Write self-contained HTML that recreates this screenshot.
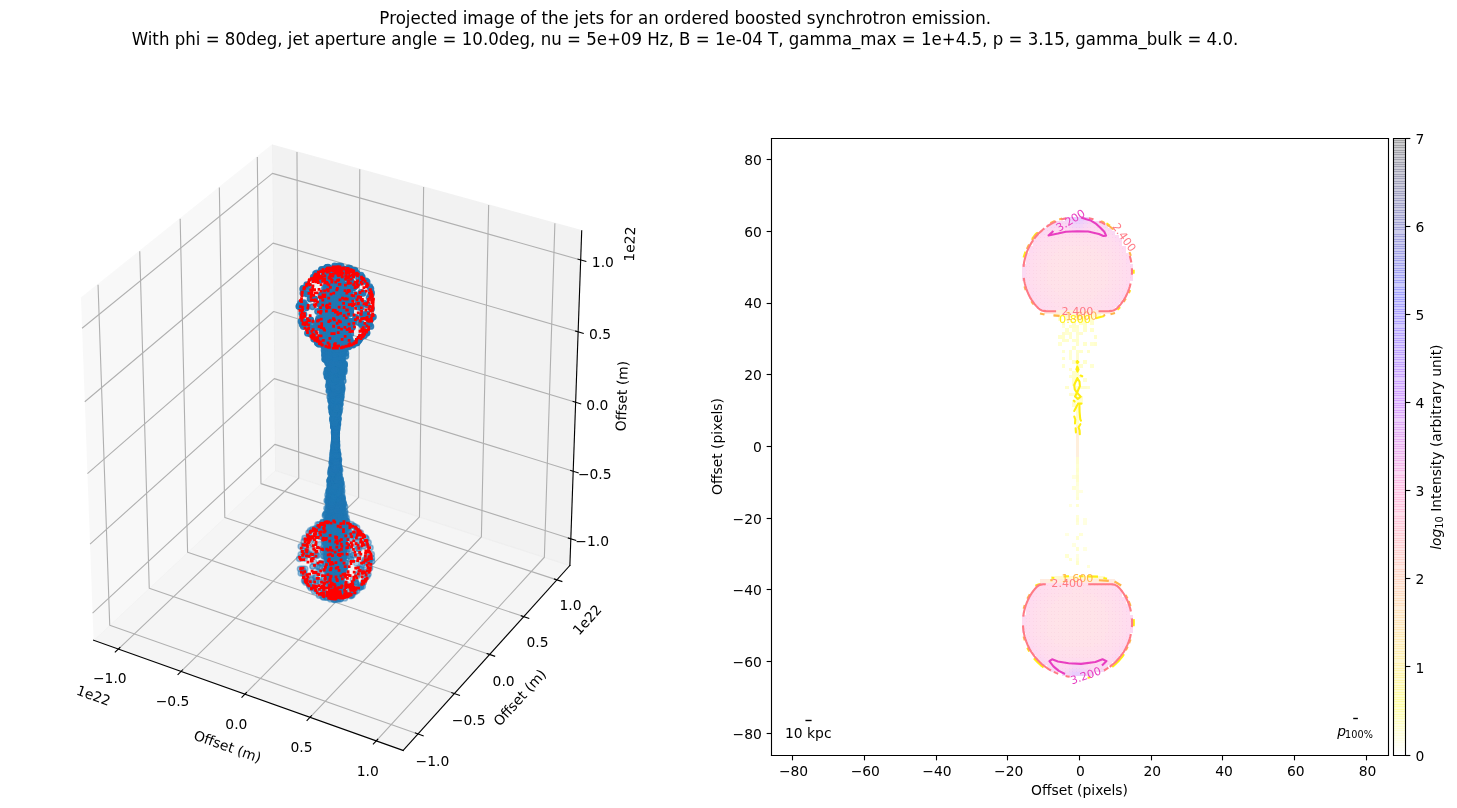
<!DOCTYPE html>
<html lang="en">
<head>
<meta charset="utf-8">
<title>Projected image of the jets</title>
<style>
html,body{margin:0;padding:0;background:#fff;overflow:hidden}
svg{display:block}
</style>
</head>
<body>
<svg width="1457" height="808" viewBox="0 0 1049.04 581.76" font-family="'DejaVu Sans', 'Liberation Sans', sans-serif">
<defs>
<style type="text/css">*{stroke-linejoin: round; stroke-linecap: butt}</style>
</defs>
<g id="figure_1">
<g id="patch_1">
<path d="M 0 581.76 
L 1049.04 581.76 
L 1049.04 0 
L 0 0 
z
" style="fill: #ffffff"/>
</g>
<g id="patch_2">
<path d="M -2.91 581.92 
L 473.03 581.92 
L 473.03 61.99 
L -2.91 61.99 
z
" style="fill: #ffffff"/>
</g>
<g id="pane3d_1">
<g id="patch_3">
<path d="M 67.37 461 
L 198.07 338.65 
L 195.97 104.45 
L 58.3 214.86 
" style="fill: #f2f2f2; opacity: 0.5; stroke: #f2f2f2; stroke-linejoin: miter"/>
</g>
</g>
<g id="pane3d_2">
<g id="patch_4">
<path d="M 198.07 338.65 
L 410.31 407.14 
L 418.83 166.16 
L 195.97 104.45 
" style="fill: #e6e6e6; opacity: 0.5; stroke: #e6e6e6; stroke-linejoin: miter"/>
</g>
</g>
<g id="pane3d_3">
<g id="patch_5">
<path d="M 67.37 461 
L 290.24 540.3 
L 410.31 407.14 
L 198.07 338.65 
" style="fill: #ececec; opacity: 0.5; stroke: #ececec; stroke-linejoin: miter"/>
</g>
</g>
<g id="grid3d_1">
<g id="Line3DCollection_1">
<path d="M 85.21 467.35 
L 215.1 344.15 
L 213.82 109.39 
" style="fill: none; stroke: #b0b0b0; stroke-width: 0.8"/>
<path d="M 130.38 483.42 
L 258.2 358.05 
L 259.02 121.9 
" style="fill: none; stroke: #b0b0b0; stroke-width: 0.8"/>
<path d="M 176.36 499.78 
L 302.03 372.2 
L 305.01 134.64 
" style="fill: none; stroke: #b0b0b0; stroke-width: 0.8"/>
<path d="M 223.2 516.45 
L 346.6 386.58 
L 351.84 147.61 
" style="fill: none; stroke: #b0b0b0; stroke-width: 0.8"/>
<path d="M 270.91 533.42 
L 391.95 401.22 
L 399.52 160.81 
" style="fill: none; stroke: #b0b0b0; stroke-width: 0.8"/>
</g>
</g>
<g id="grid3d_2">
<g id="Line3DCollection_2">
<path d="M 70.59 205.01 
L 79 450.12 
L 300.95 528.42 
" style="fill: none; stroke: #b0b0b0; stroke-width: 0.8"/>
<path d="M 100.62 180.91 
L 107.46 423.48 
L 327.14 499.37 
" style="fill: none; stroke: #b0b0b0; stroke-width: 0.8"/>
<path d="M 129.72 157.58 
L 135.06 397.64 
L 352.52 471.23 
" style="fill: none; stroke: #b0b0b0; stroke-width: 0.8"/>
<path d="M 157.92 134.96 
L 161.85 372.55 
L 377.12 443.95 
" style="fill: none; stroke: #b0b0b0; stroke-width: 0.8"/>
<path d="M 185.26 113.03 
L 187.87 348.2 
L 400.97 417.5 
" style="fill: none; stroke: #b0b0b0; stroke-width: 0.8"/>
</g>
</g>
<g id="grid3d_3">
<g id="Line3DCollection_3">
<path d="M 410.99 387.95 
L 197.9 319.96 
L 66.65 441.43 
" style="fill: none; stroke: #b0b0b0; stroke-width: 0.8"/>
<path d="M 412.71 339.28 
L 197.47 272.6 
L 64.82 391.77 
" style="fill: none; stroke: #b0b0b0; stroke-width: 0.8"/>
<path d="M 414.46 289.61 
L 197.04 224.31 
L 62.95 341.06 
" style="fill: none; stroke: #b0b0b0; stroke-width: 0.8"/>
<path d="M 416.26 238.92 
L 196.6 175.06 
L 61.04 289.27 
" style="fill: none; stroke: #b0b0b0; stroke-width: 0.8"/>
<path d="M 418.09 187.16 
L 196.15 124.82 
L 59.09 236.35 
" style="fill: none; stroke: #b0b0b0; stroke-width: 0.8"/>
</g>
</g>
<g id="axis3d_1">
<g id="line2d_1">
<path d="M 67.37 461 
L 290.24 540.3 
" style="fill: none; stroke: #000000; stroke-width: 0.8; stroke-linecap: square"/>
</g>
<g id="xtick_1">
<g id="line2d_2">
<path d="M 86.33 466.29 
L 82.98 469.47 
" style="fill: none; stroke: #000000; stroke-width: 0.8; stroke-linecap: square"/>
</g>
<g id="text_1" transform="translate(-.29 .65)">
<text style="font-size: 10px; text-anchor: middle" x="79.360875" y="491.235255">−1.0</text>
</g>
</g>
<g id="xtick_2">
<g id="line2d_3">
<path d="M 131.47 482.34 
L 128.17 485.58 
" style="fill: none; stroke: #000000; stroke-width: 0.8; stroke-linecap: square"/>
</g>
<g id="text_2" transform="translate(-.29 .65)">
<text style="font-size: 10px; text-anchor: middle" x="124.521124" y="507.469224">−0.5</text>
</g>
</g>
<g id="xtick_3">
<g id="line2d_4">
<path d="M 177.44 498.68 
L 174.2 501.98 
" style="fill: none; stroke: #000000; stroke-width: 0.8; stroke-linecap: square"/>
</g>
<g id="text_3" transform="translate(-.29 .65)">
<text style="font-size: 10px; text-anchor: middle" x="170.507404" y="524.00013">0.0</text>
</g>
</g>
<g id="xtick_4">
<g id="line2d_5">
<path d="M 224.26 515.33 
L 221.07 518.69 
" style="fill: none; stroke: #000000; stroke-width: 0.8; stroke-linecap: square"/>
</g>
<g id="text_4" transform="translate(-.29 .65)">
<text style="font-size: 10px; text-anchor: middle" x="217.342588" y="540.836196">0.5</text>
</g>
</g>
<g id="xtick_5">
<g id="line2d_6">
<path d="M 271.95 532.28 
L 268.82 535.7 
" style="fill: none; stroke: #000000; stroke-width: 0.8; stroke-linecap: square"/>
</g>
<g id="text_5" transform="translate(-.29 .65)">
<text style="font-size: 10px; text-anchor: middle" x="265.050401" y="557.98595">1.0</text>
</g>
</g>
<g id="text_6" transform="translate(.58 .94)">
<text style="font-size: 10px; text-anchor: start" x="53.714389" y="498.911452" transform="rotate(-340.415013 53.714389 498.911452)">1e22</text>
</g>
<g id="text_7" transform="translate(0 2.16)">
<text style="font-size: 10px; text-anchor: middle" x="162.691381" y="538.559818" transform="rotate(-340.415013 162.691381 538.559818)">Offset (m)</text>
</g>
</g>
<g id="axis3d_2">
<g id="line2d_7">
<path d="M 410.31 407.14 
L 290.24 540.3 
" style="fill: none; stroke: #000000; stroke-width: 0.8; stroke-linecap: square"/>
</g>
<g id="xtick_6">
<g id="line2d_8">
<path d="M 299.1 527.76 
L 304.67 529.73 
" style="fill: none; stroke: #000000; stroke-width: 0.8; stroke-linecap: square"/>
</g>
<g id="text_8" transform="translate(.29 .94)">
<text style="font-size: 10px; text-anchor: middle" x="311.095058" y="550.252586">−1.0</text>
</g>
</g>
<g id="xtick_7">
<g id="line2d_9">
<path d="M 325.31 498.74 
L 330.82 500.64 
" style="fill: none; stroke: #000000; stroke-width: 0.8; stroke-linecap: square"/>
</g>
<g id="text_9" transform="translate(.29 .94)">
<text style="font-size: 10px; text-anchor: middle" x="337.117341" y="520.990859">−0.5</text>
</g>
</g>
<g id="xtick_8">
<g id="line2d_10">
<path d="M 350.7 470.62 
L 356.15 472.46 
" style="fill: none; stroke: #000000; stroke-width: 0.8; stroke-linecap: square"/>
</g>
<g id="text_10" transform="translate(.29 .94)">
<text style="font-size: 10px; text-anchor: middle" x="362.329383" y="492.640237">0.0</text>
</g>
</g>
<g id="xtick_9">
<g id="line2d_11">
<path d="M 375.32 443.36 
L 380.71 445.14 
" style="fill: none; stroke: #000000; stroke-width: 0.8; stroke-linecap: square"/>
</g>
<g id="text_11" transform="translate(.29 .94)">
<text style="font-size: 10px; text-anchor: middle" x="386.768445" y="465.158822">0.5</text>
</g>
</g>
<g id="xtick_10">
<g id="line2d_12">
<path d="M 399.19 416.92 
L 404.52 418.65 
" style="fill: none; stroke: #000000; stroke-width: 0.8; stroke-linecap: square"/>
</g>
<g id="text_12" transform="translate(.29 .94)">
<text style="font-size: 10px; text-anchor: middle" x="410.469538" y="438.507243">1.0</text>
</g>
</g>
<g id="text_13" transform="translate(.94 1.3)">
<text style="font-size: 10px; text-anchor: end" x="432.876022" y="437.961339" transform="rotate(-47.958582 432.876022 437.961339)">1e22</text>
</g>
<g id="text_14" transform="translate(.94 1.58)">
<text style="font-size: 10px; text-anchor: middle" x="375.888257" y="503.092769" transform="rotate(-47.958582 375.888257 503.092769)">Offset (m)</text>
</g>
</g>
<g id="axis3d_3">
<g id="line2d_13">
<path d="M 410.31 407.14 
L 418.83 166.16 
" style="fill: none; stroke: #000000; stroke-width: 0.8; stroke-linecap: square"/>
</g>
<g id="xtick_11">
<g id="line2d_14">
<path d="M 409.21 387.38 
L 414.54 389.08 
" style="fill: none; stroke: #000000; stroke-width: 0.8; stroke-linecap: square"/>
</g>
<g id="text_15" transform="translate(.58 -.07)">
<text style="font-size: 10px; text-anchor: middle" x="425.770581" y="393.248184">−1.0</text>
</g>
</g>
<g id="xtick_12">
<g id="line2d_15">
<path d="M 410.91 338.72 
L 416.3 340.39 
" style="fill: none; stroke: #000000; stroke-width: 0.8; stroke-linecap: square"/>
</g>
<g id="text_16" transform="translate(.58 -.07)">
<text style="font-size: 10px; text-anchor: middle" x="427.638454" y="344.624338">−0.5</text>
</g>
</g>
<g id="xtick_13">
<g id="line2d_16">
<path d="M 412.65 289.07 
L 418.09 290.7 
" style="fill: none; stroke: #000000; stroke-width: 0.8; stroke-linecap: square"/>
</g>
<g id="text_17" transform="translate(.58 -.07)">
<text style="font-size: 10px; text-anchor: middle" x="429.54458" y="295.004678">0.0</text>
</g>
</g>
<g id="xtick_14">
<g id="line2d_17">
<path d="M 414.42 238.39 
L 419.92 239.99 
" style="fill: none; stroke: #000000; stroke-width: 0.8; stroke-linecap: square"/>
</g>
<g id="text_18" transform="translate(.58 -.07)">
<text style="font-size: 10px; text-anchor: middle" x="431.490148" y="244.358296">0.5</text>
</g>
</g>
<g id="xtick_15">
<g id="line2d_18">
<path d="M 416.23 186.64 
L 421.79 188.2 
" style="fill: none; stroke: #000000; stroke-width: 0.8; stroke-linecap: square"/>
</g>
<g id="text_19" transform="translate(.58 -.07)">
<text style="font-size: 10px; text-anchor: middle" x="433.476395" y="192.652992">1.0</text>
</g>
</g>
<g id="text_20" transform="translate(2.23 1.51)">
<text style="font-size: 10px; text-anchor: end" x="455.125988" y="161.722562" transform="rotate(-87.975429 455.125988 161.722562)">1e22</text>
</g>
<g id="text_21" transform="translate(1.3 .36)">
<text style="font-size: 10px; text-anchor: middle" x="449.951917" y="284.920547" transform="rotate(-87.975429 449.951917 284.920547)">Offset (m)</text>
</g>
</g>
<g id="axes_1">
<g id="Path3DCollection_1" fill="#1f77b4" stroke="#1f77b4" stroke-width="1">
<g fill-opacity=".3" stroke-opacity=".3">
<circle cx="242.7" cy="401.5" r="2"/>
<circle cx="243.9" cy="398.1" r="2"/>
<circle cx="240.7" cy="408.8" r="2"/>
<circle cx="239.6" cy="393.7" r="2"/>
<circle cx="238.3" cy="410.7" r="2"/>
<circle cx="243.9" cy="393.2" r="2"/>
<circle cx="244.2" cy="410.9" r="2"/>
<circle cx="237.1" cy="411" r="2"/>
<circle cx="251.9" cy="400.7" r="2"/>
<circle cx="241.3" cy="413.6" r="2"/>
</g>
<g fill-opacity=".32" stroke-opacity=".32">
<circle cx="244.8" cy="391" r="2"/>
<circle cx="237.1" cy="413.6" r="2"/>
<circle cx="252.6" cy="398.8" r="2"/>
<circle cx="251.8" cy="395" r="2"/>
<circle cx="235.7" cy="390.3" r="2"/>
<circle cx="236.6" cy="389.5" r="2"/>
<circle cx="237.5" cy="415.4" r="2"/>
<circle cx="252.3" cy="392.7" r="2"/>
<circle cx="238.1" cy="417.3" r="2"/>
<circle cx="230.3" cy="391.9" r="2"/>
<circle cx="230.2" cy="412.6" r="2"/>
<circle cx="229.1" cy="411.8" r="2"/>
<circle cx="233.1" cy="416.2" r="2"/>
<circle cx="256.6" cy="405.6" r="2"/>
<circle cx="226.1" cy="404.6" r="2"/>
<circle cx="242.6" cy="419.4" r="2"/>
<circle cx="240.2" cy="419.7" r="2"/>
<circle cx="232.5" cy="417.6" r="2"/>
<circle cx="235" cy="419.2" r="2"/>
<circle cx="224.6" cy="399.9" r="2"/>
<circle cx="236.6" cy="420.5" r="2"/>
</g>
<g fill-opacity=".34" stroke-opacity=".34">
<circle cx="234.9" cy="384.5" r="2"/>
<circle cx="256.9" cy="392.9" r="2"/>
<circle cx="248.1" cy="420.3" r="2"/>
<circle cx="258.3" cy="409" r="2"/>
<circle cx="238.6" cy="421.9" r="2"/>
<circle cx="258.5" cy="395.3" r="2"/>
<circle cx="254.1" cy="417.2" r="2"/>
<circle cx="249.5" cy="420.7" r="2"/>
<circle cx="245.1" cy="422.4" r="2"/>
<circle cx="223.7" cy="396" r="2"/>
<circle cx="257.5" cy="413.4" r="2"/>
<circle cx="222.7" cy="399.4" r="2"/>
<circle cx="257.5" cy="413.8" r="2"/>
<circle cx="224.8" cy="391.7" r="2"/>
<circle cx="222.4" cy="398.5" r="2"/>
<circle cx="260.8" cy="406.8" r="2"/>
<circle cx="241.4" cy="424.6" r="2"/>
<circle cx="251.1" cy="382.2" r="2"/>
<circle cx="238.6" cy="425" r="2"/>
<circle cx="224.8" cy="416.2" r="2"/>
<circle cx="243.6" cy="425.2" r="2"/>
<circle cx="246.5" cy="424.8" r="2"/>
<circle cx="220.7" cy="397" r="2"/>
</g>
<g fill-opacity=".36" stroke-opacity=".36">
<circle cx="249.8" cy="424.2" r="2"/>
<circle cx="248.5" cy="380.1" r="2"/>
<circle cx="247.2" cy="425.3" r="2"/>
<circle cx="241.2" cy="426.3" r="2"/>
<circle cx="240.7" cy="426.4" r="2"/>
<circle cx="229.8" cy="382.2" r="2"/>
<circle cx="247" cy="425.7" r="2"/>
<circle cx="241.9" cy="426.6" r="2"/>
<circle cx="242.7" cy="426.6" r="2"/>
<circle cx="244" cy="378.4" r="2"/>
<circle cx="219.3" cy="402.2" r="2"/>
<circle cx="262.5" cy="410.2" r="2"/>
<circle cx="243" cy="426.7" r="2"/>
<circle cx="232.2" cy="380.4" r="2"/>
<circle cx="223.9" cy="387.6" r="2"/>
<circle cx="262.1" cy="411.8" r="2"/>
<circle cx="237.4" cy="378.3" r="2"/>
<circle cx="230.2" cy="381.1" r="2"/>
<circle cx="242.7" cy="421" r="2"/>
<circle cx="219.7" cy="409.6" r="2"/>
<circle cx="233.1" cy="425.6" r="2"/>
<circle cx="241.4" cy="427.3" r="2"/>
<circle cx="241.5" cy="427.4" r="2"/>
<circle cx="242.3" cy="377.6" r="2"/>
<circle cx="239.4" cy="420.6" r="2"/>
<circle cx="239" cy="377.7" r="2"/>
<circle cx="240.7" cy="420" r="2"/>
<circle cx="242.7" cy="427.5" r="2"/>
<circle cx="239.2" cy="427.5" r="2"/>
<circle cx="244.4" cy="377.6" r="2"/>
<circle cx="244.6" cy="427.5" r="2"/>
<circle cx="242.2" cy="427.7" r="2"/>
<circle cx="240.6" cy="416.7" r="2"/>
<circle cx="241.1" cy="415.9" r="2"/>
<circle cx="241" cy="427.8" r="2"/>
<circle cx="247.5" cy="427" r="2"/>
<circle cx="243.3" cy="419.4" r="2"/>
<circle cx="241.5" cy="427.9" r="2"/>
<circle cx="238.5" cy="422.6" r="2"/>
<circle cx="242.1" cy="419.1" r="2"/>
<circle cx="242.3" cy="428" r="2"/>
<circle cx="243.4" cy="428" r="2"/>
<circle cx="242.1" cy="428.1" r="2"/>
<circle cx="241.2" cy="419.5" r="2"/>
<circle cx="251.1" cy="379.2" r="2"/>
<circle cx="242.3" cy="422.7" r="2"/>
<circle cx="240.4" cy="420.6" r="2"/>
<circle cx="241.7" cy="422.8" r="2"/>
<circle cx="238.6" cy="421" r="2"/>
<circle cx="238.3" cy="420.9" r="2"/>
<circle cx="243.4" cy="422" r="2"/>
<circle cx="243.8" cy="421" r="2"/>
<circle cx="240.1" cy="415.4" r="2"/>
<circle cx="240.5" cy="428.3" r="2"/>
<circle cx="243.6" cy="420.3" r="2"/>
<circle cx="241.1" cy="422.5" r="2"/>
<circle cx="243.7" cy="415.5" r="2"/>
<circle cx="242" cy="428.4" r="2"/>
<circle cx="242.1" cy="416.8" r="2"/>
<circle cx="240.6" cy="420.3" r="2"/>
<circle cx="240.5" cy="420.6" r="2"/>
<circle cx="232" cy="426.4" r="2"/>
<circle cx="247.3" cy="427.8" r="2"/>
<circle cx="242.3" cy="416.5" r="2"/>
<circle cx="243" cy="420.8" r="2"/>
<circle cx="247.7" cy="427.8" r="2"/>
<circle cx="218.3" cy="396.5" r="2"/>
<circle cx="244.7" cy="421.1" r="2"/>
<circle cx="242.5" cy="423.2" r="2"/>
</g>
<g fill-opacity=".38" stroke-opacity=".38">
<circle cx="243.5" cy="414.7" r="2"/>
<circle cx="232.9" cy="427.1" r="2"/>
<circle cx="239.9" cy="418.1" r="2"/>
<circle cx="235.3" cy="427.9" r="2"/>
<circle cx="219.7" cy="413.7" r="2"/>
<circle cx="239.1" cy="417.3" r="2"/>
<circle cx="239.9" cy="422.1" r="2"/>
<circle cx="237.6" cy="417.8" r="2"/>
<circle cx="248.6" cy="427.7" r="2"/>
<circle cx="238.4" cy="419" r="2"/>
<circle cx="240.2" cy="418.5" r="2"/>
<circle cx="238.9" cy="428.8" r="2"/>
<circle cx="218.7" cy="411.4" r="2"/>
<circle cx="242.2" cy="416.7" r="2"/>
<circle cx="240.7" cy="420.9" r="2"/>
<circle cx="243.7" cy="424.3" r="2"/>
<circle cx="240.9" cy="423.3" r="2"/>
<circle cx="240.2" cy="424.7" r="2"/>
<circle cx="244.5" cy="420.9" r="2"/>
<circle cx="242.8" cy="429.1" r="2"/>
<circle cx="240.4" cy="420" r="2"/>
<circle cx="241" cy="422.9" r="2"/>
<circle cx="240.2" cy="424.5" r="2"/>
<circle cx="234.1" cy="428" r="2"/>
<circle cx="240.9" cy="420.1" r="2"/>
<circle cx="245.2" cy="428.9" r="2"/>
<circle cx="217.9" cy="409.5" r="2"/>
<circle cx="241.5" cy="408.7" r="2"/>
<circle cx="244.2" cy="412.1" r="2"/>
<circle cx="241.8" cy="414.2" r="2"/>
<circle cx="244.6" cy="418.6" r="2"/>
<circle cx="247.6" cy="428.5" r="2"/>
<circle cx="243.6" cy="422.6" r="2"/>
<circle cx="239" cy="416.7" r="2"/>
<circle cx="237.9" cy="421.8" r="2"/>
<circle cx="239.2" cy="421.2" r="2"/>
<circle cx="238.4" cy="408.8" r="2"/>
<circle cx="244.3" cy="414.5" r="2"/>
<circle cx="244.1" cy="412.4" r="2"/>
<circle cx="242.3" cy="418" r="2"/>
<circle cx="243.4" cy="419.7" r="2"/>
<circle cx="245.1" cy="412.9" r="2"/>
<circle cx="244.8" cy="408.7" r="2"/>
<circle cx="238.4" cy="413.6" r="2"/>
<circle cx="243.8" cy="412.7" r="2"/>
<circle cx="266.1" cy="404.9" r="2"/>
<circle cx="238.6" cy="422.5" r="2"/>
<circle cx="243" cy="410.7" r="2"/>
<circle cx="242.5" cy="416.5" r="2"/>
<circle cx="266.2" cy="402.5" r="2"/>
<circle cx="244.8" cy="421.7" r="2"/>
<circle cx="239.5" cy="422.6" r="2"/>
<circle cx="241.7" cy="415.5" r="2"/>
<circle cx="239.5" cy="423.8" r="2"/>
<circle cx="237.6" cy="429.4" r="2"/>
<circle cx="241.3" cy="405.7" r="2"/>
<circle cx="244.7" cy="416.9" r="2"/>
<circle cx="242.3" cy="422.1" r="2"/>
<circle cx="243.3" cy="418.5" r="2"/>
<circle cx="242" cy="415.3" r="2"/>
<circle cx="245.4" cy="415.1" r="2"/>
<circle cx="239.4" cy="420.5" r="2"/>
<circle cx="248.1" cy="428.8" r="2"/>
<circle cx="241.4" cy="418.8" r="2"/>
<circle cx="246.2" cy="413.9" r="2"/>
<circle cx="245.1" cy="419" r="2"/>
<circle cx="262.9" cy="416.5" r="2"/>
<circle cx="242.6" cy="414.8" r="2"/>
<circle cx="240.8" cy="403.8" r="2"/>
<circle cx="240.8" cy="418.2" r="2"/>
<circle cx="238.5" cy="414.8" r="2"/>
<circle cx="243.1" cy="415" r="2"/>
<circle cx="242.9" cy="421.1" r="2"/>
<circle cx="237.8" cy="418.6" r="2"/>
<circle cx="242.8" cy="422.5" r="2"/>
<circle cx="236.4" cy="415" r="2"/>
<circle cx="237.8" cy="420.4" r="2"/>
<circle cx="237.9" cy="429.7" r="2"/>
<circle cx="242.4" cy="423.8" r="2"/>
<circle cx="242.3" cy="430" r="2"/>
<circle cx="246.8" cy="411.6" r="2"/>
<circle cx="218.3" cy="412.9" r="2"/>
<circle cx="239.9" cy="422.2" r="2"/>
<circle cx="244.2" cy="414.9" r="2"/>
<circle cx="237.2" cy="412.2" r="2"/>
<circle cx="237.4" cy="418.8" r="2"/>
<circle cx="241.8" cy="423.6" r="2"/>
<circle cx="245.8" cy="419.3" r="2"/>
<circle cx="245.8" cy="416.1" r="2"/>
<circle cx="216.6" cy="399.3" r="2"/>
<circle cx="241.8" cy="424.8" r="2"/>
<circle cx="243" cy="430.1" r="2"/>
<circle cx="244.5" cy="422.5" r="2"/>
<circle cx="236.1" cy="407" r="2"/>
<circle cx="241.1" cy="420" r="2"/>
<circle cx="260.2" cy="421.1" r="2"/>
<circle cx="242.6" cy="403.7" r="2"/>
<circle cx="222.4" cy="420.7" r="2"/>
<circle cx="242.7" cy="418.1" r="2"/>
<circle cx="236.1" cy="406.6" r="2"/>
<circle cx="259.7" cy="383.5" r="2"/>
<circle cx="246.9" cy="410.1" r="2"/>
<circle cx="243.3" cy="406" r="2"/>
<circle cx="245.6" cy="414.9" r="2"/>
<circle cx="241.9" cy="422.5" r="2"/>
<circle cx="243.3" cy="421.1" r="2"/>
<circle cx="239.2" cy="421.8" r="2"/>
<circle cx="240.3" cy="416.6" r="2"/>
<circle cx="241.3" cy="417.1" r="2"/>
<circle cx="241.5" cy="421.2" r="2"/>
<circle cx="242.3" cy="418.9" r="2"/>
<circle cx="238.7" cy="404.9" r="2"/>
<circle cx="241.8" cy="419.1" r="2"/>
<circle cx="244.9" cy="418.9" r="2"/>
<circle cx="237.9" cy="401.3" r="2"/>
<circle cx="245.5" cy="410.5" r="2"/>
<circle cx="237.6" cy="415.9" r="2"/>
<circle cx="242.7" cy="416" r="2"/>
<circle cx="242.8" cy="405.8" r="2"/>
<circle cx="240.6" cy="430.5" r="2"/>
<circle cx="243.2" cy="411.4" r="2"/>
<circle cx="238.6" cy="399.7" r="2"/>
<circle cx="264.4" cy="415" r="2"/>
<circle cx="240.9" cy="407.7" r="2"/>
<circle cx="244.2" cy="422.1" r="2"/>
</g>
<g fill-opacity=".4" stroke-opacity=".4">
<circle cx="239.8" cy="420.8" r="2"/>
<circle cx="242.1" cy="416.6" r="2"/>
<circle cx="243.7" cy="399.2" r="2"/>
<circle cx="240.9" cy="418.7" r="2"/>
<circle cx="244.9" cy="413.3" r="2"/>
<circle cx="242.5" cy="408.7" r="2"/>
<circle cx="243.2" cy="411.1" r="2"/>
<circle cx="239.4" cy="422.2" r="2"/>
<circle cx="236" cy="412.9" r="2"/>
<circle cx="238.8" cy="421.5" r="2"/>
<circle cx="237.2" cy="411.8" r="2"/>
<circle cx="259.8" cy="422.4" r="2"/>
<circle cx="235.8" cy="414.6" r="2"/>
<circle cx="242" cy="416.7" r="2"/>
<circle cx="238" cy="415.6" r="2"/>
<circle cx="241.6" cy="422" r="2"/>
<circle cx="238.4" cy="408.2" r="2"/>
<circle cx="245.5" cy="419" r="2"/>
<circle cx="245.3" cy="415" r="2"/>
<circle cx="218.7" cy="389.8" r="2"/>
<circle cx="241.7" cy="418.3" r="2"/>
<circle cx="238.2" cy="415.7" r="2"/>
<circle cx="236.7" cy="411.9" r="2"/>
<circle cx="236.1" cy="414.4" r="2"/>
<circle cx="242.3" cy="413.6" r="2"/>
<circle cx="235.3" cy="430.1" r="2"/>
<circle cx="242.1" cy="414.3" r="2"/>
<circle cx="232.5" cy="376.3" r="2"/>
<circle cx="257.1" cy="425.3" r="2"/>
<circle cx="252" cy="428.6" r="2"/>
<circle cx="259.9" cy="422.6" r="2"/>
<circle cx="255.4" cy="379" r="2"/>
<circle cx="248.5" cy="408.2" r="2"/>
<circle cx="237" cy="402.4" r="2"/>
<circle cx="245.3" cy="406.7" r="2"/>
<circle cx="239.2" cy="409.3" r="2"/>
<circle cx="240.4" cy="401.1" r="2"/>
<circle cx="219.7" cy="417.9" r="2"/>
<circle cx="238.4" cy="415.7" r="2"/>
<circle cx="242.3" cy="397.5" r="2"/>
<circle cx="247.3" cy="400.7" r="2"/>
<circle cx="247.4" cy="400.1" r="2"/>
<circle cx="246.3" cy="417.5" r="2"/>
<circle cx="238.5" cy="411.5" r="2"/>
<circle cx="242.8" cy="417.6" r="2"/>
<circle cx="244.4" cy="413.2" r="2"/>
<circle cx="243.2" cy="391.9" r="2"/>
<circle cx="253" cy="377.4" r="2"/>
<circle cx="235" cy="430.3" r="2"/>
<circle cx="242.5" cy="417.6" r="2"/>
<circle cx="240.6" cy="409.4" r="2"/>
<circle cx="243.6" cy="418.4" r="2"/>
<circle cx="244.6" cy="415.4" r="2"/>
<circle cx="242.9" cy="407.1" r="2"/>
<circle cx="243.7" cy="405.6" r="2"/>
<circle cx="226.3" cy="425.9" r="2"/>
<circle cx="241.3" cy="398.7" r="2"/>
<circle cx="245.2" cy="415.2" r="2"/>
<circle cx="238.5" cy="410.5" r="2"/>
<circle cx="235.9" cy="395.8" r="2"/>
<circle cx="237.6" cy="409" r="2"/>
<circle cx="235.9" cy="403.6" r="2"/>
<circle cx="243.7" cy="405.8" r="2"/>
<circle cx="234.6" cy="401.1" r="2"/>
<circle cx="242.7" cy="406.2" r="2"/>
<circle cx="245.7" cy="414.7" r="2"/>
<circle cx="241.1" cy="405.4" r="2"/>
<circle cx="246.8" cy="413.2" r="2"/>
<circle cx="232.2" cy="376.2" r="2"/>
<circle cx="239.7" cy="401.3" r="2"/>
<circle cx="245" cy="415.4" r="2"/>
<circle cx="241" cy="415.9" r="2"/>
<circle cx="241.1" cy="407.1" r="2"/>
<circle cx="253.1" cy="428.4" r="2"/>
<circle cx="239.2" cy="415.6" r="2"/>
<circle cx="237.3" cy="404.1" r="2"/>
<circle cx="247.1" cy="398.6" r="2"/>
<circle cx="241.5" cy="413.6" r="2"/>
<circle cx="241.8" cy="389.2" r="2"/>
<circle cx="243.1" cy="374.3" r="2"/>
<circle cx="236" cy="392.4" r="2"/>
<circle cx="241.1" cy="396.8" r="2"/>
<circle cx="248" cy="408.8" r="2"/>
<circle cx="239.3" cy="407.4" r="2"/>
<circle cx="238.8" cy="418" r="2"/>
<circle cx="236.2" cy="406.4" r="2"/>
<circle cx="235.6" cy="401.6" r="2"/>
<circle cx="238.3" cy="393.3" r="2"/>
<circle cx="245.8" cy="404" r="2"/>
<circle cx="244.8" cy="374.5" r="2"/>
<circle cx="239.6" cy="417.9" r="2"/>
<circle cx="240.3" cy="413.4" r="2"/>
<circle cx="236.3" cy="405.1" r="2"/>
<circle cx="232.5" cy="375.9" r="2"/>
<circle cx="236.2" cy="407" r="2"/>
<circle cx="240.4" cy="389" r="2"/>
<circle cx="245.7" cy="374.6" r="2"/>
<circle cx="263.8" cy="387.8" r="2"/>
<circle cx="239.4" cy="398.5" r="2"/>
<circle cx="235.8" cy="392" r="2"/>
<circle cx="239.4" cy="413.5" r="2"/>
<circle cx="248.4" cy="404.9" r="2"/>
<circle cx="248.3" cy="410.4" r="2"/>
<circle cx="244.7" cy="410" r="2"/>
<circle cx="236.5" cy="410.3" r="2"/>
<circle cx="243.2" cy="415.1" r="2"/>
<circle cx="244.5" cy="409.3" r="2"/>
<circle cx="237.8" cy="412.6" r="2"/>
<circle cx="220" cy="419.4" r="2"/>
<circle cx="241.9" cy="389" r="2"/>
</g>
<g fill-opacity=".42" stroke-opacity=".42">
<circle cx="246.5" cy="409.9" r="2"/>
<circle cx="235.1" cy="410.5" r="2"/>
<circle cx="235.6" cy="402.9" r="2"/>
<circle cx="247.1" cy="403.6" r="2"/>
<circle cx="236.6" cy="410.3" r="2"/>
<circle cx="241.4" cy="408.9" r="2"/>
<circle cx="228.7" cy="377.7" r="2"/>
<circle cx="241.1" cy="402.7" r="2"/>
<circle cx="242.7" cy="418" r="2"/>
<circle cx="244.5" cy="395.6" r="2"/>
<circle cx="243.4" cy="406" r="2"/>
<circle cx="246" cy="394.3" r="2"/>
<circle cx="234.3" cy="406" r="2"/>
<circle cx="236.1" cy="374.7" r="2"/>
<circle cx="234.9" cy="400.2" r="2"/>
<circle cx="241.4" cy="406.1" r="2"/>
<circle cx="243.1" cy="431.6" r="2"/>
<circle cx="244.1" cy="392" r="2"/>
<circle cx="237.1" cy="374.5" r="2"/>
<circle cx="223.4" cy="382" r="2"/>
<circle cx="241.3" cy="408.6" r="2"/>
<circle cx="239.2" cy="389.3" r="2"/>
<circle cx="261.1" cy="422.2" r="2"/>
<circle cx="237.1" cy="410.3" r="2"/>
<circle cx="248.3" cy="430.8" r="2"/>
<circle cx="241" cy="402.2" r="2"/>
<circle cx="239.8" cy="374.2" r="2"/>
<circle cx="235" cy="411.8" r="2"/>
<circle cx="247.4" cy="409" r="2"/>
<circle cx="246.1" cy="412.3" r="2"/>
<circle cx="244.8" cy="392.1" r="2"/>
<circle cx="234.6" cy="396.6" r="2"/>
<circle cx="247.4" cy="411.1" r="2"/>
<circle cx="240.7" cy="409.7" r="2"/>
<circle cx="240.7" cy="415.9" r="2"/>
<circle cx="236.6" cy="396.8" r="2"/>
<circle cx="240.5" cy="431.7" r="2"/>
<circle cx="240.8" cy="409" r="2"/>
<circle cx="233" cy="430.2" r="2"/>
<circle cx="241.1" cy="394.9" r="2"/>
<circle cx="249.9" cy="375.6" r="2"/>
<circle cx="241.6" cy="413.7" r="2"/>
<circle cx="239.3" cy="396.6" r="2"/>
<circle cx="242.2" cy="415.4" r="2"/>
<circle cx="243.7" cy="410.6" r="2"/>
<circle cx="244.3" cy="406.8" r="2"/>
<circle cx="242.5" cy="408.9" r="2"/>
<circle cx="240.1" cy="412.3" r="2"/>
<circle cx="241.4" cy="404.6" r="2"/>
<circle cx="242" cy="417" r="2"/>
<circle cx="237.2" cy="408.1" r="2"/>
<circle cx="236.5" cy="390.1" r="2"/>
<circle cx="237.9" cy="431.5" r="2"/>
<circle cx="233.6" cy="400.6" r="2"/>
<circle cx="234.6" cy="391" r="2"/>
<circle cx="245.8" cy="390.4" r="2"/>
<circle cx="248.7" cy="407.5" r="2"/>
<circle cx="246.3" cy="388.9" r="2"/>
<circle cx="244.6" cy="399.9" r="2"/>
<circle cx="216.6" cy="412.7" r="2"/>
<circle cx="239.2" cy="409.6" r="2"/>
<circle cx="234.6" cy="390.4" r="2"/>
<circle cx="242.3" cy="415.4" r="2"/>
<circle cx="248.4" cy="391.9" r="2"/>
<circle cx="237.3" cy="396.1" r="2"/>
<circle cx="247.2" cy="393" r="2"/>
<circle cx="239.9" cy="383.7" r="2"/>
<circle cx="236.9" cy="408.8" r="2"/>
<circle cx="244.1" cy="374.3" r="2"/>
<circle cx="239.7" cy="398.5" r="2"/>
<circle cx="237.9" cy="391.4" r="2"/>
<circle cx="252.6" cy="429.2" r="2"/>
<circle cx="238.7" cy="406.2" r="2"/>
<circle cx="245.6" cy="405.8" r="2"/>
<circle cx="216.6" cy="393.4" r="2"/>
<circle cx="241.5" cy="431.8" r="2"/>
<circle cx="242.1" cy="404.5" r="2"/>
<circle cx="245.5" cy="406.4" r="2"/>
<circle cx="240.9" cy="402.3" r="2"/>
<circle cx="239" cy="407.8" r="2"/>
<circle cx="239.2" cy="391.8" r="2"/>
<circle cx="246.1" cy="384.3" r="2"/>
<circle cx="229.7" cy="428.8" r="2"/>
<circle cx="237.1" cy="408" r="2"/>
<circle cx="243.7" cy="410.6" r="2"/>
<circle cx="246" cy="374.6" r="2"/>
<circle cx="239.5" cy="383.3" r="2"/>
<circle cx="240" cy="395.9" r="2"/>
<circle cx="266.7" cy="394.4" r="2"/>
<circle cx="245.7" cy="406.6" r="2"/>
<circle cx="247.3" cy="393.1" r="2"/>
<circle cx="240.3" cy="406.2" r="2"/>
<circle cx="247.8" cy="408.3" r="2"/>
<circle cx="243.1" cy="412.7" r="2"/>
<circle cx="240.4" cy="407.6" r="2"/>
<circle cx="244.2" cy="410.1" r="2"/>
<circle cx="241.3" cy="384.7" r="2"/>
<circle cx="238.2" cy="386.8" r="2"/>
<circle cx="244.3" cy="412.5" r="2"/>
<circle cx="234.8" cy="389.4" r="2"/>
<circle cx="245.8" cy="400.7" r="2"/>
<circle cx="238.2" cy="401.2" r="2"/>
<circle cx="241.5" cy="399.5" r="2"/>
<circle cx="267.6" cy="399" r="2"/>
<circle cx="232.4" cy="396.1" r="2"/>
<circle cx="239.3" cy="403.4" r="2"/>
<circle cx="246.3" cy="395.8" r="2"/>
<circle cx="247.5" cy="397.5" r="2"/>
<circle cx="235.4" cy="394.8" r="2"/>
<circle cx="246.3" cy="400.5" r="2"/>
<circle cx="243.3" cy="410.6" r="2"/>
<circle cx="237.3" cy="392.2" r="2"/>
<circle cx="265.3" cy="390.6" r="2"/>
<circle cx="219" cy="418.1" r="2"/>
<circle cx="239.1" cy="403.2" r="2"/>
<circle cx="240.5" cy="431.8" r="2"/>
<circle cx="238.3" cy="395" r="2"/>
<circle cx="238.6" cy="408.7" r="2"/>
<circle cx="234.5" cy="405.3" r="2"/>
</g>
<g fill-opacity=".44" stroke-opacity=".44">
<circle cx="267.8" cy="404.2" r="2"/>
<circle cx="235.8" cy="398.8" r="2"/>
<circle cx="253.6" cy="428.6" r="2"/>
<circle cx="243.9" cy="389.3" r="2"/>
<circle cx="245" cy="431.5" r="2"/>
<circle cx="237.3" cy="391.9" r="2"/>
<circle cx="236.9" cy="392.6" r="2"/>
<circle cx="240.1" cy="409.5" r="2"/>
<circle cx="247.1" cy="390.6" r="2"/>
<circle cx="247" cy="409.3" r="2"/>
<circle cx="236" cy="391.8" r="2"/>
<circle cx="245.2" cy="389.3" r="2"/>
<circle cx="222.2" cy="383.5" r="2"/>
<circle cx="243.7" cy="412.5" r="2"/>
<circle cx="219.4" cy="387.4" r="2"/>
<circle cx="249.1" cy="400.3" r="2"/>
<circle cx="246.5" cy="385" r="2"/>
<circle cx="239.6" cy="380.1" r="2"/>
<circle cx="239.5" cy="407" r="2"/>
<circle cx="247.9" cy="400.6" r="2"/>
<circle cx="240.3" cy="381" r="2"/>
<circle cx="235.6" cy="392.8" r="2"/>
<circle cx="237.3" cy="404.1" r="2"/>
<circle cx="244.6" cy="389.4" r="2"/>
<circle cx="267.7" cy="401.9" r="2"/>
<circle cx="244.1" cy="408.1" r="2"/>
<circle cx="240.2" cy="395" r="2"/>
<circle cx="246" cy="406.2" r="2"/>
<circle cx="257" cy="380" r="2"/>
<circle cx="244.3" cy="378.6" r="2"/>
<circle cx="238.7" cy="379.7" r="2"/>
<circle cx="245.7" cy="395.7" r="2"/>
<circle cx="239.2" cy="407.7" r="2"/>
<circle cx="238.4" cy="410.6" r="2"/>
<circle cx="244.2" cy="392.8" r="2"/>
<circle cx="235.1" cy="400.8" r="2"/>
<circle cx="263.1" cy="386.9" r="2"/>
<circle cx="235.2" cy="385.8" r="2"/>
<circle cx="240.5" cy="374.5" r="2"/>
<circle cx="244.6" cy="386.7" r="2"/>
<circle cx="234.7" cy="383.9" r="2"/>
<circle cx="249.7" cy="398.5" r="2"/>
<circle cx="232.8" cy="400.4" r="2"/>
<circle cx="245.9" cy="380" r="2"/>
<circle cx="216.1" cy="409.7" r="2"/>
<circle cx="238.4" cy="383" r="2"/>
<circle cx="240.9" cy="387.6" r="2"/>
<circle cx="225" cy="381" r="2"/>
<circle cx="247.5" cy="400.4" r="2"/>
<circle cx="250.1" cy="393.7" r="2"/>
<circle cx="240" cy="395.9" r="2"/>
<circle cx="241.3" cy="381.3" r="2"/>
<circle cx="229.9" cy="377.6" r="2"/>
<circle cx="244" cy="390.2" r="2"/>
<circle cx="232.4" cy="397.2" r="2"/>
<circle cx="237.4" cy="393" r="2"/>
<circle cx="239.9" cy="397.3" r="2"/>
<circle cx="244.7" cy="394.6" r="2"/>
<circle cx="244.4" cy="386.8" r="2"/>
<circle cx="238.3" cy="377.8" r="2"/>
<circle cx="215.5" cy="402.3" r="2"/>
<circle cx="237.6" cy="376.5" r="2"/>
<circle cx="238.8" cy="405.4" r="2"/>
<circle cx="232.3" cy="429.7" r="2"/>
<circle cx="233.7" cy="395.3" r="2"/>
<circle cx="240.2" cy="406.6" r="2"/>
<circle cx="242" cy="389.2" r="2"/>
<circle cx="238.1" cy="404.8" r="2"/>
<circle cx="247.6" cy="398" r="2"/>
<circle cx="239.2" cy="375" r="2"/>
<circle cx="254.2" cy="378.5" r="2"/>
<circle cx="238.7" cy="405.7" r="2"/>
<circle cx="239.4" cy="386.9" r="2"/>
<circle cx="240.4" cy="406.6" r="2"/>
<circle cx="247.9" cy="396" r="2"/>
<circle cx="247.3" cy="382.8" r="2"/>
<circle cx="244.3" cy="398.9" r="2"/>
<circle cx="243.7" cy="375" r="2"/>
<circle cx="245.8" cy="405.9" r="2"/>
<circle cx="236.1" cy="383.2" r="2"/>
<circle cx="245.5" cy="431" r="2"/>
<circle cx="240.1" cy="377.7" r="2"/>
<circle cx="242.2" cy="393.8" r="2"/>
<circle cx="243.9" cy="431.2" r="2"/>
<circle cx="244.7" cy="384.9" r="2"/>
<circle cx="243.2" cy="377.9" r="2"/>
<circle cx="247.8" cy="381.7" r="2"/>
<circle cx="232.5" cy="387" r="2"/>
<circle cx="246" cy="402.1" r="2"/>
<circle cx="239.2" cy="390.7" r="2"/>
<circle cx="234.3" cy="380.6" r="2"/>
<circle cx="246.2" cy="397.6" r="2"/>
<circle cx="242.6" cy="386.5" r="2"/>
<circle cx="240.5" cy="373" r="2"/>
<circle cx="237.7" cy="388.1" r="2"/>
<circle cx="237.3" cy="385.4" r="2"/>
<circle cx="239.1" cy="382.3" r="2"/>
<circle cx="242.1" cy="397.9" r="2"/>
<circle cx="249.7" cy="393.1" r="2"/>
<circle cx="247.4" cy="400.9" r="2"/>
<circle cx="238.6" cy="374.6" r="2"/>
</g>
<g fill-opacity=".46" stroke-opacity=".46">
<circle cx="236.8" cy="375.7" r="2"/>
<circle cx="241.8" cy="386.3" r="2"/>
<circle cx="247.8" cy="394.3" r="2"/>
<circle cx="236.6" cy="375.3" r="2"/>
<circle cx="242.5" cy="371.9" r="2"/>
<circle cx="242.5" cy="406.8" r="2"/>
<circle cx="243.7" cy="406.4" r="2"/>
<circle cx="232.9" cy="387.1" r="2"/>
<circle cx="233.6" cy="386.4" r="2"/>
<circle cx="236.5" cy="382.3" r="2"/>
<circle cx="223.8" cy="423.4" r="2"/>
<circle cx="238.9" cy="375.4" r="2"/>
<circle cx="249.1" cy="387.6" r="2"/>
<circle cx="239.4" cy="379" r="2"/>
<circle cx="241.1" cy="375" r="2"/>
<circle cx="247.2" cy="376" r="2"/>
<circle cx="240.9" cy="373" r="2"/>
<circle cx="238.3" cy="403.1" r="2"/>
<circle cx="240.2" cy="396.7" r="2"/>
<circle cx="240.4" cy="375.4" r="2"/>
<circle cx="239.5" cy="381.6" r="2"/>
<circle cx="248" cy="388.7" r="2"/>
<circle cx="243.7" cy="403.9" r="2"/>
<circle cx="241.6" cy="405.7" r="2"/>
<circle cx="245.8" cy="390.7" r="2"/>
<circle cx="244.6" cy="373.4" r="2"/>
<circle cx="265.2" cy="413.5" r="2"/>
<circle cx="236.1" cy="382.5" r="2"/>
<circle cx="236.7" cy="394.9" r="2"/>
<circle cx="266.3" cy="409.2" r="2"/>
<circle cx="244.2" cy="375.6" r="2"/>
<circle cx="242.8" cy="388" r="2"/>
<circle cx="255.6" cy="426.3" r="2"/>
<circle cx="250.3" cy="395" r="2"/>
<circle cx="236" cy="394.4" r="2"/>
<circle cx="248.6" cy="376.6" r="2"/>
<circle cx="249.4" cy="380.2" r="2"/>
<circle cx="222.8" cy="422" r="2"/>
<circle cx="241" cy="406.9" r="2"/>
<circle cx="239.5" cy="372.4" r="2"/>
<circle cx="238.6" cy="404.1" r="2"/>
<circle cx="236.9" cy="394.1" r="2"/>
<circle cx="235.6" cy="385.6" r="2"/>
<circle cx="236.9" cy="392.9" r="2"/>
<circle cx="245.7" cy="385.3" r="2"/>
<circle cx="244.1" cy="402.1" r="2"/>
<circle cx="245.2" cy="388.1" r="2"/>
<circle cx="246.1" cy="388.9" r="2"/>
<circle cx="240.7" cy="384" r="2"/>
<circle cx="247.6" cy="380.6" r="2"/>
<circle cx="250.7" cy="385.6" r="2"/>
<circle cx="233.4" cy="390.1" r="2"/>
<circle cx="245.6" cy="393.4" r="2"/>
<circle cx="236.9" cy="393" r="2"/>
<circle cx="244.7" cy="393.5" r="2"/>
<circle cx="245.1" cy="374.6" r="2"/>
<circle cx="238.4" cy="386.5" r="2"/>
<circle cx="226.8" cy="380.9" r="2"/>
<circle cx="247.4" cy="396.7" r="2"/>
<circle cx="246.7" cy="397.7" r="2"/>
<circle cx="227.7" cy="380.3" r="2"/>
<circle cx="261.8" cy="419.4" r="2"/>
<circle cx="245.6" cy="384" r="2"/>
<circle cx="233.3" cy="393.5" r="2"/>
<circle cx="258.7" cy="423.2" r="2"/>
<circle cx="241.2" cy="370.8" r="2"/>
<circle cx="237.5" cy="400.1" r="2"/>
<circle cx="247.2" cy="396" r="2"/>
<circle cx="246.9" cy="385" r="2"/>
<circle cx="239.7" cy="374.7" r="2"/>
<circle cx="244.7" cy="391.9" r="2"/>
<circle cx="234.1" cy="391.4" r="2"/>
<circle cx="235.1" cy="374.6" r="2"/>
<circle cx="258" cy="382.9" r="2"/>
<circle cx="242" cy="389.2" r="2"/>
<circle cx="249.8" cy="379.1" r="2"/>
<circle cx="240" cy="395.4" r="2"/>
<circle cx="254.3" cy="426.6" r="2"/>
<circle cx="238.1" cy="376.4" r="2"/>
<circle cx="247.1" cy="389.5" r="2"/>
<circle cx="234.1" cy="378.9" r="2"/>
<circle cx="247.5" cy="385.3" r="2"/>
<circle cx="240.7" cy="404.8" r="2"/>
<circle cx="237.9" cy="430.1" r="2"/>
<circle cx="239.4" cy="371.2" r="2"/>
<circle cx="240" cy="380.3" r="2"/>
<circle cx="240.7" cy="396.2" r="2"/>
<circle cx="247.3" cy="401.3" r="2"/>
<circle cx="241.6" cy="404.2" r="2"/>
<circle cx="238.6" cy="379.4" r="2"/>
<circle cx="238.3" cy="371.6" r="2"/>
<circle cx="240.4" cy="376.3" r="2"/>
<circle cx="241.4" cy="397.4" r="2"/>
<circle cx="241.9" cy="386.9" r="2"/>
<circle cx="235.7" cy="382.5" r="2"/>
<circle cx="234.7" cy="387" r="2"/>
<circle cx="245.3" cy="379.7" r="2"/>
<circle cx="247.5" cy="380.2" r="2"/>
<circle cx="243.5" cy="398.2" r="2"/>
<circle cx="234.6" cy="394.6" r="2"/>
<circle cx="238.9" cy="383.4" r="2"/>
<circle cx="247.5" cy="372.2" r="2"/>
<circle cx="237.5" cy="374.4" r="2"/>
<circle cx="239.1" cy="373.4" r="2"/>
<circle cx="256.8" cy="382.4" r="2"/>
<circle cx="247.4" cy="381.2" r="2"/>
<circle cx="242.6" cy="398.7" r="2"/>
<circle cx="249.6" cy="378.3" r="2"/>
<circle cx="240.7" cy="376.6" r="2"/>
<circle cx="222.5" cy="386.5" r="2"/>
<circle cx="235.3" cy="391.9" r="2"/>
<circle cx="240.9" cy="379" r="2"/>
<circle cx="219" cy="393.1" r="2"/>
<circle cx="240.7" cy="386.8" r="2"/>
<circle cx="238.5" cy="369.4" r="2"/>
<circle cx="239.9" cy="374.5" r="2"/>
<circle cx="239" cy="372.7" r="2"/>
</g>
<g fill-opacity=".48" stroke-opacity=".48">
<circle cx="235" cy="377.9" r="2"/>
<circle cx="242.6" cy="389.5" r="2"/>
<circle cx="262.7" cy="390.9" r="2"/>
<circle cx="254.2" cy="425.7" r="2"/>
<circle cx="265.6" cy="404" r="2"/>
<circle cx="243.5" cy="370.8" r="2"/>
<circle cx="236.5" cy="386" r="2"/>
<circle cx="242.4" cy="429.6" r="2"/>
<circle cx="237.6" cy="380.7" r="2"/>
<circle cx="244.9" cy="394.2" r="2"/>
<circle cx="227.6" cy="424.7" r="2"/>
<circle cx="228.9" cy="381.1" r="2"/>
<circle cx="232.7" cy="383.7" r="2"/>
<circle cx="240" cy="394.6" r="2"/>
<circle cx="247.9" cy="428.6" r="2"/>
<circle cx="244.1" cy="369.4" r="2"/>
<circle cx="234.6" cy="395.5" r="2"/>
<circle cx="246" cy="368.9" r="2"/>
<circle cx="242.3" cy="394.2" r="2"/>
<circle cx="248.6" cy="391.6" r="2"/>
<circle cx="238.9" cy="384.7" r="2"/>
<circle cx="238.1" cy="373.5" r="2"/>
<circle cx="239.1" cy="370.8" r="2"/>
<circle cx="236.3" cy="398.5" r="2"/>
<circle cx="245.8" cy="388.2" r="2"/>
<circle cx="247.5" cy="379.7" r="2"/>
<circle cx="239.1" cy="377.6" r="2"/>
<circle cx="242.7" cy="369.3" r="2"/>
<circle cx="243.3" cy="366.2" r="2"/>
<circle cx="241.5" cy="366.1" r="2"/>
<circle cx="239.2" cy="391.1" r="2"/>
<circle cx="244.5" cy="380.5" r="2"/>
<circle cx="249.7" cy="381.4" r="2"/>
<circle cx="245.2" cy="377.8" r="2"/>
<circle cx="247.7" cy="385.1" r="2"/>
<circle cx="242" cy="377.5" r="2"/>
<circle cx="238.7" cy="400" r="2"/>
<circle cx="240.3" cy="389.5" r="2"/>
<circle cx="241.7" cy="373.4" r="2"/>
<circle cx="244.4" cy="393.6" r="2"/>
<circle cx="243.3" cy="384.3" r="2"/>
<circle cx="248.3" cy="380.2" r="2"/>
<circle cx="239.5" cy="392.6" r="2"/>
<circle cx="235.8" cy="380" r="2"/>
<circle cx="243.8" cy="377.9" r="2"/>
<circle cx="234.3" cy="379.8" r="2"/>
<circle cx="238.9" cy="388.3" r="2"/>
<circle cx="238.2" cy="374.3" r="2"/>
<circle cx="238.4" cy="378" r="2"/>
<circle cx="245.5" cy="376.8" r="2"/>
<circle cx="249.1" cy="380.4" r="2"/>
<circle cx="242.9" cy="391.7" r="2"/>
<circle cx="236.6" cy="376.7" r="2"/>
<circle cx="240.5" cy="363.4" r="2"/>
<circle cx="236" cy="384.5" r="2"/>
<circle cx="242.5" cy="373.3" r="2"/>
<circle cx="245.1" cy="372" r="2"/>
<circle cx="241.2" cy="378.1" r="2"/>
<circle cx="246.1" cy="375.3" r="2"/>
<circle cx="233.3" cy="379.4" r="2"/>
<circle cx="247.9" cy="392.8" r="2"/>
<circle cx="236.3" cy="382.9" r="2"/>
<circle cx="233.1" cy="378.5" r="2"/>
<circle cx="234.1" cy="387.6" r="2"/>
<circle cx="235" cy="379.2" r="2"/>
<circle cx="231.5" cy="380.7" r="2"/>
<circle cx="234.1" cy="381.8" r="2"/>
<circle cx="247.3" cy="369.1" r="2"/>
<circle cx="234.8" cy="376.6" r="2"/>
<circle cx="237.8" cy="383.4" r="2"/>
<circle cx="244.8" cy="371" r="2"/>
<circle cx="236.7" cy="373.8" r="2"/>
<circle cx="225.4" cy="421.2" r="2"/>
<circle cx="241.6" cy="398.4" r="2"/>
<circle cx="239.4" cy="363.8" r="2"/>
<circle cx="243.7" cy="364.8" r="2"/>
<circle cx="236.8" cy="380.7" r="2"/>
<circle cx="243.2" cy="390.6" r="2"/>
<circle cx="239.9" cy="378.6" r="2"/>
<circle cx="242.8" cy="366.8" r="2"/>
<circle cx="247.2" cy="377.9" r="2"/>
<circle cx="244.7" cy="377.2" r="2"/>
<circle cx="235.2" cy="376.8" r="2"/>
<circle cx="264.1" cy="400.9" r="2"/>
<circle cx="239.7" cy="379.2" r="2"/>
<circle cx="249.9" cy="380.9" r="2"/>
<circle cx="235" cy="382.4" r="2"/>
<circle cx="242.4" cy="365.8" r="2"/>
<circle cx="245.1" cy="372.6" r="2"/>
<circle cx="243" cy="364.6" r="2"/>
<circle cx="238" cy="373.3" r="2"/>
<circle cx="262" cy="393.3" r="2"/>
<circle cx="249" cy="375.1" r="2"/>
<circle cx="243.1" cy="387.7" r="2"/>
<circle cx="234.7" cy="375.7" r="2"/>
<circle cx="248.5" cy="385" r="2"/>
<circle cx="248.4" cy="380.1" r="2"/>
<circle cx="236.7" cy="381.3" r="2"/>
<circle cx="248.5" cy="369.4" r="2"/>
<circle cx="247.4" cy="384.6" r="2"/>
<circle cx="249.4" cy="372.6" r="2"/>
<circle cx="248.5" cy="373.5" r="2"/>
<circle cx="245.3" cy="378.1" r="2"/>
<circle cx="256.2" cy="385" r="2"/>
<circle cx="257.8" cy="386.8" r="2"/>
<circle cx="241.4" cy="378.9" r="2"/>
<circle cx="238.1" cy="427.5" r="2"/>
<circle cx="240" cy="363.6" r="2"/>
<circle cx="240.6" cy="379.2" r="2"/>
<circle cx="239.6" cy="379.3" r="2"/>
<circle cx="241.8" cy="372.8" r="2"/>
<circle cx="219.8" cy="398.3" r="2"/>
<circle cx="236.6" cy="385.4" r="2"/>
<circle cx="249.8" cy="375.3" r="2"/>
<circle cx="239" cy="361.4" r="2"/>
<circle cx="243.3" cy="370.7" r="2"/>
<circle cx="248.3" cy="371.9" r="2"/>
<circle cx="245.1" cy="379.7" r="2"/>
<circle cx="241.4" cy="376.9" r="2"/>
<circle cx="243.6" cy="385.8" r="2"/>
<circle cx="247" cy="377.6" r="2"/>
<circle cx="234.9" cy="370.1" r="2"/>
<circle cx="248.4" cy="388.6" r="2"/>
<circle cx="241.5" cy="379.6" r="2"/>
<circle cx="242.8" cy="393.5" r="2"/>
<circle cx="237.7" cy="365.2" r="2"/>
<circle cx="243.5" cy="362.4" r="2"/>
<circle cx="243.1" cy="363.8" r="2"/>
<circle cx="240.7" cy="369.7" r="2"/>
<circle cx="219.9" cy="400" r="2"/>
<circle cx="245.5" cy="426.9" r="2"/>
<circle cx="244.1" cy="361.2" r="2"/>
<circle cx="240.7" cy="391.2" r="2"/>
</g>
<g fill-opacity=".5" stroke-opacity=".5">
<circle cx="241.1" cy="385.1" r="2"/>
<circle cx="239.2" cy="380.7" r="2"/>
<circle cx="246.9" cy="380.9" r="2"/>
<circle cx="239.4" cy="367.4" r="2"/>
<circle cx="238.8" cy="371.9" r="2"/>
<circle cx="247.7" cy="388.3" r="2"/>
<circle cx="227.5" cy="385.7" r="2"/>
<circle cx="256.4" cy="420.3" r="2"/>
<circle cx="224.2" cy="417.3" r="2"/>
<circle cx="246.1" cy="367.4" r="2"/>
<circle cx="247.3" cy="384.4" r="2"/>
<circle cx="244.9" cy="386.3" r="2"/>
<circle cx="243.5" cy="375.4" r="2"/>
<circle cx="234.3" cy="379.7" r="2"/>
<circle cx="238" cy="379.7" r="2"/>
<circle cx="238.4" cy="380.7" r="2"/>
<circle cx="243.2" cy="370.9" r="2"/>
<circle cx="251" cy="382.7" r="2"/>
<circle cx="240.3" cy="380.3" r="2"/>
<circle cx="246.1" cy="367.4" r="2"/>
<circle cx="238.6" cy="371.7" r="2"/>
<circle cx="241.7" cy="363" r="2"/>
<circle cx="244.9" cy="380.7" r="2"/>
<circle cx="262.6" cy="403.2" r="2"/>
<circle cx="238.3" cy="367" r="2"/>
<circle cx="241.4" cy="372.1" r="2"/>
<circle cx="243.9" cy="366.2" r="2"/>
<circle cx="239.6" cy="362.8" r="2"/>
<circle cx="237.1" cy="364" r="2"/>
<circle cx="241.8" cy="381.5" r="2"/>
<circle cx="243.2" cy="364.1" r="2"/>
<circle cx="235" cy="381.7" r="2"/>
<circle cx="243.1" cy="372.1" r="2"/>
<circle cx="246.5" cy="374.4" r="2"/>
<circle cx="235.4" cy="373.2" r="2"/>
<circle cx="246.4" cy="375.9" r="2"/>
<circle cx="238.3" cy="366.2" r="2"/>
<circle cx="243.9" cy="374.6" r="2"/>
<circle cx="245.3" cy="368.2" r="2"/>
<circle cx="247" cy="370.4" r="2"/>
<circle cx="254.2" cy="385.6" r="2"/>
<circle cx="257.8" cy="389.6" r="2"/>
<circle cx="237" cy="361" r="2"/>
<circle cx="262.1" cy="405.2" r="2"/>
<circle cx="246.3" cy="376.8" r="2"/>
<circle cx="239.9" cy="373.3" r="2"/>
<circle cx="236.1" cy="374.3" r="2"/>
<circle cx="256.2" cy="419.3" r="2"/>
<circle cx="245.1" cy="370.7" r="2"/>
<circle cx="237.1" cy="385.9" r="2"/>
<circle cx="236.2" cy="369.9" r="2"/>
<circle cx="256" cy="419.3" r="2"/>
<circle cx="242.1" cy="387.9" r="2"/>
<circle cx="245.9" cy="425.4" r="2"/>
<circle cx="253.1" cy="385.1" r="2"/>
<circle cx="241.9" cy="377.8" r="2"/>
<circle cx="235" cy="369.6" r="2"/>
<circle cx="234" cy="371.1" r="2"/>
<circle cx="245.7" cy="387.3" r="2"/>
<circle cx="238.7" cy="363.6" r="2"/>
<circle cx="239.3" cy="381.8" r="2"/>
<circle cx="240.2" cy="386.3" r="2"/>
<circle cx="243.3" cy="425.6" r="2"/>
<circle cx="241.6" cy="360.9" r="2"/>
<circle cx="243" cy="384" r="2"/>
<circle cx="235.5" cy="382.6" r="2"/>
<circle cx="242.7" cy="365.5" r="2"/>
<circle cx="240.6" cy="361.7" r="2"/>
<circle cx="246.1" cy="361.6" r="2"/>
<circle cx="244.6" cy="371.3" r="2"/>
<circle cx="236" cy="367.2" r="2"/>
<circle cx="244" cy="425.2" r="2"/>
<circle cx="243.8" cy="383.4" r="2"/>
<circle cx="245.9" cy="380.1" r="2"/>
<circle cx="246.7" cy="373.4" r="2"/>
<circle cx="243.1" cy="359.8" r="2"/>
<circle cx="247.2" cy="382.9" r="2"/>
<circle cx="248" cy="373" r="2"/>
<circle cx="246.1" cy="380.5" r="2"/>
<circle cx="237.3" cy="382.7" r="2"/>
<circle cx="238.8" cy="375.8" r="2"/>
<circle cx="243.9" cy="370.8" r="2"/>
<circle cx="236.5" cy="365.4" r="2"/>
<circle cx="239.2" cy="364.8" r="2"/>
<circle cx="227.7" cy="418.6" r="2"/>
<circle cx="241.9" cy="364.1" r="2"/>
<circle cx="244.5" cy="361" r="2"/>
<circle cx="233" cy="384.6" r="2"/>
<circle cx="240.1" cy="373.7" r="2"/>
<circle cx="240.8" cy="362.6" r="2"/>
<circle cx="244.9" cy="366.6" r="2"/>
<circle cx="260" cy="409.5" r="2"/>
<circle cx="247.1" cy="377.1" r="2"/>
<circle cx="236.2" cy="361.2" r="2"/>
<circle cx="234.8" cy="383.9" r="2"/>
<circle cx="230.4" cy="386.4" r="2"/>
<circle cx="239.8" cy="366.3" r="2"/>
<circle cx="246.3" cy="359.6" r="2"/>
<circle cx="247.7" cy="370.1" r="2"/>
<circle cx="246.5" cy="365" r="2"/>
<circle cx="245.4" cy="364.1" r="2"/>
<circle cx="244.3" cy="387.1" r="2"/>
<circle cx="242.2" cy="373.6" r="2"/>
<circle cx="248.4" cy="368.3" r="2"/>
<circle cx="248.4" cy="364.9" r="2"/>
<circle cx="237.9" cy="371.4" r="2"/>
<circle cx="233.8" cy="384.7" r="2"/>
<circle cx="245.1" cy="385.9" r="2"/>
<circle cx="241.5" cy="358.6" r="2"/>
<circle cx="239.1" cy="368.5" r="2"/>
<circle cx="246.3" cy="423.2" r="2"/>
<circle cx="244.1" cy="372.2" r="2"/>
<circle cx="246.2" cy="364.3" r="2"/>
<circle cx="246.2" cy="367" r="2"/>
<circle cx="239.9" cy="375.1" r="2"/>
<circle cx="241.4" cy="369" r="2"/>
<circle cx="257.9" cy="395" r="2"/>
<circle cx="234.3" cy="370.5" r="2"/>
<circle cx="244.2" cy="354.9" r="2"/>
<circle cx="227.2" cy="415.7" r="2"/>
<circle cx="252.9" cy="388.3" r="2"/>
<circle cx="246.7" cy="365.5" r="2"/>
<circle cx="241" cy="365.2" r="2"/>
<circle cx="230.2" cy="419" r="2"/>
<circle cx="237.3" cy="357.3" r="2"/>
<circle cx="239.2" cy="358.9" r="2"/>
</g>
<g fill-opacity=".52" stroke-opacity=".52">
<circle cx="242.9" cy="384.1" r="2"/>
<circle cx="241.4" cy="356.1" r="2"/>
<circle cx="247.1" cy="365.4" r="2"/>
<circle cx="237.9" cy="366.2" r="2"/>
<circle cx="243.6" cy="383.8" r="2"/>
<circle cx="245.1" cy="381.7" r="2"/>
<circle cx="245.1" cy="361.5" r="2"/>
<circle cx="237.3" cy="357" r="2"/>
<circle cx="238.9" cy="384.4" r="2"/>
<circle cx="239.7" cy="369.6" r="2"/>
<circle cx="240.9" cy="383.2" r="2"/>
<circle cx="238.3" cy="365.1" r="2"/>
<circle cx="236.3" cy="366.9" r="2"/>
<circle cx="245" cy="357.6" r="2"/>
<circle cx="244.2" cy="380.2" r="2"/>
<circle cx="239.1" cy="361.1" r="2"/>
<circle cx="245" cy="381.9" r="2"/>
<circle cx="243.6" cy="360.5" r="2"/>
<circle cx="239.5" cy="382" r="2"/>
<circle cx="237.2" cy="381.9" r="2"/>
<circle cx="240.7" cy="365.8" r="2"/>
<circle cx="236.5" cy="372" r="2"/>
<circle cx="239.2" cy="363.8" r="2"/>
<circle cx="240.4" cy="365.4" r="2"/>
<circle cx="240.2" cy="356.1" r="2"/>
<circle cx="240.7" cy="369.8" r="2"/>
<circle cx="239.6" cy="377" r="2"/>
<circle cx="246.1" cy="369.1" r="2"/>
<circle cx="236.5" cy="379.1" r="2"/>
<circle cx="234.6" cy="420.7" r="2"/>
<circle cx="241.2" cy="365.7" r="2"/>
<circle cx="239.5" cy="373.6" r="2"/>
<circle cx="241.3" cy="382.8" r="2"/>
<circle cx="225.1" cy="407.9" r="2"/>
<circle cx="239.6" cy="352.8" r="2"/>
<circle cx="257.9" cy="400.4" r="2"/>
<circle cx="239" cy="357.4" r="2"/>
<circle cx="244.3" cy="385.8" r="2"/>
<circle cx="242.7" cy="353.9" r="2"/>
<circle cx="243.5" cy="375.1" r="2"/>
<circle cx="233.9" cy="387.6" r="2"/>
<circle cx="242.7" cy="374.9" r="2"/>
<circle cx="246.2" cy="358.5" r="2"/>
<circle cx="244.6" cy="366.1" r="2"/>
<circle cx="240.1" cy="366.7" r="2"/>
<circle cx="242.3" cy="362.7" r="2"/>
<circle cx="241.5" cy="373" r="2"/>
<circle cx="245.3" cy="377.3" r="2"/>
<circle cx="245.7" cy="364.4" r="2"/>
<circle cx="242.8" cy="386.5" r="2"/>
<circle cx="238.7" cy="359.1" r="2"/>
<circle cx="240.6" cy="358.9" r="2"/>
<circle cx="239.2" cy="366.5" r="2"/>
<circle cx="243.8" cy="360.5" r="2"/>
<circle cx="234.8" cy="388.3" r="2"/>
<circle cx="244.3" cy="372.5" r="2"/>
<circle cx="243.4" cy="376.1" r="2"/>
<circle cx="239.7" cy="370.9" r="2"/>
<circle cx="242.7" cy="370.3" r="2"/>
<circle cx="244.1" cy="387.1" r="2"/>
<circle cx="235.2" cy="365.9" r="2"/>
<circle cx="243.4" cy="355.5" r="2"/>
<circle cx="243.3" cy="360.6" r="2"/>
<circle cx="238.7" cy="367.1" r="2"/>
<circle cx="245.5" cy="364" r="2"/>
<circle cx="238.6" cy="351.8" r="2"/>
<circle cx="245.3" cy="353.6" r="2"/>
<circle cx="242.6" cy="351.7" r="2"/>
<circle cx="244.9" cy="353.5" r="2"/>
<circle cx="247.1" cy="362.9" r="2"/>
<circle cx="244.3" cy="372.9" r="2"/>
<circle cx="227.4" cy="399.6" r="2"/>
<circle cx="235.9" cy="356.4" r="2"/>
<circle cx="239.6" cy="351.3" r="2"/>
<circle cx="240.8" cy="353.1" r="2"/>
<circle cx="246.7" cy="359.2" r="2"/>
<circle cx="238.8" cy="350.7" r="2"/>
<circle cx="236.3" cy="361.1" r="2"/>
<circle cx="238" cy="365" r="2"/>
<circle cx="241.3" cy="350.9" r="2"/>
<circle cx="245.3" cy="373.2" r="2"/>
<circle cx="236.9" cy="372" r="2"/>
<circle cx="243.5" cy="368.5" r="2"/>
<circle cx="242.6" cy="359.6" r="2"/>
<circle cx="241.1" cy="368.2" r="2"/>
<circle cx="243.5" cy="376.5" r="2"/>
<circle cx="245.1" cy="371.9" r="2"/>
<circle cx="228.5" cy="399.9" r="2"/>
<circle cx="228.6" cy="407.9" r="2"/>
<circle cx="242.7" cy="363" r="2"/>
<circle cx="237.9" cy="359.1" r="2"/>
<circle cx="240.8" cy="359.1" r="2"/>
<circle cx="238.7" cy="352.9" r="2"/>
<circle cx="254.1" cy="399.7" r="2"/>
<circle cx="235.3" cy="360.5" r="2"/>
<circle cx="238.8" cy="353.3" r="2"/>
<circle cx="239.9" cy="350.7" r="2"/>
<circle cx="241.3" cy="351.6" r="2"/>
<circle cx="246.3" cy="363.1" r="2"/>
<circle cx="246" cy="362.1" r="2"/>
<circle cx="239" cy="354.6" r="2"/>
<circle cx="239.3" cy="376.1" r="2"/>
<circle cx="241.4" cy="349.3" r="2"/>
<circle cx="240.2" cy="353.2" r="2"/>
<circle cx="244.1" cy="349.7" r="2"/>
<circle cx="245.9" cy="358.4" r="2"/>
<circle cx="237.4" cy="371" r="2"/>
<circle cx="238.2" cy="390.7" r="2"/>
<circle cx="240.5" cy="373.3" r="2"/>
<circle cx="246.5" cy="360.2" r="2"/>
<circle cx="246.2" cy="359.5" r="2"/>
<circle cx="230" cy="408.4" r="2"/>
<circle cx="241.2" cy="375.7" r="2"/>
<circle cx="238.5" cy="355.5" r="2"/>
<circle cx="239" cy="368.5" r="2"/>
<circle cx="245.8" cy="365.4" r="2"/>
<circle cx="239.3" cy="361.2" r="2"/>
<circle cx="238.1" cy="368.8" r="2"/>
<circle cx="243.5" cy="373.3" r="2"/>
<circle cx="241.2" cy="357.3" r="2"/>
<circle cx="247.5" cy="363" r="2"/>
</g>
<g fill-opacity=".54" stroke-opacity=".54">
<circle cx="238.2" cy="364.9" r="2"/>
<circle cx="239.4" cy="357.6" r="2"/>
<circle cx="252.8" cy="402.9" r="2"/>
<circle cx="241.3" cy="365.6" r="2"/>
<circle cx="239.4" cy="354.2" r="2"/>
<circle cx="238.4" cy="363.3" r="2"/>
<circle cx="241.6" cy="370.9" r="2"/>
<circle cx="237.8" cy="349.5" r="2"/>
<circle cx="236.6" cy="363.5" r="2"/>
<circle cx="244.7" cy="348.6" r="2"/>
<circle cx="231.1" cy="405.6" r="2"/>
<circle cx="237.6" cy="354.3" r="2"/>
<circle cx="238.5" cy="367.8" r="2"/>
<circle cx="247.4" cy="362.2" r="2"/>
<circle cx="243.5" cy="364.6" r="2"/>
<circle cx="241.1" cy="350" r="2"/>
<circle cx="244.3" cy="350.1" r="2"/>
<circle cx="240.9" cy="352.4" r="2"/>
<circle cx="246.4" cy="361.8" r="2"/>
<circle cx="238.2" cy="358" r="2"/>
<circle cx="241.6" cy="357.5" r="2"/>
<circle cx="240.1" cy="393.2" r="2"/>
<circle cx="246.6" cy="357.8" r="2"/>
<circle cx="239.8" cy="366.7" r="2"/>
<circle cx="244" cy="370.5" r="2"/>
<circle cx="233.8" cy="409.5" r="2"/>
<circle cx="242.9" cy="351.2" r="2"/>
<circle cx="246.1" cy="355.5" r="2"/>
<circle cx="238.2" cy="356.5" r="2"/>
<circle cx="242.2" cy="365.9" r="2"/>
<circle cx="245.8" cy="351.9" r="2"/>
<circle cx="241.2" cy="348.3" r="2"/>
<circle cx="236.6" cy="364.4" r="2"/>
<circle cx="240.1" cy="349.6" r="2"/>
<circle cx="238.1" cy="356" r="2"/>
<circle cx="238.3" cy="358.7" r="2"/>
<circle cx="236.2" cy="358.8" r="2"/>
<circle cx="241.8" cy="362" r="2"/>
<circle cx="244" cy="395.7" r="2"/>
<circle cx="244.8" cy="348" r="2"/>
<circle cx="242.5" cy="348.9" r="2"/>
<circle cx="237.8" cy="368.4" r="2"/>
<circle cx="248.9" cy="405.1" r="2"/>
<circle cx="240.2" cy="367.3" r="2"/>
<circle cx="238.4" cy="352.2" r="2"/>
<circle cx="240.5" cy="364.1" r="2"/>
<circle cx="240.6" cy="349.3" r="2"/>
<circle cx="239.9" cy="367.8" r="2"/>
<circle cx="241.9" cy="356.6" r="2"/>
<circle cx="247.4" cy="401" r="2"/>
<circle cx="245.2" cy="409.5" r="2"/>
<circle cx="238.4" cy="347.4" r="2"/>
<circle cx="236.6" cy="407.3" r="2"/>
<circle cx="238.4" cy="355" r="2"/>
<circle cx="242.9" cy="355.7" r="2"/>
<circle cx="238" cy="408.7" r="2"/>
<circle cx="246.3" cy="353.5" r="2"/>
<circle cx="238" cy="408.5" r="2"/>
<circle cx="237.7" cy="408" r="2"/>
<circle cx="238.8" cy="356.2" r="2"/>
<circle cx="239.6" cy="358.5" r="2"/>
<circle cx="238.8" cy="352.1" r="2"/>
<circle cx="244.3" cy="365.3" r="2"/>
<circle cx="243.2" cy="349" r="2"/>
<circle cx="237.8" cy="351.3" r="2"/>
<circle cx="238.2" cy="347.1" r="2"/>
<circle cx="241.3" cy="399.4" r="2"/>
<circle cx="240.7" cy="408.2" r="2"/>
<circle cx="237.8" cy="353.5" r="2"/>
<circle cx="240.1" cy="353.1" r="2"/>
<circle cx="237.1" cy="352.4" r="2"/>
<circle cx="236.8" cy="353.8" r="2"/>
<circle cx="242.3" cy="367.2" r="2"/>
<circle cx="240.4" cy="356.3" r="2"/>
<circle cx="245.6" cy="359.1" r="2"/>
<circle cx="237" cy="359.6" r="2"/>
<circle cx="238.6" cy="353.6" r="2"/>
<circle cx="242.5" cy="358.8" r="2"/>
<circle cx="239.6" cy="355.4" r="2"/>
<circle cx="238.8" cy="362.9" r="2"/>
<circle cx="243.1" cy="353.8" r="2"/>
<circle cx="244.5" cy="345.9" r="2"/>
<circle cx="241" cy="343.1" r="2"/>
<circle cx="242.8" cy="348.3" r="2"/>
<circle cx="242.6" cy="363.8" r="2"/>
<circle cx="240.1" cy="359.9" r="2"/>
<circle cx="243.2" cy="350.5" r="2"/>
<circle cx="246.2" cy="361.3" r="2"/>
<circle cx="239" cy="352.5" r="2"/>
<circle cx="238.8" cy="348.5" r="2"/>
<circle cx="238.8" cy="364.3" r="2"/>
<circle cx="243.4" cy="346.5" r="2"/>
<circle cx="242.5" cy="342.9" r="2"/>
<circle cx="245" cy="361.9" r="2"/>
<circle cx="236.9" cy="357.3" r="2"/>
<circle cx="242.6" cy="351.9" r="2"/>
<circle cx="243.1" cy="346" r="2"/>
<circle cx="243.1" cy="351.5" r="2"/>
<circle cx="241.1" cy="347.9" r="2"/>
<circle cx="243.1" cy="350.7" r="2"/>
<circle cx="240.7" cy="351.4" r="2"/>
<circle cx="237.7" cy="350.6" r="2"/>
<circle cx="241.7" cy="347.8" r="2"/>
<circle cx="242.2" cy="353.1" r="2"/>
<circle cx="243.6" cy="350" r="2"/>
<circle cx="243.2" cy="358.4" r="2"/>
<circle cx="246.2" cy="350.3" r="2"/>
<circle cx="244.1" cy="344.2" r="2"/>
<circle cx="240.7" cy="358.5" r="2"/>
<circle cx="239.1" cy="346.2" r="2"/>
<circle cx="239.4" cy="352" r="2"/>
</g>
<g fill-opacity=".56" stroke-opacity=".56">
<circle cx="239.1" cy="361.4" r="2"/>
<circle cx="244.6" cy="349.8" r="2"/>
<circle cx="245.8" cy="347.9" r="2"/>
<circle cx="239.8" cy="349.6" r="2"/>
<circle cx="241.2" cy="343.5" r="2"/>
<circle cx="242" cy="345.9" r="2"/>
<circle cx="242.6" cy="349.6" r="2"/>
<circle cx="239.2" cy="351.3" r="2"/>
<circle cx="241.5" cy="354.8" r="2"/>
<circle cx="243.2" cy="359.3" r="2"/>
<circle cx="238.1" cy="347.3" r="2"/>
<circle cx="243.6" cy="358.3" r="2"/>
<circle cx="239.6" cy="349.9" r="2"/>
<circle cx="236.6" cy="353.9" r="2"/>
<circle cx="244.4" cy="350.4" r="2"/>
<circle cx="240.1" cy="346.5" r="2"/>
<circle cx="242.6" cy="345" r="2"/>
<circle cx="238.4" cy="350.7" r="2"/>
<circle cx="239" cy="356.3" r="2"/>
<circle cx="241.2" cy="358.4" r="2"/>
<circle cx="239.3" cy="345.3" r="2"/>
<circle cx="238.7" cy="347.3" r="2"/>
<circle cx="245" cy="356.1" r="2"/>
<circle cx="239.5" cy="348.6" r="2"/>
<circle cx="238.1" cy="345.5" r="2"/>
<circle cx="238.9" cy="352" r="2"/>
<circle cx="240" cy="359.4" r="2"/>
<circle cx="237.4" cy="356" r="2"/>
<circle cx="243.8" cy="347" r="2"/>
<circle cx="237.3" cy="353.2" r="2"/>
<circle cx="242.4" cy="349.6" r="2"/>
<circle cx="237.3" cy="346.5" r="2"/>
<circle cx="245.6" cy="347.5" r="2"/>
<circle cx="241.8" cy="350.6" r="2"/>
<circle cx="245.1" cy="349.4" r="2"/>
<circle cx="243.4" cy="356.7" r="2"/>
<circle cx="239.6" cy="340" r="2"/>
<circle cx="245.2" cy="345" r="2"/>
<circle cx="242.8" cy="355.5" r="2"/>
<circle cx="241.2" cy="340.2" r="2"/>
<circle cx="239.9" cy="346" r="2"/>
<circle cx="243.1" cy="343.1" r="2"/>
<circle cx="242.5" cy="353.4" r="2"/>
<circle cx="237.9" cy="350.1" r="2"/>
<circle cx="244.6" cy="348.3" r="2"/>
<circle cx="244.5" cy="347.1" r="2"/>
<circle cx="240.9" cy="338.8" r="2"/>
<circle cx="239.5" cy="347.6" r="2"/>
<circle cx="241.4" cy="343" r="2"/>
<circle cx="243.8" cy="341.1" r="2"/>
<circle cx="237.5" cy="349.5" r="2"/>
<circle cx="239.3" cy="343.8" r="2"/>
<circle cx="240.8" cy="357.1" r="2"/>
<circle cx="240.1" cy="341" r="2"/>
<circle cx="240.4" cy="339.2" r="2"/>
<circle cx="243.4" cy="349.8" r="2"/>
<circle cx="239.2" cy="339.8" r="2"/>
<circle cx="240.5" cy="340.1" r="2"/>
<circle cx="245.1" cy="345.3" r="2"/>
<circle cx="240.7" cy="345.9" r="2"/>
<circle cx="243.2" cy="354.9" r="2"/>
<circle cx="244.9" cy="345.7" r="2"/>
<circle cx="242.5" cy="341.1" r="2"/>
<circle cx="243.9" cy="352.8" r="2"/>
<circle cx="240.9" cy="338" r="2"/>
<circle cx="237.6" cy="346" r="2"/>
<circle cx="244.1" cy="348.9" r="2"/>
<circle cx="243.7" cy="354.4" r="2"/>
<circle cx="243" cy="350.2" r="2"/>
<circle cx="237.4" cy="346.2" r="2"/>
<circle cx="237.6" cy="348.7" r="2"/>
<circle cx="244.4" cy="341.9" r="2"/>
<circle cx="240.7" cy="336.3" r="2"/>
<circle cx="243.8" cy="351.4" r="2"/>
<circle cx="238.3" cy="344" r="2"/>
<circle cx="240.5" cy="339.9" r="2"/>
<circle cx="240.8" cy="338.7" r="2"/>
<circle cx="240.5" cy="340" r="2"/>
<circle cx="240" cy="353.8" r="2"/>
<circle cx="240.4" cy="347.8" r="2"/>
<circle cx="237.8" cy="345.2" r="2"/>
<circle cx="238.8" cy="345.7" r="2"/>
<circle cx="238.3" cy="341.3" r="2"/>
<circle cx="243.2" cy="341.9" r="2"/>
<circle cx="241.7" cy="349.5" r="2"/>
<circle cx="243.4" cy="348.3" r="2"/>
<circle cx="241.8" cy="341.8" r="2"/>
<circle cx="242" cy="338.6" r="2"/>
<circle cx="240.9" cy="344" r="2"/>
<circle cx="243.3" cy="343.7" r="2"/>
<circle cx="239.3" cy="338.2" r="2"/>
<circle cx="240.5" cy="335.1" r="2"/>
</g>
<g fill-opacity=".58" stroke-opacity=".58">
<circle cx="237.9" cy="340.6" r="2"/>
<circle cx="243.5" cy="341.8" r="2"/>
<circle cx="242.9" cy="345.1" r="2"/>
<circle cx="241.6" cy="350.2" r="2"/>
<circle cx="240.8" cy="340.6" r="2"/>
<circle cx="241.8" cy="344.5" r="2"/>
<circle cx="238.1" cy="344.8" r="2"/>
<circle cx="239.5" cy="341.8" r="2"/>
<circle cx="240.4" cy="346.2" r="2"/>
<circle cx="243.4" cy="340.7" r="2"/>
<circle cx="241.2" cy="344.5" r="2"/>
<circle cx="238.9" cy="347.9" r="2"/>
<circle cx="243.2" cy="341.8" r="2"/>
<circle cx="243.7" cy="340.6" r="2"/>
<circle cx="240" cy="347.2" r="2"/>
<circle cx="240.9" cy="350.2" r="2"/>
<circle cx="243.8" cy="343.5" r="2"/>
<circle cx="240" cy="336.8" r="2"/>
<circle cx="244.3" cy="342.2" r="2"/>
<circle cx="243.3" cy="338" r="2"/>
<circle cx="243.7" cy="339.8" r="2"/>
<circle cx="243.6" cy="336.3" r="2"/>
<circle cx="240.1" cy="343.9" r="2"/>
<circle cx="242.8" cy="339.3" r="2"/>
<circle cx="242.6" cy="338.2" r="2"/>
<circle cx="239.2" cy="346.9" r="2"/>
<circle cx="242.1" cy="337.8" r="2"/>
<circle cx="240.7" cy="346.6" r="2"/>
<circle cx="241.4" cy="336.6" r="2"/>
<circle cx="243" cy="341.6" r="2"/>
<circle cx="242.3" cy="348.1" r="2"/>
<circle cx="241.4" cy="342.5" r="2"/>
<circle cx="243.3" cy="335.3" r="2"/>
<circle cx="238.6" cy="336.8" r="2"/>
<circle cx="238.6" cy="340.1" r="2"/>
<circle cx="242.3" cy="338.7" r="2"/>
<circle cx="240.3" cy="345.9" r="2"/>
<circle cx="239.2" cy="343.5" r="2"/>
<circle cx="241.1" cy="340.3" r="2"/>
<circle cx="240.1" cy="334.3" r="2"/>
<circle cx="240.6" cy="345.5" r="2"/>
<circle cx="241.6" cy="332.8" r="2"/>
<circle cx="239.2" cy="338.7" r="2"/>
<circle cx="241.2" cy="340.5" r="2"/>
<circle cx="243.7" cy="335.1" r="2"/>
<circle cx="240.6" cy="338.8" r="2"/>
<circle cx="241" cy="337.2" r="2"/>
<circle cx="244.8" cy="338.5" r="2"/>
<circle cx="241.1" cy="335.2" r="2"/>
<circle cx="240.7" cy="332" r="2"/>
<circle cx="238.1" cy="338.7" r="2"/>
<circle cx="239.9" cy="339.5" r="2"/>
<circle cx="238.9" cy="338.2" r="2"/>
<circle cx="240.9" cy="335" r="2"/>
<circle cx="242.2" cy="345.5" r="2"/>
<circle cx="240.5" cy="336.2" r="2"/>
<circle cx="239.9" cy="337.4" r="2"/>
<circle cx="240" cy="341.1" r="2"/>
<circle cx="241.3" cy="334.6" r="2"/>
<circle cx="239.4" cy="340.9" r="2"/>
<circle cx="242.9" cy="345.9" r="2"/>
<circle cx="242.2" cy="339" r="2"/>
<circle cx="239.8" cy="332" r="2"/>
<circle cx="241.2" cy="333.5" r="2"/>
<circle cx="244" cy="339.6" r="2"/>
<circle cx="242.8" cy="337.2" r="2"/>
<circle cx="239.5" cy="332.2" r="2"/>
<circle cx="242.3" cy="332.1" r="2"/>
<circle cx="243.4" cy="334.5" r="2"/>
<circle cx="242.6" cy="331.9" r="2"/>
<circle cx="243.8" cy="343.2" r="2"/>
<circle cx="242.2" cy="337.6" r="2"/>
<circle cx="243.7" cy="339.3" r="2"/>
<circle cx="238.8" cy="338.1" r="2"/>
<circle cx="244.3" cy="336.6" r="2"/>
<circle cx="240.6" cy="331.3" r="2"/>
<circle cx="240.3" cy="331.3" r="2"/>
<circle cx="241.8" cy="336.2" r="2"/>
<circle cx="240.7" cy="338" r="2"/>
<circle cx="239.5" cy="340.5" r="2"/>
<circle cx="243.5" cy="339.8" r="2"/>
<circle cx="239.3" cy="334.9" r="2"/>
<circle cx="244" cy="335.8" r="2"/>
<circle cx="241" cy="334.6" r="2"/>
<circle cx="243.6" cy="332.2" r="2"/>
</g>
<g fill-opacity=".6" stroke-opacity=".6">
<circle cx="238.7" cy="338.4" r="2"/>
<circle cx="241.9" cy="329.6" r="2"/>
<circle cx="243.5" cy="331.6" r="2"/>
<circle cx="238.9" cy="337.8" r="2"/>
<circle cx="240.4" cy="335.7" r="2"/>
<circle cx="241.8" cy="333.8" r="2"/>
<circle cx="240.5" cy="335.4" r="2"/>
<circle cx="240.4" cy="334.5" r="2"/>
<circle cx="241.9" cy="329.4" r="2"/>
<circle cx="244.1" cy="338" r="2"/>
<circle cx="243.7" cy="332.2" r="2"/>
<circle cx="240.6" cy="333.6" r="2"/>
<circle cx="240.5" cy="335.8" r="2"/>
<circle cx="243" cy="334.5" r="2"/>
<circle cx="239.2" cy="337.3" r="2"/>
<circle cx="242.9" cy="336.4" r="2"/>
<circle cx="242" cy="330.6" r="2"/>
<circle cx="243" cy="336.8" r="2"/>
<circle cx="243.1" cy="330.1" r="2"/>
<circle cx="242.7" cy="331.3" r="2"/>
<circle cx="240.3" cy="329.8" r="2"/>
<circle cx="241.4" cy="335.6" r="2"/>
<circle cx="241.7" cy="338" r="2"/>
<circle cx="242.6" cy="331" r="2"/>
<circle cx="243.1" cy="334.1" r="2"/>
<circle cx="242" cy="335.8" r="2"/>
<circle cx="242.8" cy="329.9" r="2"/>
<circle cx="242.9" cy="333.2" r="2"/>
<circle cx="240.4" cy="337.3" r="2"/>
<circle cx="239.3" cy="329.4" r="2"/>
<circle cx="241.3" cy="327.4" r="2"/>
<circle cx="241.6" cy="328.6" r="2"/>
<circle cx="241.8" cy="336.7" r="2"/>
<circle cx="238.8" cy="333.2" r="2"/>
<circle cx="239.2" cy="333.2" r="2"/>
<circle cx="243.3" cy="329.4" r="2"/>
<circle cx="240.1" cy="330.9" r="2"/>
<circle cx="240.2" cy="328.7" r="2"/>
<circle cx="241.6" cy="326.5" r="2"/>
<circle cx="240.7" cy="335.8" r="2"/>
<circle cx="239.7" cy="332.6" r="2"/>
<circle cx="241.1" cy="331.7" r="2"/>
<circle cx="242.1" cy="330.6" r="2"/>
<circle cx="241.1" cy="335.9" r="2"/>
<circle cx="243.2" cy="330" r="2"/>
<circle cx="240.2" cy="333.7" r="2"/>
<circle cx="242.6" cy="333.4" r="2"/>
<circle cx="240.4" cy="327.1" r="2"/>
<circle cx="239.2" cy="330.9" r="2"/>
<circle cx="241.4" cy="332.6" r="2"/>
<circle cx="243.6" cy="334" r="2"/>
<circle cx="242.7" cy="329.1" r="2"/>
<circle cx="240.3" cy="332" r="2"/>
<circle cx="243.5" cy="331.2" r="2"/>
<circle cx="244" cy="330.9" r="2"/>
<circle cx="243" cy="326.7" r="2"/>
<circle cx="240" cy="327.5" r="2"/>
<circle cx="242.5" cy="330.8" r="2"/>
<circle cx="239.7" cy="326.6" r="2"/>
<circle cx="241.6" cy="328.3" r="2"/>
<circle cx="242.6" cy="326.9" r="2"/>
<circle cx="242.6" cy="328.5" r="2"/>
<circle cx="241.7" cy="325.1" r="2"/>
<circle cx="240.9" cy="333.6" r="2"/>
<circle cx="242" cy="334.2" r="2"/>
<circle cx="243.2" cy="329.8" r="2"/>
<circle cx="242.4" cy="330.2" r="2"/>
<circle cx="240.3" cy="331.2" r="2"/>
<circle cx="240.8" cy="324.6" r="2"/>
<circle cx="241.4" cy="325.8" r="2"/>
<circle cx="241.9" cy="325.1" r="2"/>
<circle cx="240.1" cy="326.1" r="2"/>
<circle cx="241.9" cy="328.2" r="2"/>
<circle cx="242.8" cy="324.8" r="2"/>
<circle cx="241.1" cy="328.7" r="2"/>
<circle cx="241.3" cy="332.7" r="2"/>
<circle cx="239.9" cy="330.3" r="2"/>
<circle cx="239.5" cy="327.2" r="2"/>
<circle cx="242" cy="332.9" r="2"/>
<circle cx="241.4" cy="331.8" r="2"/>
<circle cx="240.3" cy="326.5" r="2"/>
<circle cx="240.3" cy="326.6" r="2"/>
<circle cx="242.3" cy="329.7" r="2"/>
<circle cx="242.8" cy="324.6" r="2"/>
<circle cx="243.4" cy="327.4" r="2"/>
<circle cx="240.7" cy="330.9" r="2"/>
<circle cx="240.3" cy="324.5" r="2"/>
<circle cx="241.9" cy="332" r="2"/>
<circle cx="239.7" cy="325.1" r="2"/>
<circle cx="241.6" cy="330.6" r="2"/>
</g>
<g fill-opacity=".62" stroke-opacity=".62">
<circle cx="241.6" cy="326.3" r="2"/>
<circle cx="240.9" cy="325.1" r="2"/>
<circle cx="240.9" cy="325.5" r="2"/>
<circle cx="240" cy="329.1" r="2"/>
<circle cx="240.3" cy="324.4" r="2"/>
<circle cx="242.1" cy="329.7" r="2"/>
<circle cx="241.9" cy="328.4" r="2"/>
<circle cx="240.4" cy="327.8" r="2"/>
<circle cx="241.5" cy="322.5" r="2"/>
<circle cx="241.7" cy="325.4" r="2"/>
<circle cx="240.9" cy="322.8" r="2"/>
<circle cx="243.3" cy="326.6" r="2"/>
<circle cx="243.2" cy="327.6" r="2"/>
<circle cx="240.4" cy="322.5" r="2"/>
<circle cx="239.9" cy="327.8" r="2"/>
<circle cx="241.9" cy="327.5" r="2"/>
<circle cx="240.1" cy="325.4" r="2"/>
<circle cx="240.9" cy="322.6" r="2"/>
<circle cx="241.7" cy="321.3" r="2"/>
<circle cx="241" cy="322.8" r="2"/>
<circle cx="240.5" cy="323.9" r="2"/>
<circle cx="240.9" cy="322.5" r="2"/>
<circle cx="241.2" cy="322" r="2"/>
<circle cx="240.1" cy="327" r="2"/>
<circle cx="241.5" cy="323" r="2"/>
<circle cx="242.5" cy="327.4" r="2"/>
<circle cx="241.2" cy="324" r="2"/>
<circle cx="241.5" cy="324.5" r="2"/>
<circle cx="242.2" cy="323.8" r="2"/>
<circle cx="241.7" cy="320.8" r="2"/>
<circle cx="242.7" cy="321.1" r="2"/>
<circle cx="242.1" cy="324.9" r="2"/>
<circle cx="241.1" cy="323.4" r="2"/>
<circle cx="242.7" cy="323.6" r="2"/>
<circle cx="240.8" cy="323.6" r="2"/>
<circle cx="240.5" cy="321.8" r="2"/>
<circle cx="242.1" cy="324" r="2"/>
<circle cx="241.7" cy="320.8" r="2"/>
<circle cx="240.3" cy="323.3" r="2"/>
<circle cx="241.6" cy="320.4" r="2"/>
<circle cx="240.2" cy="324.3" r="2"/>
<circle cx="242.5" cy="320.4" r="2"/>
<circle cx="241.6" cy="320.2" r="2"/>
<circle cx="242" cy="323.4" r="2"/>
<circle cx="242.4" cy="323.2" r="2"/>
<circle cx="241.7" cy="321" r="2"/>
<circle cx="241.3" cy="324.3" r="2"/>
<circle cx="241.3" cy="321.3" r="2"/>
<circle cx="240.2" cy="321.4" r="2"/>
<circle cx="241.8" cy="322.1" r="2"/>
<circle cx="241" cy="320.8" r="2"/>
<circle cx="242.4" cy="319.3" r="2"/>
<circle cx="240.4" cy="321.5" r="2"/>
<circle cx="241" cy="322.2" r="2"/>
<circle cx="240.9" cy="318.8" r="2"/>
<circle cx="242.1" cy="319.4" r="2"/>
<circle cx="241.8" cy="323.7" r="2"/>
<circle cx="241.3" cy="321" r="2"/>
<circle cx="241.2" cy="321.5" r="2"/>
<circle cx="241.4" cy="323.2" r="2"/>
<circle cx="241.9" cy="320.6" r="2"/>
<circle cx="241.1" cy="320.8" r="2"/>
<circle cx="240.7" cy="320.3" r="2"/>
<circle cx="240.7" cy="321.5" r="2"/>
<circle cx="241.1" cy="318.8" r="2"/>
<circle cx="241.4" cy="321.9" r="2"/>
<circle cx="241.3" cy="322" r="2"/>
<circle cx="241.8" cy="320" r="2"/>
<circle cx="240.6" cy="318.6" r="2"/>
<circle cx="241" cy="318.7" r="2"/>
<circle cx="241.4" cy="318.1" r="2"/>
<circle cx="242.3" cy="321.6" r="2"/>
<circle cx="242.2" cy="321.1" r="2"/>
<circle cx="240.3" cy="320.1" r="2"/>
<circle cx="242.4" cy="318.1" r="2"/>
<circle cx="241.6" cy="321.4" r="2"/>
<circle cx="240.8" cy="317.4" r="2"/>
<circle cx="241.1" cy="319.8" r="2"/>
<circle cx="242.4" cy="319.4" r="2"/>
<circle cx="242.1" cy="317.2" r="2"/>
<circle cx="241.3" cy="321.4" r="2"/>
<circle cx="242.1" cy="320.9" r="2"/>
<circle cx="241" cy="318.9" r="2"/>
<circle cx="241.8" cy="320.3" r="2"/>
<circle cx="241.1" cy="318.6" r="2"/>
<circle cx="242.4" cy="318.6" r="2"/>
<circle cx="240.7" cy="318.2" r="2"/>
<circle cx="241.5" cy="317.8" r="2"/>
<circle cx="242" cy="319.9" r="2"/>
<circle cx="240.6" cy="319.8" r="2"/>
<circle cx="241.1" cy="318" r="2"/>
<circle cx="241.2" cy="317.5" r="2"/>
<circle cx="241.9" cy="318.3" r="2"/>
<circle cx="241.1" cy="316.4" r="2"/>
<circle cx="241.1" cy="317" r="2"/>
<circle cx="241.2" cy="318.5" r="2"/>
<circle cx="241.7" cy="318.7" r="2"/>
<circle cx="241.8" cy="319.4" r="2"/>
<circle cx="242.4" cy="319.6" r="2"/>
<circle cx="241.8" cy="318.1" r="2"/>
</g>
<g fill-opacity=".64" stroke-opacity=".64">
<circle cx="242.1" cy="318.9" r="2"/>
<circle cx="242.5" cy="317.8" r="2"/>
<circle cx="242.1" cy="317.8" r="2"/>
<circle cx="241.8" cy="317.1" r="2"/>
<circle cx="241.7" cy="319" r="2"/>
<circle cx="241.9" cy="316.1" r="2"/>
<circle cx="241.8" cy="315.6" r="2"/>
<circle cx="242" cy="315.9" r="2"/>
<circle cx="242.2" cy="316.2" r="2"/>
<circle cx="241.9" cy="316.3" r="2"/>
<circle cx="242.2" cy="316.1" r="2"/>
<circle cx="241.5" cy="317.5" r="2"/>
<circle cx="241.8" cy="316.1" r="2"/>
<circle cx="240.8" cy="317.9" r="2"/>
<circle cx="240.7" cy="317.6" r="2"/>
<circle cx="241.5" cy="317.7" r="2"/>
<circle cx="242.2" cy="316" r="2"/>
<circle cx="240.9" cy="315.8" r="2"/>
<circle cx="241.3" cy="314.9" r="2"/>
<circle cx="242.2" cy="316.4" r="2"/>
<circle cx="241.6" cy="315.8" r="2"/>
<circle cx="241" cy="316.8" r="2"/>
<circle cx="240.8" cy="316.3" r="2"/>
<circle cx="240.8" cy="316.1" r="2"/>
<circle cx="241.1" cy="316.7" r="2"/>
<circle cx="240.9" cy="316.8" r="2"/>
<circle cx="241" cy="315.8" r="2"/>
<circle cx="241.8" cy="314.8" r="2"/>
<circle cx="241.2" cy="316" r="2"/>
<circle cx="241.9" cy="315.4" r="2"/>
<circle cx="241.7" cy="317.4" r="2"/>
<circle cx="241.7" cy="316.1" r="2"/>
<circle cx="241.9" cy="315.6" r="2"/>
<circle cx="241.1" cy="315.2" r="2"/>
<circle cx="241.6" cy="314.2" r="2"/>
<circle cx="241.9" cy="314.5" r="2"/>
<circle cx="241.3" cy="314.6" r="2"/>
<circle cx="241.8" cy="314.4" r="2"/>
<circle cx="241.8" cy="314.2" r="2"/>
<circle cx="241.8" cy="314.3" r="2"/>
<circle cx="242.1" cy="316.2" r="2"/>
<circle cx="241.6" cy="316.6" r="2"/>
<circle cx="241.6" cy="315.4" r="2"/>
<circle cx="241.5" cy="314.6" r="2"/>
<circle cx="241.8" cy="316.1" r="2"/>
<circle cx="242.1" cy="314.7" r="2"/>
<circle cx="240.9" cy="315.1" r="2"/>
<circle cx="241.7" cy="315.2" r="2"/>
<circle cx="241.1" cy="315.9" r="2"/>
<circle cx="241" cy="315.4" r="2"/>
<circle cx="241.7" cy="316.2" r="2"/>
<circle cx="241.6" cy="314.1" r="2"/>
<circle cx="241.3" cy="315.5" r="2"/>
<circle cx="241.2" cy="315.2" r="2"/>
<circle cx="241.6" cy="314.4" r="2"/>
<circle cx="241.9" cy="315.2" r="2"/>
<circle cx="241.7" cy="315.8" r="2"/>
<circle cx="242" cy="313.3" r="2"/>
<circle cx="241.1" cy="313" r="2"/>
<circle cx="241.8" cy="314" r="2"/>
<circle cx="241.4" cy="313.8" r="2"/>
<circle cx="241.5" cy="313.6" r="2"/>
<circle cx="240.8" cy="312.6" r="2"/>
<circle cx="241.3" cy="313" r="2"/>
<circle cx="242.2" cy="312" r="2"/>
<circle cx="242.3" cy="313" r="2"/>
<circle cx="241.6" cy="314" r="2"/>
<circle cx="240.8" cy="312.6" r="2"/>
<circle cx="240.8" cy="312.5" r="2"/>
<circle cx="241" cy="313.5" r="2"/>
<circle cx="241.2" cy="313" r="2"/>
<circle cx="242.4" cy="312" r="2"/>
<circle cx="241.8" cy="312.6" r="2"/>
<circle cx="242" cy="311.3" r="2"/>
<circle cx="241.7" cy="310.5" r="2"/>
<circle cx="241.9" cy="312.9" r="2"/>
<circle cx="241.5" cy="313" r="2"/>
<circle cx="242.1" cy="311.4" r="2"/>
<circle cx="241.7" cy="312" r="2"/>
<circle cx="241.3" cy="309.3" r="2"/>
<circle cx="241.2" cy="310.1" r="2"/>
<circle cx="241.8" cy="311.8" r="2"/>
<circle cx="241.9" cy="312.3" r="2"/>
<circle cx="240.6" cy="311.7" r="2"/>
<circle cx="241.7" cy="311.1" r="2"/>
<circle cx="241.6" cy="312.1" r="2"/>
<circle cx="242.2" cy="311.5" r="2"/>
<circle cx="241.7" cy="310.8" r="2"/>
<circle cx="242" cy="312.6" r="2"/>
<circle cx="242.4" cy="308.6" r="2"/>
<circle cx="240.7" cy="308.5" r="2"/>
<circle cx="241" cy="312.3" r="2"/>
<circle cx="240.6" cy="310.8" r="2"/>
<circle cx="242.1" cy="309.2" r="2"/>
<circle cx="241.4" cy="309.2" r="2"/>
<circle cx="241.3" cy="310" r="2"/>
<circle cx="240.6" cy="307.8" r="2"/>
<circle cx="241.1" cy="311.6" r="2"/>
<circle cx="241.7" cy="310.4" r="2"/>
<circle cx="241.4" cy="307.5" r="2"/>
<circle cx="241.9" cy="308" r="2"/>
<circle cx="241.8" cy="311.9" r="2"/>
<circle cx="241.6" cy="308.1" r="2"/>
</g>
<g fill-opacity=".66" stroke-opacity=".66">
<circle cx="241" cy="311" r="2"/>
<circle cx="241" cy="308.3" r="2"/>
<circle cx="242.3" cy="309.4" r="2"/>
<circle cx="240.9" cy="309.2" r="2"/>
<circle cx="242.8" cy="309" r="2"/>
<circle cx="241.7" cy="307.6" r="2"/>
<circle cx="240.8" cy="310.9" r="2"/>
<circle cx="241.9" cy="310.1" r="2"/>
<circle cx="241.6" cy="311.1" r="2"/>
<circle cx="240.3" cy="307.3" r="2"/>
<circle cx="240.8" cy="310.1" r="2"/>
<circle cx="241.5" cy="309.8" r="2"/>
<circle cx="240.9" cy="308.9" r="2"/>
<circle cx="241.5" cy="310.7" r="2"/>
<circle cx="241.5" cy="307.4" r="2"/>
<circle cx="242.6" cy="306.9" r="2"/>
<circle cx="241" cy="306.7" r="2"/>
<circle cx="241.6" cy="309.4" r="2"/>
<circle cx="241.4" cy="308.9" r="2"/>
<circle cx="241.8" cy="306.1" r="2"/>
<circle cx="242.3" cy="305.7" r="2"/>
<circle cx="241.4" cy="310.3" r="2"/>
<circle cx="241.8" cy="307.8" r="2"/>
<circle cx="242.3" cy="308.6" r="2"/>
<circle cx="242.2" cy="306.3" r="2"/>
<circle cx="240.9" cy="304.8" r="2"/>
<circle cx="242" cy="310.2" r="2"/>
<circle cx="240.3" cy="304.7" r="2"/>
<circle cx="241.4" cy="309.8" r="2"/>
<circle cx="241.7" cy="308.3" r="2"/>
<circle cx="241.5" cy="304.6" r="2"/>
<circle cx="240.2" cy="307.7" r="2"/>
<circle cx="241.2" cy="309.2" r="2"/>
<circle cx="241.3" cy="302.9" r="2"/>
<circle cx="241.6" cy="308.8" r="2"/>
<circle cx="241.1" cy="305.4" r="2"/>
<circle cx="241.9" cy="309.2" r="2"/>
<circle cx="241.3" cy="307.5" r="2"/>
<circle cx="242" cy="306.5" r="2"/>
<circle cx="241.3" cy="304.9" r="2"/>
<circle cx="242.4" cy="307.8" r="2"/>
<circle cx="242.7" cy="304.4" r="2"/>
<circle cx="241.5" cy="308.2" r="2"/>
<circle cx="241.9" cy="309.5" r="2"/>
<circle cx="241" cy="304.7" r="2"/>
<circle cx="240.3" cy="304.9" r="2"/>
<circle cx="241.4" cy="307.2" r="2"/>
<circle cx="242.1" cy="305.1" r="2"/>
<circle cx="240.5" cy="304.9" r="2"/>
<circle cx="242.7" cy="303.8" r="2"/>
<circle cx="242.5" cy="302.3" r="2"/>
<circle cx="242.8" cy="307.8" r="2"/>
<circle cx="242.1" cy="308.9" r="2"/>
<circle cx="241.9" cy="302" r="2"/>
<circle cx="241.3" cy="304.4" r="2"/>
<circle cx="240.3" cy="306.4" r="2"/>
<circle cx="241.2" cy="305.4" r="2"/>
<circle cx="240.8" cy="307.4" r="2"/>
<circle cx="243.3" cy="305.3" r="2"/>
<circle cx="240.4" cy="307" r="2"/>
<circle cx="241" cy="302.9" r="2"/>
<circle cx="241.3" cy="305.5" r="2"/>
<circle cx="242.9" cy="305.6" r="2"/>
<circle cx="240.4" cy="307.5" r="2"/>
<circle cx="242.5" cy="305.7" r="2"/>
<circle cx="242.3" cy="307.7" r="2"/>
<circle cx="241.6" cy="307.7" r="2"/>
<circle cx="242.3" cy="305.7" r="2"/>
<circle cx="240.8" cy="307.2" r="2"/>
<circle cx="240.4" cy="306.8" r="2"/>
<circle cx="242.4" cy="299.4" r="2"/>
<circle cx="241.6" cy="304.4" r="2"/>
<circle cx="243" cy="305.2" r="2"/>
<circle cx="240.3" cy="306.5" r="2"/>
<circle cx="242.3" cy="307.4" r="2"/>
<circle cx="242.4" cy="302.4" r="2"/>
<circle cx="241.8" cy="298.8" r="2"/>
<circle cx="239.7" cy="300.9" r="2"/>
<circle cx="242.6" cy="306.6" r="2"/>
<circle cx="240.9" cy="298.7" r="2"/>
<circle cx="240.3" cy="304.8" r="2"/>
<circle cx="242.4" cy="304.4" r="2"/>
<circle cx="240.2" cy="299.9" r="2"/>
<circle cx="241.2" cy="305.9" r="2"/>
<circle cx="242" cy="306.6" r="2"/>
<circle cx="241.4" cy="298.4" r="2"/>
<circle cx="241.3" cy="304.6" r="2"/>
<circle cx="243.3" cy="303.2" r="2"/>
<circle cx="240.8" cy="300.1" r="2"/>
<circle cx="242.4" cy="303.5" r="2"/>
<circle cx="241.7" cy="298.7" r="2"/>
<circle cx="240.1" cy="298.8" r="2"/>
<circle cx="241.1" cy="303.6" r="2"/>
<circle cx="242.5" cy="300.7" r="2"/>
<circle cx="241.1" cy="301.7" r="2"/>
<circle cx="239.4" cy="302.1" r="2"/>
<circle cx="239.6" cy="302.2" r="2"/>
<circle cx="240.9" cy="301.4" r="2"/>
<circle cx="240.5" cy="304.6" r="2"/>
<circle cx="242.8" cy="298.7" r="2"/>
<circle cx="243.5" cy="301.2" r="2"/>
<circle cx="240.2" cy="304.5" r="2"/>
<circle cx="242.1" cy="304.2" r="2"/>
<circle cx="239.8" cy="302" r="2"/>
<circle cx="240.3" cy="297.7" r="2"/>
<circle cx="243.4" cy="298.5" r="2"/>
</g>
<g fill-opacity=".68" stroke-opacity=".68">
<circle cx="239.7" cy="303.8" r="2"/>
<circle cx="240.3" cy="298.4" r="2"/>
<circle cx="239.8" cy="300.7" r="2"/>
<circle cx="242.8" cy="296.9" r="2"/>
<circle cx="241.1" cy="299.8" r="2"/>
<circle cx="241.3" cy="298.1" r="2"/>
<circle cx="240" cy="297.6" r="2"/>
<circle cx="240.8" cy="299.5" r="2"/>
<circle cx="243.4" cy="302.3" r="2"/>
<circle cx="241.3" cy="300.7" r="2"/>
<circle cx="243.5" cy="297.4" r="2"/>
<circle cx="241" cy="303.9" r="2"/>
<circle cx="243.3" cy="301.4" r="2"/>
<circle cx="240.7" cy="301.3" r="2"/>
<circle cx="241" cy="304.6" r="2"/>
<circle cx="242.2" cy="296.9" r="2"/>
<circle cx="242.7" cy="301.3" r="2"/>
<circle cx="241" cy="302" r="2"/>
<circle cx="241" cy="293.9" r="2"/>
<circle cx="243.6" cy="301.3" r="2"/>
<circle cx="240.1" cy="301.2" r="2"/>
<circle cx="243.3" cy="296" r="2"/>
<circle cx="241.9" cy="299.8" r="2"/>
<circle cx="240.6" cy="297.7" r="2"/>
<circle cx="241.9" cy="297.7" r="2"/>
<circle cx="241.4" cy="300.7" r="2"/>
<circle cx="241.3" cy="301.9" r="2"/>
<circle cx="239.2" cy="297" r="2"/>
<circle cx="241.9" cy="292.8" r="2"/>
<circle cx="241.3" cy="302.6" r="2"/>
<circle cx="241.9" cy="294.9" r="2"/>
<circle cx="243.6" cy="298.1" r="2"/>
<circle cx="239.7" cy="298.3" r="2"/>
<circle cx="242.9" cy="292.7" r="2"/>
<circle cx="243.3" cy="298.3" r="2"/>
<circle cx="242.6" cy="296.2" r="2"/>
<circle cx="241.2" cy="300.7" r="2"/>
<circle cx="241.5" cy="295.8" r="2"/>
<circle cx="242.2" cy="292.8" r="2"/>
<circle cx="241.1" cy="302.7" r="2"/>
<circle cx="239.9" cy="300" r="2"/>
<circle cx="240" cy="301.2" r="2"/>
<circle cx="241.3" cy="303.3" r="2"/>
<circle cx="241.1" cy="298.3" r="2"/>
<circle cx="241.5" cy="296.7" r="2"/>
<circle cx="240.5" cy="292.7" r="2"/>
<circle cx="242.4" cy="291" r="2"/>
<circle cx="241.7" cy="298.9" r="2"/>
<circle cx="240.7" cy="293.6" r="2"/>
<circle cx="239.9" cy="291.6" r="2"/>
<circle cx="239.1" cy="296.2" r="2"/>
<circle cx="241.5" cy="296.7" r="2"/>
<circle cx="242.7" cy="295.2" r="2"/>
<circle cx="240.8" cy="300.4" r="2"/>
<circle cx="239.9" cy="301.2" r="2"/>
<circle cx="243.4" cy="292" r="2"/>
<circle cx="242.6" cy="301.2" r="2"/>
<circle cx="239.2" cy="297.2" r="2"/>
<circle cx="243.3" cy="291.4" r="2"/>
<circle cx="239" cy="294" r="2"/>
<circle cx="243.4" cy="289.5" r="2"/>
<circle cx="243" cy="293.3" r="2"/>
<circle cx="239.3" cy="291.8" r="2"/>
<circle cx="239.6" cy="291.3" r="2"/>
<circle cx="240" cy="298" r="2"/>
<circle cx="242.2" cy="299" r="2"/>
<circle cx="242.4" cy="298.2" r="2"/>
<circle cx="240.1" cy="292.9" r="2"/>
<circle cx="243.1" cy="299.4" r="2"/>
<circle cx="238.9" cy="295.7" r="2"/>
<circle cx="242.9" cy="297.8" r="2"/>
<circle cx="239.4" cy="296.5" r="2"/>
<circle cx="239.9" cy="294.4" r="2"/>
<circle cx="241.2" cy="294.5" r="2"/>
<circle cx="240.2" cy="297.8" r="2"/>
<circle cx="244.4" cy="296.3" r="2"/>
<circle cx="240" cy="289.6" r="2"/>
<circle cx="242.2" cy="286.3" r="2"/>
<circle cx="240.5" cy="297.5" r="2"/>
<circle cx="239" cy="288.5" r="2"/>
<circle cx="241.9" cy="299.4" r="2"/>
<circle cx="243.7" cy="287.5" r="2"/>
<circle cx="241.8" cy="297.9" r="2"/>
<circle cx="240" cy="297.6" r="2"/>
<circle cx="243.4" cy="286.8" r="2"/>
<circle cx="239.1" cy="292.7" r="2"/>
<circle cx="239" cy="294.7" r="2"/>
<circle cx="242.5" cy="294.9" r="2"/>
<circle cx="238.6" cy="289.3" r="2"/>
</g>
<g fill-opacity=".7" stroke-opacity=".7">
<circle cx="241.9" cy="291.3" r="2"/>
<circle cx="242" cy="289.7" r="2"/>
<circle cx="239.6" cy="293.5" r="2"/>
<circle cx="242" cy="294.2" r="2"/>
<circle cx="240.6" cy="291.6" r="2"/>
<circle cx="243.3" cy="292.6" r="2"/>
<circle cx="241.3" cy="295.5" r="2"/>
<circle cx="238.9" cy="291.5" r="2"/>
<circle cx="240" cy="290.3" r="2"/>
<circle cx="242.6" cy="297.8" r="2"/>
<circle cx="242.5" cy="285.5" r="2"/>
<circle cx="244.7" cy="288.7" r="2"/>
<circle cx="239.6" cy="289.7" r="2"/>
<circle cx="244.5" cy="287" r="2"/>
<circle cx="243.3" cy="295.5" r="2"/>
<circle cx="240.7" cy="289.1" r="2"/>
<circle cx="242.6" cy="285.6" r="2"/>
<circle cx="244.7" cy="293.9" r="2"/>
<circle cx="241.4" cy="295.7" r="2"/>
<circle cx="243.6" cy="291.8" r="2"/>
<circle cx="240.7" cy="290" r="2"/>
<circle cx="245" cy="290.8" r="2"/>
<circle cx="242.5" cy="282.9" r="2"/>
<circle cx="243.1" cy="283.3" r="2"/>
<circle cx="240.3" cy="297.5" r="2"/>
<circle cx="244" cy="295.7" r="2"/>
<circle cx="244.2" cy="291.6" r="2"/>
<circle cx="243" cy="292.8" r="2"/>
<circle cx="242.8" cy="290.7" r="2"/>
<circle cx="240.8" cy="291.9" r="2"/>
<circle cx="240.2" cy="283.6" r="2"/>
<circle cx="241.8" cy="296.1" r="2"/>
<circle cx="243.4" cy="294.7" r="2"/>
<circle cx="239" cy="293.7" r="2"/>
<circle cx="240.7" cy="293.3" r="2"/>
<circle cx="241.7" cy="294.1" r="2"/>
<circle cx="244" cy="290" r="2"/>
<circle cx="239.9" cy="287.4" r="2"/>
<circle cx="241.3" cy="294.6" r="2"/>
<circle cx="242.6" cy="295" r="2"/>
<circle cx="241.4" cy="294.6" r="2"/>
<circle cx="240.8" cy="291.7" r="2"/>
<circle cx="238.4" cy="293.2" r="2"/>
<circle cx="239.6" cy="290.7" r="2"/>
<circle cx="244.8" cy="290.9" r="2"/>
<circle cx="241.6" cy="288.2" r="2"/>
<circle cx="240.7" cy="286.8" r="2"/>
<circle cx="243.4" cy="290.9" r="2"/>
<circle cx="240.5" cy="296.2" r="2"/>
<circle cx="238.4" cy="284" r="2"/>
<circle cx="245" cy="283.8" r="2"/>
<circle cx="242" cy="294.3" r="2"/>
<circle cx="241.8" cy="294.3" r="2"/>
<circle cx="240.4" cy="281.7" r="2"/>
<circle cx="240.9" cy="282.4" r="2"/>
<circle cx="239.6" cy="286.8" r="2"/>
<circle cx="241" cy="292.4" r="2"/>
<circle cx="242.6" cy="278.7" r="2"/>
<circle cx="243.3" cy="286.1" r="2"/>
<circle cx="241.5" cy="293.1" r="2"/>
<circle cx="243.2" cy="292.5" r="2"/>
<circle cx="242.4" cy="288.5" r="2"/>
<circle cx="241.2" cy="283.9" r="2"/>
<circle cx="241.1" cy="290.9" r="2"/>
<circle cx="242" cy="282.5" r="2"/>
<circle cx="241" cy="287.5" r="2"/>
<circle cx="237.5" cy="285.8" r="2"/>
<circle cx="245.3" cy="287.6" r="2"/>
<circle cx="242.8" cy="291.4" r="2"/>
<circle cx="243" cy="288.4" r="2"/>
<circle cx="239.8" cy="292.4" r="2"/>
<circle cx="241.6" cy="278.4" r="2"/>
<circle cx="242.5" cy="286" r="2"/>
<circle cx="242.7" cy="292.4" r="2"/>
<circle cx="241.5" cy="286.9" r="2"/>
<circle cx="239.5" cy="284.3" r="2"/>
<circle cx="244.4" cy="278.4" r="2"/>
<circle cx="239.9" cy="288.9" r="2"/>
<circle cx="242.1" cy="294.4" r="2"/>
<circle cx="240.2" cy="278.8" r="2"/>
<circle cx="240.7" cy="293.4" r="2"/>
<circle cx="242.8" cy="280" r="2"/>
<circle cx="239.4" cy="286.7" r="2"/>
<circle cx="243.3" cy="287.7" r="2"/>
<circle cx="243.8" cy="288.6" r="2"/>
<circle cx="242.4" cy="276.9" r="2"/>
<circle cx="242.9" cy="288.1" r="2"/>
<circle cx="239.1" cy="290" r="2"/>
<circle cx="243.8" cy="280.6" r="2"/>
<circle cx="242.7" cy="292.8" r="2"/>
<circle cx="239.8" cy="284.2" r="2"/>
</g>
<g fill-opacity=".72" stroke-opacity=".72">
<circle cx="241.7" cy="282.2" r="2"/>
<circle cx="242.6" cy="284.4" r="2"/>
<circle cx="238" cy="288.3" r="2"/>
<circle cx="245.8" cy="285.7" r="2"/>
<circle cx="239.1" cy="284.9" r="2"/>
<circle cx="238" cy="278.8" r="2"/>
<circle cx="244.8" cy="287.2" r="2"/>
<circle cx="245.9" cy="283.2" r="2"/>
<circle cx="241.6" cy="273.9" r="2"/>
<circle cx="241.3" cy="274.3" r="2"/>
<circle cx="243" cy="278.5" r="2"/>
<circle cx="243.8" cy="284.9" r="2"/>
<circle cx="243.8" cy="273.8" r="2"/>
<circle cx="239.5" cy="291" r="2"/>
<circle cx="240.8" cy="282.9" r="2"/>
<circle cx="244" cy="277.5" r="2"/>
<circle cx="238.2" cy="275.3" r="2"/>
<circle cx="243.4" cy="287.6" r="2"/>
<circle cx="241.1" cy="274.7" r="2"/>
<circle cx="241.9" cy="283.5" r="2"/>
<circle cx="244.4" cy="283.4" r="2"/>
<circle cx="243.1" cy="284.2" r="2"/>
<circle cx="240.1" cy="277.5" r="2"/>
<circle cx="240.1" cy="275" r="2"/>
<circle cx="239.7" cy="279.1" r="2"/>
<circle cx="243.9" cy="282.7" r="2"/>
<circle cx="239" cy="281.7" r="2"/>
<circle cx="243.2" cy="289.1" r="2"/>
<circle cx="245.2" cy="286" r="2"/>
<circle cx="246.2" cy="280.9" r="2"/>
<circle cx="242.3" cy="282.8" r="2"/>
<circle cx="238.5" cy="288.1" r="2"/>
<circle cx="236.8" cy="281.5" r="2"/>
<circle cx="246.2" cy="279.6" r="2"/>
<circle cx="238.8" cy="284.9" r="2"/>
<circle cx="244" cy="280.4" r="2"/>
<circle cx="241.1" cy="275.9" r="2"/>
<circle cx="241.6" cy="288.7" r="2"/>
<circle cx="244.9" cy="287.6" r="2"/>
<circle cx="244.8" cy="285.1" r="2"/>
<circle cx="237.6" cy="276.3" r="2"/>
<circle cx="244.3" cy="286" r="2"/>
<circle cx="245.1" cy="275.8" r="2"/>
<circle cx="241.1" cy="282.9" r="2"/>
<circle cx="244.9" cy="277.1" r="2"/>
<circle cx="243" cy="279.1" r="2"/>
<circle cx="244.3" cy="288" r="2"/>
<circle cx="236.9" cy="275" r="2"/>
<circle cx="239.3" cy="273.2" r="2"/>
<circle cx="240.9" cy="282.3" r="2"/>
<circle cx="246.2" cy="280.1" r="2"/>
<circle cx="239" cy="281.1" r="2"/>
<circle cx="244.4" cy="287.5" r="2"/>
<circle cx="242.8" cy="281" r="2"/>
<circle cx="241.5" cy="280.7" r="2"/>
<circle cx="243.7" cy="270.6" r="2"/>
<circle cx="242.4" cy="280.6" r="2"/>
<circle cx="243.2" cy="280.8" r="2"/>
<circle cx="240.5" cy="288" r="2"/>
<circle cx="240" cy="284.8" r="2"/>
<circle cx="245.5" cy="271.3" r="2"/>
<circle cx="238.5" cy="278.1" r="2"/>
<circle cx="237.6" cy="279" r="2"/>
<circle cx="241.7" cy="282.5" r="2"/>
<circle cx="242.5" cy="282.3" r="2"/>
<circle cx="240.9" cy="284.7" r="2"/>
<circle cx="245.5" cy="278.4" r="2"/>
<circle cx="242.9" cy="288.3" r="2"/>
<circle cx="244.1" cy="267.7" r="2"/>
<circle cx="240.7" cy="272.4" r="2"/>
<circle cx="241.4" cy="280.9" r="2"/>
<circle cx="237.2" cy="280.8" r="2"/>
<circle cx="239.1" cy="268.1" r="2"/>
<circle cx="237" cy="276.7" r="2"/>
<circle cx="243.7" cy="279.4" r="2"/>
<circle cx="240.8" cy="281.6" r="2"/>
<circle cx="239.3" cy="279.8" r="2"/>
<circle cx="237.4" cy="271.5" r="2"/>
<circle cx="243.5" cy="280" r="2"/>
<circle cx="242.2" cy="274.9" r="2"/>
<circle cx="242.1" cy="265.1" r="2"/>
<circle cx="239.5" cy="280.2" r="2"/>
<circle cx="241.3" cy="273" r="2"/>
<circle cx="244.8" cy="275.4" r="2"/>
<circle cx="239.7" cy="274.8" r="2"/>
<circle cx="243.1" cy="277.5" r="2"/>
<circle cx="241.1" cy="276.6" r="2"/>
<circle cx="244.1" cy="282.5" r="2"/>
<circle cx="245.3" cy="277.4" r="2"/>
<circle cx="236.3" cy="271.3" r="2"/>
<circle cx="243.4" cy="264.1" r="2"/>
<circle cx="241.7" cy="264.9" r="2"/>
<circle cx="242.2" cy="270.2" r="2"/>
<circle cx="240.1" cy="282.3" r="2"/>
<circle cx="240" cy="282.5" r="2"/>
<circle cx="245.5" cy="281.3" r="2"/>
<circle cx="242" cy="282.7" r="2"/>
<circle cx="238.5" cy="283.6" r="2"/>
<circle cx="246.2" cy="278.8" r="2"/>
</g>
<g fill-opacity=".74" stroke-opacity=".74">
<circle cx="241" cy="270.6" r="2"/>
<circle cx="244" cy="279.9" r="2"/>
<circle cx="242" cy="284.9" r="2"/>
<circle cx="246.1" cy="277.8" r="2"/>
<circle cx="242.7" cy="265.4" r="2"/>
<circle cx="246.7" cy="271.6" r="2"/>
<circle cx="238.9" cy="278.3" r="2"/>
<circle cx="238.2" cy="271.8" r="2"/>
<circle cx="239.7" cy="274.1" r="2"/>
<circle cx="242.9" cy="269.7" r="2"/>
<circle cx="241.8" cy="273.5" r="2"/>
<circle cx="236.4" cy="277.9" r="2"/>
<circle cx="242.2" cy="283.4" r="2"/>
<circle cx="237" cy="273.3" r="2"/>
<circle cx="239" cy="270.6" r="2"/>
<circle cx="239.3" cy="284.3" r="2"/>
<circle cx="239" cy="276.9" r="2"/>
<circle cx="241.6" cy="271.1" r="2"/>
<circle cx="240.5" cy="265.8" r="2"/>
<circle cx="243" cy="283.9" r="2"/>
<circle cx="247.1" cy="274.3" r="2"/>
<circle cx="244.8" cy="271.1" r="2"/>
<circle cx="242.3" cy="272.5" r="2"/>
<circle cx="238.6" cy="269.8" r="2"/>
<circle cx="240.5" cy="278" r="2"/>
<circle cx="240.5" cy="276.4" r="2"/>
<circle cx="244.3" cy="264" r="2"/>
<circle cx="241.2" cy="275" r="2"/>
<circle cx="241.8" cy="266.3" r="2"/>
<circle cx="244.7" cy="276.4" r="2"/>
<circle cx="244.4" cy="277.8" r="2"/>
<circle cx="245.8" cy="277.5" r="2"/>
<circle cx="240.8" cy="279.8" r="2"/>
<circle cx="241.1" cy="280" r="2"/>
<circle cx="244.5" cy="264.6" r="2"/>
<circle cx="239.4" cy="263.5" r="2"/>
<circle cx="241.1" cy="282.8" r="2"/>
<circle cx="242.4" cy="220.5" r="2"/>
<circle cx="244.3" cy="280.7" r="2"/>
<circle cx="242.5" cy="270.3" r="2"/>
<circle cx="244.7" cy="277.9" r="2"/>
<circle cx="243.8" cy="276.6" r="2"/>
<circle cx="245.1" cy="279.1" r="2"/>
<circle cx="235.7" cy="269.8" r="2"/>
<circle cx="238.1" cy="222" r="2"/>
<circle cx="246" cy="268.1" r="2"/>
<circle cx="240.6" cy="265.7" r="2"/>
<circle cx="236.5" cy="269.2" r="2"/>
<circle cx="244.1" cy="257" r="2"/>
<circle cx="243.9" cy="273" r="2"/>
<circle cx="244" cy="258.1" r="2"/>
<circle cx="243.6" cy="279.6" r="2"/>
<circle cx="242.2" cy="282.1" r="2"/>
<circle cx="244.3" cy="266.9" r="2"/>
<circle cx="246.3" cy="267.7" r="2"/>
<circle cx="241.3" cy="267.1" r="2"/>
<circle cx="243.3" cy="272.9" r="2"/>
<circle cx="244.9" cy="261" r="2"/>
<circle cx="240.5" cy="258.1" r="2"/>
<circle cx="243.2" cy="280" r="2"/>
<circle cx="242.8" cy="230.5" r="2"/>
<circle cx="240.8" cy="279.8" r="2"/>
<circle cx="239.8" cy="258.9" r="2"/>
<circle cx="249.6" cy="226.6" r="2"/>
<circle cx="236.4" cy="260.2" r="2"/>
<circle cx="237.7" cy="271.7" r="2"/>
<circle cx="245.5" cy="269.8" r="2"/>
<circle cx="236.7" cy="215.6" r="2"/>
<circle cx="243.8" cy="274" r="2"/>
<circle cx="243.7" cy="271.6" r="2"/>
<circle cx="235.6" cy="271.5" r="2"/>
<circle cx="238.6" cy="257.5" r="2"/>
<circle cx="236.2" cy="260.6" r="2"/>
<circle cx="241" cy="274.2" r="2"/>
<circle cx="239.9" cy="254.4" r="2"/>
<circle cx="242.4" cy="271.3" r="2"/>
<circle cx="243.4" cy="280.6" r="2"/>
<circle cx="235.5" cy="270.9" r="2"/>
<circle cx="244.3" cy="274.3" r="2"/>
<circle cx="240.1" cy="278.3" r="2"/>
<circle cx="237.6" cy="258.7" r="2"/>
<circle cx="246.4" cy="270.6" r="2"/>
<circle cx="239.8" cy="274.2" r="2"/>
<circle cx="237.7" cy="267.3" r="2"/>
<circle cx="237.5" cy="274.7" r="2"/>
<circle cx="240.6" cy="279.1" r="2"/>
<circle cx="232.2" cy="222.4" r="2"/>
<circle cx="248" cy="232.2" r="2"/>
<circle cx="240.4" cy="256.9" r="2"/>
<circle cx="236.1" cy="266.1" r="2"/>
<circle cx="239" cy="263.4" r="2"/>
<circle cx="245.1" cy="210.8" r="2"/>
<circle cx="245.5" cy="264.2" r="2"/>
<circle cx="243.3" cy="262.2" r="2"/>
</g>
<g fill-opacity=".76" stroke-opacity=".76">
<circle cx="239.8" cy="274" r="2"/>
<circle cx="238.7" cy="276.2" r="2"/>
<circle cx="250.9" cy="213.9" r="2"/>
<circle cx="240" cy="269.9" r="2"/>
<circle cx="245.5" cy="263.1" r="2"/>
<circle cx="241.9" cy="266.9" r="2"/>
<circle cx="245.2" cy="272.8" r="2"/>
<circle cx="242.5" cy="273" r="2"/>
<circle cx="233.6" cy="230.8" r="2"/>
<circle cx="237.5" cy="258.1" r="2"/>
<circle cx="238.9" cy="271.9" r="2"/>
<circle cx="242.3" cy="262.7" r="2"/>
<circle cx="238.2" cy="268.5" r="2"/>
<circle cx="235.3" cy="259.8" r="2"/>
<circle cx="237.2" cy="274.5" r="2"/>
<circle cx="242.2" cy="272.1" r="2"/>
<circle cx="247.1" cy="263.4" r="2"/>
<circle cx="240.8" cy="271.7" r="2"/>
<circle cx="242.6" cy="261.2" r="2"/>
<circle cx="245.4" cy="263.8" r="2"/>
<circle cx="240.1" cy="256.3" r="2"/>
<circle cx="243" cy="208.3" r="2"/>
<circle cx="239.6" cy="255.2" r="2"/>
<circle cx="234.9" cy="268.7" r="2"/>
<circle cx="243" cy="278.5" r="2"/>
<circle cx="231" cy="228.9" r="2"/>
<circle cx="243.5" cy="270.1" r="2"/>
<circle cx="241.4" cy="268.3" r="2"/>
<circle cx="247.9" cy="266.2" r="2"/>
<circle cx="244.1" cy="254.9" r="2"/>
<circle cx="239.5" cy="236.6" r="2"/>
<circle cx="243.5" cy="268.5" r="2"/>
<circle cx="235.9" cy="271.3" r="2"/>
<circle cx="245.1" cy="270.7" r="2"/>
<circle cx="244.5" cy="256.1" r="2"/>
<circle cx="236.4" cy="257" r="2"/>
<circle cx="243.4" cy="269.4" r="2"/>
<circle cx="252.8" cy="232.5" r="2"/>
<circle cx="241.2" cy="269.9" r="2"/>
<circle cx="236.6" cy="257.9" r="2"/>
<circle cx="239.5" cy="253.5" r="2"/>
<circle cx="244.4" cy="260.7" r="2"/>
<circle cx="241.3" cy="265.4" r="2"/>
<circle cx="243" cy="267" r="2"/>
<circle cx="246.5" cy="258.2" r="2"/>
<circle cx="252.9" cy="233.5" r="2"/>
<circle cx="246.6" cy="265.5" r="2"/>
<circle cx="240.5" cy="277.6" r="2"/>
<circle cx="241.2" cy="269.1" r="2"/>
<circle cx="244.6" cy="258.6" r="2"/>
<circle cx="240.8" cy="251.8" r="2"/>
<circle cx="240.6" cy="267.7" r="2"/>
<circle cx="248.7" cy="237" r="2"/>
<circle cx="244.4" cy="266.9" r="2"/>
<circle cx="244" cy="262.9" r="2"/>
<circle cx="237.3" cy="254.7" r="2"/>
<circle cx="236.2" cy="269.1" r="2"/>
<circle cx="246.6" cy="251.5" r="2"/>
<circle cx="236.2" cy="258.8" r="2"/>
<circle cx="244.9" cy="274" r="2"/>
<circle cx="239.7" cy="238.6" r="2"/>
<circle cx="244.9" cy="269.2" r="2"/>
<circle cx="243.3" cy="276" r="2"/>
<circle cx="257.9" cy="221.1" r="2"/>
<circle cx="240.7" cy="264.2" r="2"/>
<circle cx="229.2" cy="230.6" r="2"/>
<circle cx="246.2" cy="260.5" r="2"/>
<circle cx="247.8" cy="263.2" r="2"/>
<circle cx="237" cy="269.2" r="2"/>
<circle cx="258" cy="219.1" r="2"/>
<circle cx="243.3" cy="263.9" r="2"/>
<circle cx="245.1" cy="274.8" r="2"/>
<circle cx="240.5" cy="247.4" r="2"/>
<circle cx="245.6" cy="265.2" r="2"/>
<circle cx="248.1" cy="205.9" r="2"/>
<circle cx="242.9" cy="274.7" r="2"/>
<circle cx="245.5" cy="249.7" r="2"/>
<circle cx="255.5" cy="212" r="2"/>
<circle cx="229.1" cy="231.3" r="2"/>
<circle cx="235.5" cy="266.4" r="2"/>
<circle cx="246.6" cy="259.9" r="2"/>
<circle cx="257.6" cy="216.1" r="2"/>
<circle cx="239.9" cy="275.2" r="2"/>
<circle cx="233.7" cy="207.5" r="2"/>
<circle cx="244.8" cy="246.1" r="2"/>
<circle cx="241.2" cy="239.8" r="2"/>
<circle cx="238.5" cy="261.9" r="2"/>
<circle cx="235.2" cy="206.3" r="2"/>
<circle cx="241.5" cy="272.1" r="2"/>
<circle cx="247.8" cy="267.9" r="2"/>
<circle cx="247.6" cy="205.1" r="2"/>
<circle cx="237.7" cy="259.9" r="2"/>
<circle cx="246.7" cy="248" r="2"/>
<circle cx="240.7" cy="254.7" r="2"/>
<circle cx="235.1" cy="205.7" r="2"/>
<circle cx="236.8" cy="257.3" r="2"/>
<circle cx="247.6" cy="264.8" r="2"/>
<circle cx="235.7" cy="257.5" r="2"/>
<circle cx="240.9" cy="264.6" r="2"/>
<circle cx="237.3" cy="204.6" r="2"/>
<circle cx="241.3" cy="268.6" r="2"/>
<circle cx="238.6" cy="263" r="2"/>
<circle cx="240.5" cy="272.2" r="2"/>
<circle cx="243" cy="259.4" r="2"/>
<circle cx="249" cy="256.5" r="2"/>
<circle cx="241" cy="273.1" r="2"/>
<circle cx="236.7" cy="252.9" r="2"/>
<circle cx="237" cy="257.2" r="2"/>
<circle cx="260.1" cy="221.6" r="2"/>
<circle cx="230.8" cy="236.3" r="2"/>
<circle cx="237.8" cy="259.9" r="2"/>
<circle cx="244.3" cy="241.3" r="2"/>
<circle cx="225" cy="220.9" r="2"/>
<circle cx="237.5" cy="240.6" r="2"/>
<circle cx="245" cy="271.1" r="2"/>
<circle cx="241.6" cy="248.5" r="2"/>
</g>
<g fill-opacity=".78" stroke-opacity=".78">
<circle cx="237.3" cy="244.9" r="2"/>
<circle cx="234.5" cy="255.1" r="2"/>
<circle cx="241.3" cy="241.5" r="2"/>
<circle cx="247" cy="251.2" r="2"/>
<circle cx="236.5" cy="257" r="2"/>
<circle cx="242.1" cy="244.8" r="2"/>
<circle cx="248.3" cy="240.7" r="2"/>
<circle cx="246.5" cy="268.6" r="2"/>
<circle cx="242.2" cy="267.9" r="2"/>
<circle cx="236.2" cy="266.5" r="2"/>
<circle cx="258.1" cy="232.2" r="2"/>
<circle cx="232.2" cy="238.3" r="2"/>
<circle cx="246.6" cy="261" r="2"/>
<circle cx="241.8" cy="274.1" r="2"/>
<circle cx="228.2" cy="234.2" r="2"/>
<circle cx="243.8" cy="261.4" r="2"/>
<circle cx="246.4" cy="267.8" r="2"/>
<circle cx="239.2" cy="273" r="2"/>
<circle cx="241.1" cy="241.8" r="2"/>
<circle cx="246.5" cy="248.6" r="2"/>
<circle cx="252.5" cy="205.1" r="2"/>
<circle cx="240.1" cy="261" r="2"/>
<circle cx="237.4" cy="242.4" r="2"/>
<circle cx="237.5" cy="253.7" r="2"/>
<circle cx="240.2" cy="252.4" r="2"/>
<circle cx="244.6" cy="258.8" r="2"/>
<circle cx="241.3" cy="273.3" r="2"/>
<circle cx="242.2" cy="252.7" r="2"/>
<circle cx="246.1" cy="263.6" r="2"/>
<circle cx="238" cy="268.4" r="2"/>
<circle cx="246.6" cy="243" r="2"/>
<circle cx="255.1" cy="206.6" r="2"/>
<circle cx="241.9" cy="248.8" r="2"/>
<circle cx="235.8" cy="253.4" r="2"/>
<circle cx="241.7" cy="269.1" r="2"/>
<circle cx="243.1" cy="238.7" r="2"/>
<circle cx="244.2" cy="260.6" r="2"/>
<circle cx="247.8" cy="248.8" r="2"/>
<circle cx="238.8" cy="270.4" r="2"/>
<circle cx="240.5" cy="242.8" r="2"/>
<circle cx="239.3" cy="260" r="2"/>
<circle cx="238.5" cy="268" r="2"/>
<circle cx="245.6" cy="269" r="2"/>
<circle cx="243.1" cy="264.8" r="2"/>
<circle cx="240.6" cy="245.2" r="2"/>
<circle cx="239.4" cy="245.2" r="2"/>
<circle cx="261.2" cy="228.1" r="2"/>
<circle cx="247.8" cy="252.5" r="2"/>
<circle cx="243.1" cy="253.4" r="2"/>
<circle cx="237.6" cy="263" r="2"/>
<circle cx="244.5" cy="253.1" r="2"/>
<circle cx="236.5" cy="244.9" r="2"/>
<circle cx="244.7" cy="259.3" r="2"/>
<circle cx="246.2" cy="238.9" r="2"/>
<circle cx="252.5" cy="240.5" r="2"/>
<circle cx="245.3" cy="269.3" r="2"/>
<circle cx="245.8" cy="267.4" r="2"/>
<circle cx="234.3" cy="258.7" r="2"/>
<circle cx="247.2" cy="245.4" r="2"/>
<circle cx="245.1" cy="239.2" r="2"/>
<circle cx="244" cy="243.6" r="2"/>
<circle cx="241.1" cy="255.1" r="2"/>
<circle cx="233.8" cy="258.7" r="2"/>
<circle cx="245.5" cy="260" r="2"/>
<circle cx="262.2" cy="218.4" r="2"/>
<circle cx="240.6" cy="245.9" r="2"/>
<circle cx="242.2" cy="242" r="2"/>
<circle cx="241.9" cy="266.3" r="2"/>
<circle cx="236.2" cy="252.8" r="2"/>
<circle cx="244.3" cy="257.7" r="2"/>
<circle cx="248" cy="261.9" r="2"/>
<circle cx="233.7" cy="253.6" r="2"/>
<circle cx="234.1" cy="255.6" r="2"/>
<circle cx="243" cy="238.6" r="2"/>
<circle cx="236.9" cy="255.5" r="2"/>
<circle cx="239.8" cy="244" r="2"/>
<circle cx="259.9" cy="210.5" r="2"/>
<circle cx="234.8" cy="255.8" r="2"/>
<circle cx="238.7" cy="232.2" r="2"/>
<circle cx="244.1" cy="234" r="2"/>
<circle cx="243.5" cy="246.6" r="2"/>
<circle cx="262.3" cy="228.5" r="2"/>
<circle cx="236.7" cy="248.2" r="2"/>
<circle cx="248.1" cy="262.8" r="2"/>
<circle cx="245.8" cy="257.5" r="2"/>
<circle cx="245.1" cy="234" r="2"/>
<circle cx="249" cy="250.6" r="2"/>
<circle cx="260.3" cy="233.8" r="2"/>
<circle cx="239.1" cy="267.1" r="2"/>
<circle cx="242.8" cy="252.8" r="2"/>
<circle cx="240.2" cy="244.7" r="2"/>
<circle cx="239.5" cy="244.6" r="2"/>
<circle cx="239.5" cy="255" r="2"/>
<circle cx="246.7" cy="263.5" r="2"/>
<circle cx="241.1" cy="244.9" r="2"/>
<circle cx="241.7" cy="259.4" r="2"/>
<circle cx="234" cy="258.5" r="2"/>
<circle cx="238.9" cy="199.4" r="2"/>
<circle cx="245.7" cy="263.1" r="2"/>
<circle cx="251.1" cy="243.1" r="2"/>
<circle cx="238.2" cy="232.6" r="2"/>
<circle cx="237.1" cy="262.4" r="2"/>
<circle cx="244.6" cy="255.2" r="2"/>
<circle cx="246.4" cy="248.1" r="2"/>
<circle cx="245.5" cy="239.2" r="2"/>
<circle cx="242.2" cy="251.3" r="2"/>
<circle cx="240.3" cy="254.7" r="2"/>
<circle cx="240.2" cy="256.3" r="2"/>
<circle cx="237.9" cy="239.8" r="2"/>
<circle cx="235.9" cy="261.4" r="2"/>
<circle cx="247.7" cy="249.6" r="2"/>
<circle cx="238.2" cy="265.3" r="2"/>
<circle cx="223.9" cy="233.5" r="2"/>
<circle cx="240.3" cy="258.4" r="2"/>
<circle cx="247.4" cy="254.5" r="2"/>
<circle cx="247.2" cy="239.5" r="2"/>
<circle cx="242.9" cy="261.3" r="2"/>
<circle cx="239.9" cy="252" r="2"/>
<circle cx="252.1" cy="200.7" r="2"/>
<circle cx="239.5" cy="258.4" r="2"/>
</g>
<g fill-opacity=".8" stroke-opacity=".8">
<circle cx="238.6" cy="250.1" r="2"/>
<circle cx="240.7" cy="266.6" r="2"/>
<circle cx="245.1" cy="245.6" r="2"/>
<circle cx="241.5" cy="254" r="2"/>
<circle cx="237.9" cy="261" r="2"/>
<circle cx="247" cy="232.2" r="2"/>
<circle cx="233.6" cy="255.7" r="2"/>
<circle cx="247.5" cy="237.4" r="2"/>
<circle cx="245.9" cy="241.5" r="2"/>
<circle cx="236.3" cy="244.9" r="2"/>
<circle cx="264.2" cy="226.2" r="2"/>
<circle cx="250" cy="199.3" r="2"/>
<circle cx="242.6" cy="245.1" r="2"/>
<circle cx="248.4" cy="251.4" r="2"/>
<circle cx="242" cy="254.1" r="2"/>
<circle cx="238.3" cy="258" r="2"/>
<circle cx="235.6" cy="236.6" r="2"/>
<circle cx="240.4" cy="246.1" r="2"/>
<circle cx="247.5" cy="227.4" r="2"/>
<circle cx="237.5" cy="262.8" r="2"/>
<circle cx="243.7" cy="257.6" r="2"/>
<circle cx="233.4" cy="246.3" r="2"/>
<circle cx="237.2" cy="239" r="2"/>
<circle cx="241.3" cy="235.3" r="2"/>
<circle cx="234" cy="238.6" r="2"/>
<circle cx="239.9" cy="245" r="2"/>
<circle cx="233.1" cy="244.1" r="2"/>
<circle cx="241" cy="257" r="2"/>
<circle cx="235.2" cy="198.8" r="2"/>
<circle cx="248.6" cy="230.6" r="2"/>
<circle cx="240.5" cy="260.8" r="2"/>
<circle cx="247.3" cy="246" r="2"/>
<circle cx="220.1" cy="220" r="2"/>
<circle cx="239.5" cy="255.9" r="2"/>
<circle cx="247.3" cy="249.6" r="2"/>
<circle cx="247.6" cy="246" r="2"/>
<circle cx="238.5" cy="255.3" r="2"/>
<circle cx="238" cy="245.3" r="2"/>
<circle cx="245.8" cy="238.6" r="2"/>
<circle cx="238.7" cy="241.6" r="2"/>
<circle cx="243.3" cy="246.6" r="2"/>
<circle cx="250.4" cy="239.2" r="2"/>
<circle cx="244.2" cy="246.7" r="2"/>
<circle cx="236.6" cy="262.1" r="2"/>
<circle cx="243.9" cy="236.6" r="2"/>
<circle cx="247" cy="225.2" r="2"/>
<circle cx="239.8" cy="237.7" r="2"/>
<circle cx="240.5" cy="259.7" r="2"/>
<circle cx="239.1" cy="233.6" r="2"/>
<circle cx="239.7" cy="237.2" r="2"/>
<circle cx="241.4" cy="253.3" r="2"/>
<circle cx="236.2" cy="260.4" r="2"/>
<circle cx="237" cy="237.6" r="2"/>
<circle cx="243.4" cy="258.9" r="2"/>
<circle cx="241.3" cy="249" r="2"/>
<circle cx="250.2" cy="236.5" r="2"/>
<circle cx="241.9" cy="247.1" r="2"/>
<circle cx="233.1" cy="244.9" r="2"/>
<circle cx="239.4" cy="257.3" r="2"/>
<circle cx="236.8" cy="259.3" r="2"/>
<circle cx="244.7" cy="247.1" r="2"/>
<circle cx="245.7" cy="257.4" r="2"/>
<circle cx="237.4" cy="260.3" r="2"/>
<circle cx="235.2" cy="258.4" r="2"/>
<circle cx="248.4" cy="250" r="2"/>
<circle cx="230.1" cy="200.6" r="2"/>
<circle cx="240.3" cy="229.3" r="2"/>
<circle cx="233.4" cy="252.2" r="2"/>
<circle cx="241.7" cy="256.9" r="2"/>
<circle cx="234.4" cy="243" r="2"/>
<circle cx="240.3" cy="252.1" r="2"/>
<circle cx="242.4" cy="247.4" r="2"/>
<circle cx="239" cy="262.4" r="2"/>
<circle cx="241.7" cy="221.4" r="2"/>
<circle cx="243.6" cy="257.1" r="2"/>
<circle cx="244.9" cy="247.4" r="2"/>
<circle cx="232.8" cy="245.2" r="2"/>
<circle cx="243" cy="247.5" r="2"/>
<circle cx="242.6" cy="247.5" r="2"/>
<circle cx="237.8" cy="248.1" r="2"/>
<circle cx="247.8" cy="252.5" r="2"/>
<circle cx="242.7" cy="244.8" r="2"/>
<circle cx="240.4" cy="242.7" r="2"/>
<circle cx="239.7" cy="261" r="2"/>
<circle cx="243.9" cy="262.1" r="2"/>
<circle cx="221.9" cy="234.4" r="2"/>
<circle cx="241.1" cy="247.6" r="2"/>
<circle cx="248.5" cy="239.7" r="2"/>
<circle cx="241.9" cy="261.1" r="2"/>
<circle cx="246.4" cy="237" r="2"/>
<circle cx="242.5" cy="247.8" r="2"/>
<circle cx="239.6" cy="248" r="2"/>
<circle cx="247.8" cy="244.2" r="2"/>
<circle cx="244.8" cy="249.9" r="2"/>
<circle cx="249.7" cy="248.8" r="2"/>
<circle cx="240.5" cy="228.9" r="2"/>
<circle cx="249.3" cy="223.3" r="2"/>
<circle cx="247" cy="244.8" r="2"/>
<circle cx="238" cy="254.1" r="2"/>
<circle cx="249" cy="254.4" r="2"/>
<circle cx="234.4" cy="245.4" r="2"/>
<circle cx="235.1" cy="244.4" r="2"/>
<circle cx="218.8" cy="217.9" r="2"/>
<circle cx="241.6" cy="248.1" r="2"/>
<circle cx="225.8" cy="240.6" r="2"/>
<circle cx="233.6" cy="239.3" r="2"/>
<circle cx="221.1" cy="209.9" r="2"/>
<circle cx="235.1" cy="247.4" r="2"/>
<circle cx="240.1" cy="247.2" r="2"/>
<circle cx="265.8" cy="214.4" r="2"/>
<circle cx="241.4" cy="248.1" r="2"/>
<circle cx="246.2" cy="248" r="2"/>
<circle cx="242.4" cy="240.5" r="2"/>
<circle cx="244.3" cy="250.2" r="2"/>
<circle cx="218.8" cy="226.5" r="2"/>
<circle cx="235.2" cy="247.1" r="2"/>
<circle cx="242.5" cy="241.9" r="2"/>
<circle cx="251.7" cy="234.9" r="2"/>
<circle cx="240.4" cy="240.3" r="2"/>
<circle cx="240.2" cy="251.7" r="2"/>
<circle cx="245.4" cy="234.8" r="2"/>
</g>
<g fill-opacity=".82" stroke-opacity=".82">
<circle cx="249" cy="247.9" r="2"/>
<circle cx="247.1" cy="231.7" r="2"/>
<circle cx="241.7" cy="240" r="2"/>
<circle cx="245.2" cy="253.1" r="2"/>
<circle cx="238.5" cy="219.8" r="2"/>
<circle cx="246.4" cy="242.9" r="2"/>
<circle cx="237.9" cy="245.6" r="2"/>
<circle cx="242.3" cy="257.8" r="2"/>
<circle cx="243.2" cy="230.7" r="2"/>
<circle cx="238.4" cy="252.8" r="2"/>
<circle cx="246.4" cy="252" r="2"/>
<circle cx="232.7" cy="245" r="2"/>
<circle cx="241.7" cy="252.3" r="2"/>
<circle cx="246.3" cy="239.4" r="2"/>
<circle cx="238" cy="242.1" r="2"/>
<circle cx="233.8" cy="226.1" r="2"/>
<circle cx="243.5" cy="237.6" r="2"/>
<circle cx="248.4" cy="235.5" r="2"/>
<circle cx="218" cy="218.5" r="2"/>
<circle cx="236.2" cy="242.6" r="2"/>
<circle cx="250.1" cy="241" r="2"/>
<circle cx="243" cy="253.8" r="2"/>
<circle cx="233.5" cy="241.8" r="2"/>
<circle cx="241.5" cy="242.4" r="2"/>
<circle cx="239.7" cy="256.3" r="2"/>
<circle cx="233.9" cy="247.2" r="2"/>
<circle cx="267.5" cy="222.5" r="2"/>
<circle cx="244.8" cy="252.4" r="2"/>
<circle cx="222.4" cy="205.9" r="2"/>
<circle cx="246.5" cy="250.7" r="2"/>
<circle cx="240.5" cy="240.7" r="2"/>
<circle cx="241.6" cy="247.8" r="2"/>
<circle cx="237.8" cy="231.6" r="2"/>
<circle cx="233.5" cy="238.3" r="2"/>
<circle cx="234.6" cy="231.2" r="2"/>
<circle cx="235.4" cy="222.1" r="2"/>
<circle cx="246.5" cy="253" r="2"/>
<circle cx="240" cy="251.8" r="2"/>
<circle cx="266.1" cy="231" r="2"/>
<circle cx="238.7" cy="251.9" r="2"/>
<circle cx="245.9" cy="241.9" r="2"/>
<circle cx="235.8" cy="241.1" r="2"/>
<circle cx="235" cy="248.1" r="2"/>
<circle cx="246.6" cy="256.8" r="2"/>
<circle cx="237.2" cy="250.5" r="2"/>
<circle cx="251.4" cy="237.5" r="2"/>
<circle cx="245.5" cy="249" r="2"/>
<circle cx="232.5" cy="247" r="2"/>
<circle cx="244.2" cy="256.8" r="2"/>
<circle cx="231.5" cy="246.4" r="2"/>
<circle cx="233.2" cy="248.4" r="2"/>
<circle cx="248.5" cy="238.2" r="2"/>
<circle cx="236.8" cy="256.8" r="2"/>
<circle cx="241.6" cy="257.9" r="2"/>
<circle cx="250.3" cy="195.6" r="2"/>
<circle cx="247.6" cy="222.6" r="2"/>
<circle cx="231.3" cy="235.1" r="2"/>
<circle cx="258.2" cy="200.1" r="2"/>
<circle cx="236.2" cy="248.4" r="2"/>
<circle cx="250.3" cy="245.3" r="2"/>
<circle cx="241.9" cy="194.2" r="2"/>
<circle cx="249.9" cy="237.1" r="2"/>
<circle cx="243.6" cy="248.9" r="2"/>
<circle cx="243.2" cy="250" r="2"/>
<circle cx="237.8" cy="235.9" r="2"/>
<circle cx="235.6" cy="252.5" r="2"/>
<circle cx="243.8" cy="250.9" r="2"/>
<circle cx="239.4" cy="233" r="2"/>
<circle cx="246" cy="249.2" r="2"/>
<circle cx="234.6" cy="220.4" r="2"/>
<circle cx="245.6" cy="254.3" r="2"/>
<circle cx="240.7" cy="216.5" r="2"/>
<circle cx="238.9" cy="248.7" r="2"/>
<circle cx="232.5" cy="247.3" r="2"/>
<circle cx="244.2" cy="248.2" r="2"/>
<circle cx="239.1" cy="227.2" r="2"/>
<circle cx="240.2" cy="245.6" r="2"/>
<circle cx="233.9" cy="220.9" r="2"/>
<circle cx="238.2" cy="221" r="2"/>
<circle cx="253.7" cy="246.9" r="2"/>
<circle cx="247.9" cy="247.6" r="2"/>
<circle cx="249.6" cy="223.2" r="2"/>
<circle cx="234.8" cy="240.6" r="2"/>
<circle cx="233.7" cy="245" r="2"/>
<circle cx="237" cy="231.3" r="2"/>
<circle cx="234.6" cy="242.7" r="2"/>
<circle cx="267.1" cy="229.9" r="2"/>
<circle cx="242.7" cy="241.4" r="2"/>
<circle cx="234.9" cy="245.7" r="2"/>
<circle cx="244.3" cy="246.4" r="2"/>
<circle cx="246.6" cy="228.6" r="2"/>
<circle cx="243.3" cy="238.5" r="2"/>
<circle cx="241.4" cy="232.8" r="2"/>
<circle cx="238.9" cy="228.6" r="2"/>
<circle cx="248.2" cy="228.8" r="2"/>
<circle cx="240" cy="222" r="2"/>
<circle cx="251" cy="242.2" r="2"/>
<circle cx="238.2" cy="217.6" r="2"/>
<circle cx="245.2" cy="253.5" r="2"/>
<circle cx="252.2" cy="224.3" r="2"/>
<circle cx="261.3" cy="202.4" r="2"/>
<circle cx="241.8" cy="254.6" r="2"/>
<circle cx="245.6" cy="254.2" r="2"/>
<circle cx="240.9" cy="250.8" r="2"/>
<circle cx="233.8" cy="221.9" r="2"/>
<circle cx="233.5" cy="227.5" r="2"/>
<circle cx="251.9" cy="248" r="2"/>
<circle cx="243.4" cy="241.9" r="2"/>
<circle cx="237.7" cy="243.1" r="2"/>
<circle cx="238.2" cy="253.3" r="2"/>
<circle cx="243.8" cy="250.4" r="2"/>
<circle cx="243.5" cy="239.3" r="2"/>
<circle cx="243.2" cy="233.6" r="2"/>
<circle cx="233.5" cy="248.2" r="2"/>
<circle cx="248.1" cy="251.8" r="2"/>
<circle cx="240.9" cy="254.8" r="2"/>
<circle cx="253.6" cy="231.4" r="2"/>
<circle cx="248.3" cy="228.3" r="2"/>
<circle cx="248.4" cy="194.1" r="2"/>
<circle cx="235.2" cy="250.4" r="2"/>
<circle cx="267.1" cy="212" r="2"/>
<circle cx="233.4" cy="228.8" r="2"/>
<circle cx="249.4" cy="217.3" r="2"/>
<circle cx="227.1" cy="198.8" r="2"/>
<circle cx="237" cy="244.1" r="2"/>
<circle cx="248.9" cy="228.4" r="2"/>
<circle cx="248.7" cy="193.9" r="2"/>
<circle cx="232" cy="239.3" r="2"/>
<circle cx="232.5" cy="244.2" r="2"/>
<circle cx="240.5" cy="243.5" r="2"/>
<circle cx="238.3" cy="226.9" r="2"/>
</g>
<g fill-opacity=".84" stroke-opacity=".84">
<circle cx="236.5" cy="219.1" r="2"/>
<circle cx="234.8" cy="248.9" r="2"/>
<circle cx="236.2" cy="234" r="2"/>
<circle cx="218.1" cy="231.7" r="2"/>
<circle cx="252.5" cy="223.4" r="2"/>
<circle cx="243" cy="226.3" r="2"/>
<circle cx="242.4" cy="213.3" r="2"/>
<circle cx="235.3" cy="247.2" r="2"/>
<circle cx="247.2" cy="251.4" r="2"/>
<circle cx="246.2" cy="242.7" r="2"/>
<circle cx="246.8" cy="223.7" r="2"/>
<circle cx="218.5" cy="233" r="2"/>
<circle cx="251.4" cy="248.7" r="2"/>
<circle cx="240" cy="217.3" r="2"/>
<circle cx="218.1" cy="211.2" r="2"/>
<circle cx="229.5" cy="229.1" r="2"/>
<circle cx="216.4" cy="218.4" r="2"/>
<circle cx="244.5" cy="248.5" r="2"/>
<circle cx="249.2" cy="222.2" r="2"/>
<circle cx="248.7" cy="241.3" r="2"/>
<circle cx="234.7" cy="241.7" r="2"/>
<circle cx="241" cy="192.8" r="2"/>
<circle cx="232.5" cy="248.3" r="2"/>
<circle cx="252.9" cy="248.2" r="2"/>
<circle cx="259" cy="244.3" r="2"/>
<circle cx="241.4" cy="237.9" r="2"/>
<circle cx="250.4" cy="242" r="2"/>
<circle cx="254.2" cy="232" r="2"/>
<circle cx="236" cy="240.5" r="2"/>
<circle cx="253.7" cy="235.8" r="2"/>
<circle cx="258.3" cy="244.9" r="2"/>
<circle cx="233.4" cy="237.4" r="2"/>
<circle cx="216.1" cy="220.7" r="2"/>
<circle cx="248.5" cy="213.7" r="2"/>
<circle cx="237.3" cy="246.8" r="2"/>
<circle cx="232.2" cy="227.8" r="2"/>
<circle cx="246.4" cy="250.3" r="2"/>
<circle cx="237.9" cy="231" r="2"/>
<circle cx="262.5" cy="202.4" r="2"/>
<circle cx="241.8" cy="252.8" r="2"/>
<circle cx="245.6" cy="231.5" r="2"/>
<circle cx="243.4" cy="215.8" r="2"/>
<circle cx="233.5" cy="244.5" r="2"/>
<circle cx="237.6" cy="217.2" r="2"/>
<circle cx="240.2" cy="223.9" r="2"/>
<circle cx="250.3" cy="218.5" r="2"/>
<circle cx="250.7" cy="239" r="2"/>
<circle cx="253.9" cy="248.1" r="2"/>
<circle cx="239.7" cy="226.5" r="2"/>
<circle cx="238.1" cy="214.7" r="2"/>
<circle cx="246" cy="247.4" r="2"/>
<circle cx="234.5" cy="220.7" r="2"/>
<circle cx="234.7" cy="216.1" r="2"/>
<circle cx="230.5" cy="223.8" r="2"/>
<circle cx="235.8" cy="227.3" r="2"/>
<circle cx="241.7" cy="241.5" r="2"/>
<circle cx="244.9" cy="235.5" r="2"/>
<circle cx="236.5" cy="193" r="2"/>
<circle cx="238.7" cy="241.5" r="2"/>
<circle cx="247.2" cy="233.6" r="2"/>
<circle cx="267.5" cy="210.7" r="2"/>
<circle cx="240.9" cy="251.4" r="2"/>
<circle cx="242.7" cy="250.9" r="2"/>
<circle cx="241.3" cy="250.1" r="2"/>
<circle cx="232.5" cy="241.5" r="2"/>
<circle cx="239.3" cy="217.3" r="2"/>
<circle cx="258" cy="245.6" r="2"/>
<circle cx="244.3" cy="241.8" r="2"/>
<circle cx="228.3" cy="196.6" r="2"/>
<circle cx="229.8" cy="230.9" r="2"/>
<circle cx="242.6" cy="222.4" r="2"/>
<circle cx="234.7" cy="244.9" r="2"/>
<circle cx="233.7" cy="222.8" r="2"/>
<circle cx="238.1" cy="223.6" r="2"/>
<circle cx="253" cy="236.2" r="2"/>
<circle cx="228.5" cy="232.4" r="2"/>
<circle cx="229.3" cy="231" r="2"/>
<circle cx="240.6" cy="245.3" r="2"/>
<circle cx="245" cy="223.9" r="2"/>
<circle cx="245.3" cy="229.5" r="2"/>
<circle cx="262.3" cy="241.7" r="2"/>
<circle cx="233.8" cy="193.6" r="2"/>
<circle cx="250.3" cy="218.4" r="2"/>
<circle cx="238.4" cy="240.5" r="2"/>
<circle cx="249.8" cy="239.9" r="2"/>
<circle cx="233.2" cy="234.6" r="2"/>
<circle cx="243.6" cy="232.4" r="2"/>
<circle cx="243.5" cy="210.5" r="2"/>
<circle cx="228.7" cy="224.3" r="2"/>
<circle cx="254.7" cy="195" r="2"/>
<circle cx="246" cy="246" r="2"/>
<circle cx="240.2" cy="209.4" r="2"/>
</g>
<g fill-opacity=".86" stroke-opacity=".86">
<circle cx="251.2" cy="231" r="2"/>
<circle cx="229.9" cy="233.6" r="2"/>
<circle cx="243.8" cy="220.6" r="2"/>
<circle cx="215.5" cy="220.4" r="2"/>
<circle cx="239.1" cy="207.9" r="2"/>
<circle cx="242.6" cy="251.1" r="2"/>
<circle cx="234.1" cy="225.6" r="2"/>
<circle cx="221.4" cy="240" r="2"/>
<circle cx="244.9" cy="239.5" r="2"/>
<circle cx="247.7" cy="230" r="2"/>
<circle cx="243.9" cy="232.9" r="2"/>
<circle cx="254.6" cy="194.9" r="2"/>
<circle cx="243.2" cy="234.9" r="2"/>
<circle cx="240.2" cy="227.2" r="2"/>
<circle cx="240.5" cy="223.9" r="2"/>
<circle cx="250" cy="236" r="2"/>
<circle cx="236.1" cy="220.7" r="2"/>
<circle cx="252.5" cy="220.4" r="2"/>
<circle cx="243.6" cy="210.5" r="2"/>
<circle cx="244.6" cy="245.9" r="2"/>
<circle cx="246.8" cy="250.9" r="2"/>
<circle cx="239.4" cy="244.2" r="2"/>
<circle cx="242.9" cy="210" r="2"/>
<circle cx="218.4" cy="235.1" r="2"/>
<circle cx="238.7" cy="211.6" r="2"/>
<circle cx="250.8" cy="237.6" r="2"/>
<circle cx="235.3" cy="243.8" r="2"/>
<circle cx="246.8" cy="228.1" r="2"/>
<circle cx="257.1" cy="246.7" r="2"/>
<circle cx="234.7" cy="215.8" r="2"/>
<circle cx="241" cy="211.1" r="2"/>
<circle cx="252.4" cy="225.8" r="2"/>
<circle cx="247.5" cy="229.5" r="2"/>
<circle cx="234.5" cy="249.9" r="2"/>
<circle cx="266.2" cy="206.4" r="2"/>
<circle cx="234.2" cy="213" r="2"/>
<circle cx="243.7" cy="237.8" r="2"/>
<circle cx="236.3" cy="218.6" r="2"/>
<circle cx="239.3" cy="240" r="2"/>
<circle cx="231.9" cy="220.4" r="2"/>
<circle cx="237" cy="225.3" r="2"/>
<circle cx="232.7" cy="213.9" r="2"/>
<circle cx="232.8" cy="241.4" r="2"/>
<circle cx="216.8" cy="231.4" r="2"/>
<circle cx="233.2" cy="249.5" r="2"/>
<circle cx="264.1" cy="239.9" r="2"/>
<circle cx="245.8" cy="208.4" r="2"/>
<circle cx="238.8" cy="208.1" r="2"/>
<circle cx="245.7" cy="215.2" r="2"/>
<circle cx="237.6" cy="235.2" r="2"/>
<circle cx="249.9" cy="240.2" r="2"/>
<circle cx="234" cy="225.5" r="2"/>
<circle cx="255.3" cy="194.9" r="2"/>
<circle cx="247.1" cy="234" r="2"/>
<circle cx="232.8" cy="212.8" r="2"/>
<circle cx="238" cy="225" r="2"/>
<circle cx="253.7" cy="231.4" r="2"/>
<circle cx="244.1" cy="225.7" r="2"/>
<circle cx="247.1" cy="213.9" r="2"/>
<circle cx="245" cy="211.4" r="2"/>
<circle cx="235.2" cy="238.4" r="2"/>
<circle cx="231.6" cy="194" r="2"/>
<circle cx="239.7" cy="207.2" r="2"/>
<circle cx="240.8" cy="213.3" r="2"/>
<circle cx="267" cy="207.8" r="2"/>
<circle cx="228.7" cy="247.2" r="2"/>
<circle cx="248.8" cy="225.1" r="2"/>
<circle cx="246.4" cy="239.9" r="2"/>
<circle cx="248.1" cy="241.1" r="2"/>
<circle cx="259.9" cy="198.2" r="2"/>
<circle cx="240.5" cy="245.6" r="2"/>
<circle cx="235.2" cy="226.6" r="2"/>
<circle cx="235.8" cy="236.2" r="2"/>
<circle cx="241.5" cy="229.7" r="2"/>
<circle cx="246.8" cy="236.9" r="2"/>
<circle cx="241.1" cy="233.4" r="2"/>
<circle cx="236.2" cy="221.3" r="2"/>
<circle cx="245" cy="230.9" r="2"/>
<circle cx="267" cy="235" r="2"/>
<circle cx="247.4" cy="208" r="2"/>
<circle cx="241" cy="191.5" r="2"/>
<circle cx="237.3" cy="213.2" r="2"/>
<circle cx="244" cy="220.2" r="2"/>
<circle cx="242.3" cy="234.6" r="2"/>
<circle cx="215.2" cy="220.7" r="2"/>
<circle cx="232.4" cy="233.5" r="2"/>
<circle cx="239" cy="228.1" r="2"/>
<circle cx="241.7" cy="243.1" r="2"/>
<circle cx="238.7" cy="225.7" r="2"/>
<circle cx="237.6" cy="223" r="2"/>
<circle cx="250" cy="223.5" r="2"/>
<circle cx="244.3" cy="243.4" r="2"/>
<circle cx="244.8" cy="235.8" r="2"/>
<circle cx="250.1" cy="220.8" r="2"/>
<circle cx="238.7" cy="207.6" r="2"/>
<circle cx="243.9" cy="231.3" r="2"/>
<circle cx="235.9" cy="227.7" r="2"/>
<circle cx="240.8" cy="219.7" r="2"/>
<circle cx="236.5" cy="229" r="2"/>
<circle cx="244.7" cy="206.4" r="2"/>
<circle cx="237.5" cy="240.8" r="2"/>
<circle cx="247.4" cy="223" r="2"/>
<circle cx="246.6" cy="229.9" r="2"/>
</g>
<g fill-opacity=".88" stroke-opacity=".88">
<circle cx="231.1" cy="230.9" r="2"/>
<circle cx="252" cy="217.2" r="2"/>
<circle cx="250.7" cy="212.8" r="2"/>
<circle cx="251.8" cy="224.9" r="2"/>
<circle cx="218" cy="208.2" r="2"/>
<circle cx="241.2" cy="212.3" r="2"/>
<circle cx="229.7" cy="247.8" r="2"/>
<circle cx="240.5" cy="238.8" r="2"/>
<circle cx="218.3" cy="207.6" r="2"/>
<circle cx="232.2" cy="237" r="2"/>
<circle cx="239.2" cy="243.5" r="2"/>
<circle cx="232.2" cy="211.4" r="2"/>
<circle cx="217.6" cy="233.7" r="2"/>
<circle cx="241.5" cy="222.4" r="2"/>
<circle cx="233.9" cy="238.7" r="2"/>
<circle cx="233.4" cy="235.1" r="2"/>
<circle cx="249.2" cy="231" r="2"/>
<circle cx="236.8" cy="214.1" r="2"/>
<circle cx="244.8" cy="218" r="2"/>
<circle cx="232.5" cy="235" r="2"/>
<circle cx="264.3" cy="203.1" r="2"/>
<circle cx="256.7" cy="247" r="2"/>
<circle cx="240.8" cy="225.3" r="2"/>
<circle cx="251.2" cy="220.5" r="2"/>
<circle cx="252.4" cy="224.8" r="2"/>
<circle cx="254.3" cy="248.4" r="2"/>
<circle cx="229.9" cy="230.5" r="2"/>
<circle cx="248.6" cy="223.3" r="2"/>
<circle cx="244.1" cy="240.7" r="2"/>
<circle cx="237.8" cy="224.2" r="2"/>
<circle cx="232.6" cy="235.9" r="2"/>
<circle cx="250.1" cy="232.9" r="2"/>
<circle cx="239.7" cy="203.9" r="2"/>
<circle cx="240.5" cy="217.6" r="2"/>
<circle cx="251.5" cy="221.4" r="2"/>
<circle cx="234.3" cy="249.8" r="2"/>
<circle cx="255.7" cy="195.1" r="2"/>
<circle cx="232.1" cy="221.2" r="2"/>
<circle cx="234.2" cy="235.6" r="2"/>
<circle cx="256.9" cy="246.7" r="2"/>
<circle cx="246.4" cy="240.8" r="2"/>
<circle cx="235.4" cy="192.5" r="2"/>
<circle cx="250.7" cy="218.4" r="2"/>
<circle cx="246.1" cy="240.4" r="2"/>
<circle cx="250.9" cy="232.4" r="2"/>
<circle cx="236.1" cy="212.6" r="2"/>
<circle cx="251.5" cy="213.8" r="2"/>
<circle cx="231.5" cy="213.4" r="2"/>
<circle cx="251.2" cy="249.6" r="2"/>
<circle cx="242.5" cy="241.7" r="2"/>
<circle cx="240.8" cy="219.9" r="2"/>
<circle cx="239.3" cy="206.3" r="2"/>
<circle cx="238.2" cy="241.1" r="2"/>
<circle cx="232.6" cy="218.8" r="2"/>
<circle cx="245.2" cy="204" r="2"/>
<circle cx="233.9" cy="237.4" r="2"/>
<circle cx="247.5" cy="250.6" r="2"/>
<circle cx="245.6" cy="191.6" r="2"/>
<circle cx="251.1" cy="192.9" r="2"/>
<circle cx="239.8" cy="214.9" r="2"/>
<circle cx="264.2" cy="239.5" r="2"/>
<circle cx="238.2" cy="227" r="2"/>
<circle cx="233.3" cy="229.7" r="2"/>
<circle cx="244.4" cy="203.8" r="2"/>
<circle cx="238.4" cy="205" r="2"/>
<circle cx="238.6" cy="205.8" r="2"/>
<circle cx="245.1" cy="220.9" r="2"/>
<circle cx="241.3" cy="233.2" r="2"/>
<circle cx="238" cy="226" r="2"/>
<circle cx="236.6" cy="203.9" r="2"/>
<circle cx="233.6" cy="219.3" r="2"/>
<circle cx="252" cy="193.3" r="2"/>
<circle cx="237.1" cy="210.2" r="2"/>
<circle cx="237.6" cy="250.5" r="2"/>
<circle cx="249.2" cy="250.1" r="2"/>
<circle cx="240.3" cy="216.2" r="2"/>
<circle cx="244" cy="191.5" r="2"/>
<circle cx="241.6" cy="202.7" r="2"/>
<circle cx="244.4" cy="222.2" r="2"/>
<circle cx="244.4" cy="250.9" r="2"/>
<circle cx="235.1" cy="225.2" r="2"/>
<circle cx="255.5" cy="195" r="2"/>
<circle cx="247.1" cy="211.1" r="2"/>
<circle cx="252.1" cy="217.7" r="2"/>
<circle cx="242.8" cy="226.6" r="2"/>
<circle cx="242.2" cy="207.5" r="2"/>
<circle cx="239.2" cy="202.2" r="2"/>
<circle cx="231.3" cy="232.2" r="2"/>
<circle cx="237.9" cy="204.9" r="2"/>
<circle cx="240.4" cy="231.2" r="2"/>
<circle cx="236.1" cy="192.4" r="2"/>
<circle cx="249.8" cy="212.3" r="2"/>
<circle cx="228.5" cy="246.6" r="2"/>
<circle cx="245" cy="211.4" r="2"/>
<circle cx="242.4" cy="237.8" r="2"/>
<circle cx="232.5" cy="232.9" r="2"/>
<circle cx="235.2" cy="205.6" r="2"/>
<circle cx="245.6" cy="230" r="2"/>
<circle cx="263.5" cy="202.3" r="2"/>
<circle cx="242.3" cy="209" r="2"/>
<circle cx="237.5" cy="215.8" r="2"/>
<circle cx="236.4" cy="216.6" r="2"/>
<circle cx="250" cy="222" r="2"/>
<circle cx="239.3" cy="226.9" r="2"/>
<circle cx="234.4" cy="233.1" r="2"/>
<circle cx="237.9" cy="215.7" r="2"/>
</g>
<g fill-opacity=".9" stroke-opacity=".9">
<circle cx="240.1" cy="236.5" r="2"/>
<circle cx="247.2" cy="208" r="2"/>
<circle cx="241.8" cy="200.5" r="2"/>
<circle cx="252.8" cy="216.6" r="2"/>
<circle cx="252.6" cy="216" r="2"/>
<circle cx="239" cy="202.3" r="2"/>
<circle cx="234" cy="235.7" r="2"/>
<circle cx="231.5" cy="194.3" r="2"/>
<circle cx="231.1" cy="218.7" r="2"/>
<circle cx="244.1" cy="214.6" r="2"/>
<circle cx="234.5" cy="216.2" r="2"/>
<circle cx="252.6" cy="221.5" r="2"/>
<circle cx="245" cy="204.6" r="2"/>
<circle cx="237.3" cy="236" r="2"/>
<circle cx="242.8" cy="218.2" r="2"/>
<circle cx="245.1" cy="237.8" r="2"/>
<circle cx="235.3" cy="211.8" r="2"/>
<circle cx="242.8" cy="207.9" r="2"/>
<circle cx="241.6" cy="206.8" r="2"/>
<circle cx="252.4" cy="223.5" r="2"/>
<circle cx="215.7" cy="220.1" r="2"/>
<circle cx="235.5" cy="192.8" r="2"/>
<circle cx="268.8" cy="228.2" r="2"/>
<circle cx="234.4" cy="235.1" r="2"/>
<circle cx="241.5" cy="218.1" r="2"/>
<circle cx="242.2" cy="220.8" r="2"/>
<circle cx="246.4" cy="204.5" r="2"/>
<circle cx="239.9" cy="208.2" r="2"/>
<circle cx="244.5" cy="216" r="2"/>
<circle cx="247.8" cy="218.4" r="2"/>
<circle cx="245.7" cy="201.7" r="2"/>
<circle cx="244.6" cy="218.1" r="2"/>
<circle cx="238.8" cy="208.4" r="2"/>
<circle cx="244.2" cy="214" r="2"/>
<circle cx="249.8" cy="209.5" r="2"/>
<circle cx="227.2" cy="197.1" r="2"/>
<circle cx="244.4" cy="205.9" r="2"/>
<circle cx="241.8" cy="223.2" r="2"/>
<circle cx="236.6" cy="216.5" r="2"/>
<circle cx="238.5" cy="219.6" r="2"/>
<circle cx="225.9" cy="244.1" r="2"/>
<circle cx="238.3" cy="215.8" r="2"/>
<circle cx="260.8" cy="199.6" r="2"/>
<circle cx="242.1" cy="208.2" r="2"/>
<circle cx="247.3" cy="210.8" r="2"/>
<circle cx="242.5" cy="250.3" r="2"/>
<circle cx="239.6" cy="214.5" r="2"/>
<circle cx="236.8" cy="234.1" r="2"/>
<circle cx="242.1" cy="202.6" r="2"/>
<circle cx="246.8" cy="207.5" r="2"/>
<circle cx="235.7" cy="193" r="2"/>
<circle cx="239.9" cy="208.1" r="2"/>
<circle cx="263.5" cy="239.1" r="2"/>
<circle cx="248.8" cy="216.5" r="2"/>
<circle cx="241.6" cy="228.5" r="2"/>
<circle cx="236.4" cy="212.9" r="2"/>
<circle cx="242.9" cy="201.3" r="2"/>
<circle cx="226.5" cy="244.1" r="2"/>
<circle cx="249" cy="207.7" r="2"/>
<circle cx="237.5" cy="207.3" r="2"/>
<circle cx="247" cy="219.3" r="2"/>
<circle cx="233.6" cy="210.5" r="2"/>
<circle cx="237.7" cy="204.2" r="2"/>
<circle cx="239.4" cy="217.7" r="2"/>
<circle cx="250" cy="221.4" r="2"/>
<circle cx="236.3" cy="193.1" r="2"/>
<circle cx="245.1" cy="231.3" r="2"/>
<circle cx="228.8" cy="245.7" r="2"/>
<circle cx="239" cy="204.2" r="2"/>
<circle cx="243.4" cy="222.3" r="2"/>
<circle cx="260" cy="242.8" r="2"/>
<circle cx="257.1" cy="197" r="2"/>
<circle cx="246.8" cy="204.5" r="2"/>
<circle cx="234" cy="215.2" r="2"/>
<circle cx="242.5" cy="205.8" r="2"/>
<circle cx="232.1" cy="216.3" r="2"/>
<circle cx="236.8" cy="193.1" r="2"/>
<circle cx="234.8" cy="208.9" r="2"/>
<circle cx="237.1" cy="211" r="2"/>
<circle cx="246.1" cy="208.3" r="2"/>
<circle cx="234.8" cy="209.6" r="2"/>
<circle cx="238.8" cy="200.6" r="2"/>
<circle cx="220.9" cy="205" r="2"/>
<circle cx="248.3" cy="206" r="2"/>
<circle cx="256.5" cy="196.8" r="2"/>
<circle cx="241.5" cy="209.6" r="2"/>
<circle cx="232.7" cy="215.9" r="2"/>
<circle cx="238.1" cy="207.3" r="2"/>
<circle cx="238.6" cy="213.2" r="2"/>
<circle cx="241.7" cy="219.8" r="2"/>
<circle cx="238.8" cy="228" r="2"/>
<circle cx="238.7" cy="199.6" r="2"/>
<circle cx="238.6" cy="211.3" r="2"/>
<circle cx="223.3" cy="240.3" r="2"/>
</g>
<g fill-opacity=".92" stroke-opacity=".92">
<circle cx="234.7" cy="212.8" r="2"/>
<circle cx="240.5" cy="203" r="2"/>
<circle cx="266" cy="233.5" r="2"/>
<circle cx="238.6" cy="213.4" r="2"/>
<circle cx="241.4" cy="222.2" r="2"/>
<circle cx="234.7" cy="214.6" r="2"/>
<circle cx="248" cy="206.8" r="2"/>
<circle cx="238.4" cy="203.8" r="2"/>
<circle cx="225.6" cy="199.6" r="2"/>
<circle cx="234.5" cy="221.3" r="2"/>
<circle cx="237.2" cy="203.1" r="2"/>
<circle cx="243.3" cy="202.6" r="2"/>
<circle cx="235.3" cy="226.4" r="2"/>
<circle cx="241.3" cy="218.1" r="2"/>
<circle cx="242.9" cy="213.6" r="2"/>
<circle cx="223.5" cy="240" r="2"/>
<circle cx="244.9" cy="201.1" r="2"/>
<circle cx="238.1" cy="221.3" r="2"/>
<circle cx="244.5" cy="211.3" r="2"/>
<circle cx="237.4" cy="200.9" r="2"/>
<circle cx="245.2" cy="204.9" r="2"/>
<circle cx="246.2" cy="205.5" r="2"/>
<circle cx="239.9" cy="210.4" r="2"/>
<circle cx="243.2" cy="206.9" r="2"/>
<circle cx="237.6" cy="208.6" r="2"/>
<circle cx="244.3" cy="207.7" r="2"/>
<circle cx="239" cy="218.2" r="2"/>
<circle cx="238.7" cy="206.6" r="2"/>
<circle cx="236.4" cy="204.3" r="2"/>
<circle cx="237.5" cy="206.1" r="2"/>
<circle cx="245.1" cy="208.1" r="2"/>
<circle cx="267" cy="212.6" r="2"/>
<circle cx="234.5" cy="219.2" r="2"/>
<circle cx="244.6" cy="203.4" r="2"/>
<circle cx="237" cy="216.2" r="2"/>
<circle cx="242.4" cy="209.4" r="2"/>
<circle cx="217.4" cy="225.8" r="2"/>
<circle cx="244.3" cy="204.3" r="2"/>
<circle cx="238.3" cy="203.1" r="2"/>
<circle cx="238.3" cy="204.9" r="2"/>
<circle cx="243" cy="209.6" r="2"/>
<circle cx="235.8" cy="247.9" r="2"/>
<circle cx="267.2" cy="228.4" r="2"/>
<circle cx="244.5" cy="202.3" r="2"/>
<circle cx="219.1" cy="231.8" r="2"/>
<circle cx="241.4" cy="203.6" r="2"/>
<circle cx="242.6" cy="220" r="2"/>
<circle cx="241.3" cy="203.7" r="2"/>
<circle cx="239.8" cy="205.2" r="2"/>
<circle cx="238.4" cy="201" r="2"/>
<circle cx="238.4" cy="209.6" r="2"/>
<circle cx="241.4" cy="205" r="2"/>
<circle cx="260.1" cy="200.9" r="2"/>
<circle cx="242.5" cy="223.1" r="2"/>
<circle cx="237.8" cy="209.2" r="2"/>
<circle cx="239.5" cy="210.8" r="2"/>
<circle cx="238.2" cy="201.5" r="2"/>
<circle cx="244.5" cy="202.1" r="2"/>
<circle cx="219.5" cy="232" r="2"/>
<circle cx="238.1" cy="201.1" r="2"/>
<circle cx="235.3" cy="219.6" r="2"/>
<circle cx="237.1" cy="202.9" r="2"/>
<circle cx="225.1" cy="240.6" r="2"/>
<circle cx="249" cy="247.5" r="2"/>
<circle cx="239.2" cy="219.8" r="2"/>
<circle cx="241" cy="212.7" r="2"/>
<circle cx="244.1" cy="206.7" r="2"/>
<circle cx="244.7" cy="211.2" r="2"/>
<circle cx="251.4" cy="246.5" r="2"/>
<circle cx="242.4" cy="209.6" r="2"/>
<circle cx="241.2" cy="216.4" r="2"/>
<circle cx="242.4" cy="193.7" r="2"/>
<circle cx="236.1" cy="221.3" r="2"/>
<circle cx="237.7" cy="221.7" r="2"/>
<circle cx="241.8" cy="193.8" r="2"/>
<circle cx="237" cy="207.3" r="2"/>
<circle cx="237.4" cy="210.9" r="2"/>
<circle cx="245.9" cy="207.4" r="2"/>
<circle cx="241.4" cy="202" r="2"/>
<circle cx="240.7" cy="194.1" r="2"/>
<circle cx="245.1" cy="203.1" r="2"/>
<circle cx="239.8" cy="208.2" r="2"/>
<circle cx="226.3" cy="200.9" r="2"/>
<circle cx="245.2" cy="210.6" r="2"/>
<circle cx="243.6" cy="213.8" r="2"/>
<circle cx="242" cy="202.1" r="2"/>
<circle cx="242.1" cy="207.6" r="2"/>
<circle cx="242.4" cy="194.2" r="2"/>
<circle cx="243.5" cy="194.2" r="2"/>
<circle cx="240.1" cy="194.4" r="2"/>
<circle cx="243.4" cy="213.8" r="2"/>
<circle cx="241.3" cy="194.3" r="2"/>
<circle cx="230.4" cy="243.9" r="2"/>
</g>
<g fill-opacity=".94" stroke-opacity=".94">
<circle cx="239.9" cy="208.1" r="2"/>
<circle cx="240.7" cy="211.8" r="2"/>
<circle cx="238.1" cy="208.5" r="2"/>
<circle cx="241" cy="205.3" r="2"/>
<circle cx="244" cy="205.3" r="2"/>
<circle cx="248.6" cy="195.4" r="2"/>
<circle cx="242.4" cy="194.6" r="2"/>
<circle cx="242.2" cy="194.6" r="2"/>
<circle cx="239.4" cy="206.6" r="2"/>
<circle cx="241.9" cy="202.8" r="2"/>
<circle cx="249" cy="195.7" r="2"/>
<circle cx="242.5" cy="210.7" r="2"/>
<circle cx="242.4" cy="194.8" r="2"/>
<circle cx="242.5" cy="207.2" r="2"/>
<circle cx="239.3" cy="195" r="2"/>
<circle cx="242.9" cy="194.8" r="2"/>
<circle cx="247.9" cy="195.5" r="2"/>
<circle cx="242.3" cy="194.8" r="2"/>
<circle cx="241.7" cy="194.9" r="2"/>
<circle cx="242.5" cy="194.9" r="2"/>
<circle cx="238.8" cy="195.2" r="2"/>
<circle cx="252.1" cy="244.6" r="2"/>
<circle cx="243.4" cy="195.1" r="2"/>
<circle cx="242.4" cy="195.1" r="2"/>
<circle cx="238.7" cy="195.6" r="2"/>
<circle cx="233.5" cy="197.4" r="2"/>
<circle cx="242.4" cy="195.3" r="2"/>
<circle cx="245.2" cy="195.5" r="2"/>
<circle cx="262.4" cy="234.3" r="2"/>
<circle cx="221" cy="211.6" r="2"/>
<circle cx="232.2" cy="243.5" r="2"/>
<circle cx="224.3" cy="236.5" r="2"/>
<circle cx="241.5" cy="195.8" r="2"/>
<circle cx="258.9" cy="203.3" r="2"/>
<circle cx="236.6" cy="197" r="2"/>
<circle cx="235" cy="197.9" r="2"/>
<circle cx="264.1" cy="226.4" r="2"/>
<circle cx="244.3" cy="196.7" r="2"/>
<circle cx="220.6" cy="221.6" r="2"/>
<circle cx="264.4" cy="219.4" r="2"/>
</g>
<g fill-opacity=".96" stroke-opacity=".96">
<circle cx="232.8" cy="199.7" r="2"/>
<circle cx="226.8" cy="236.5" r="2"/>
<circle cx="260.3" cy="233.3" r="2"/>
<circle cx="239.5" cy="197.9" r="2"/>
<circle cx="230.8" cy="201.6" r="2"/>
<circle cx="223.7" cy="230.4" r="2"/>
<circle cx="261.4" cy="211.2" r="2"/>
<circle cx="242.8" cy="198.1" r="2"/>
<circle cx="245.3" cy="198.3" r="2"/>
<circle cx="245.9" cy="242.8" r="2"/>
<circle cx="239.4" cy="198.8" r="2"/>
<circle cx="249.8" cy="200.3" r="2"/>
<circle cx="223.3" cy="215.3" r="2"/>
<circle cx="251.8" cy="201.4" r="2"/>
<circle cx="242.7" cy="199.2" r="2"/>
<circle cx="256.3" cy="205.6" r="2"/>
<circle cx="252.9" cy="202.7" r="2"/>
<circle cx="243.3" cy="199.6" r="2"/>
<circle cx="261" cy="226.4" r="2"/>
<circle cx="255.2" cy="205.9" r="2"/>
<circle cx="240.4" cy="201.2" r="2"/>
<circle cx="251.1" cy="237.4" r="2"/>
</g>
<g fill-opacity=".98" stroke-opacity=".98">
<circle cx="254.5" cy="207.1" r="2"/>
<circle cx="241.7" cy="201.9" r="2"/>
<circle cx="247.7" cy="238.3" r="2"/>
<circle cx="251.3" cy="204.7" r="2"/>
<circle cx="226.6" cy="215.3" r="2"/>
<circle cx="246.9" cy="237" r="2"/>
<circle cx="256.8" cy="213.7" r="2"/>
<circle cx="238" cy="204.4" r="2"/>
<circle cx="256.1" cy="228.6" r="2"/>
<circle cx="254" cy="231.6" r="2"/>
<circle cx="240.3" cy="237" r="2"/>
<circle cx="238.7" cy="204.5" r="2"/>
<circle cx="251.9" cy="209.6" r="2"/>
<circle cx="231.2" cy="212.7" r="2"/>
<circle cx="230.5" cy="219.4" r="2"/>
<circle cx="240.9" cy="232.2" r="2"/>
</g>
<g fill-opacity="1" stroke-opacity="1">
<circle cx="239.2" cy="211.3" r="2"/>
<circle cx="243.5" cy="210.7" r="2"/>
<circle cx="233.8" cy="221.4" r="2"/>
<circle cx="243.1" cy="211.4" r="2"/>
<circle cx="250.2" cy="220.8" r="2"/>
<circle cx="238" cy="215" r="2"/>
<circle cx="247.6" cy="219" r="2"/>
<circle cx="241.5" cy="225.6" r="2"/>
<circle cx="246.8" cy="218" r="2"/>
<circle cx="244.4" cy="218.5" r="2"/>
<circle cx="243.7" cy="219.2" r="2"/>
</g>
</g>
<g id="Path3DCollection_2"><path d="M241.9 405.1h.01M238.9 404.9h.01M244.8 400.1h.01M244.4 399.2h.01M245.6 403.2h.01M237.1 402.6h.01M237.9 399.2h.01M237.2 404.2h.01M237.5 398.9h.01M237.9 406.3h.01M236.4 403.7h.01M244.2 396.2h.01M242.1 409.1h.01M237.9 395.9h.01M247.7 405.4h.01M238.4 409h.01M245.8 395.5h.01M235.1 406.5h.01M238 410.1h.01M244.1 410.6h.01M237.7 410.3h.01M248.5 408h.01M249.9 399h.01M246.2 393.3h.01M234.2 408.5h.01M232 404.8h.01M251.4 408h.01M230.4 404.5h.01M253 404.2h.01M231.6 395.4h.01M252.7 405.8h.01M236.1 413.8h.01M241.9 415.3h.01M237.4 389.6h.01M253.6 404.2h.01M250.6 411.6h.01M228.9 405.5h.01M245.8 388.5h.01M230.9 411h.01M248.4 414.7h.01M229.8 394.4h.01M241.9 387h.01M250.7 413.7h.01M242.4 386.9h.01M237.6 417.1h.01M248.8 415.5h.01M246.5 416.8h.01M241.6 386.5h.01M227.5 397.6h.01M232.2 414.5h.01M237.4 417.7h.01M237.8 417.8h.01M235 387.7h.01M234.3 416.6h.01M253.6 392.4h.01M233.8 387.9h.01M252.1 414.4h.01M233.9 417.1h.01M250.1 416.4h.01M253 390.8h.01M226.4 407h.01M237.7 385.4h.01M225.6 402.1h.01M229.5 413.7h.01M257.5 403.7h.01M255 412h.01M228.9 413.4h.01M239.1 419.8h.01M238.4 419.8h.01M257.9 401.9h.01M235.6 419.1h.01M224.9 402.2h.01M227.5 412.2h.01M224.8 403.9h.01M248.9 385.8h.01M224.6 402.5h.01M225.9 395.1h.01M240.6 420.8h.01M238.9 420.6h.01M249.2 419.2h.01M224.1 402.9h.01M258.9 401.9h.01M259 402.4h.01M258 408.7h.01M227.6 390.4h.01M233.7 419.7h.01M254.7 389.4h.01M258.9 397.7h.01M223.9 399h.01M237.2 421.4h.01M233.2 419.8h.01M241.3 422h.01M258.3 394.8h.01M225.5 392.8h.01M231.5 419.1h.01M225.7 412.5h.01M256 414.6h.01M228.3 416.4h.01M238.5 422.3h.01M246 421.9h.01M257.8 392.7h.01M224.7 411.2h.01M229.2 387h.01M247.3 382.7h.01M230.8 385.3h.01M248.8 421.5h.01M222.6 400.5h.01M259.1 410.7h.01M250.4 421.1h.01M258 413.3h.01M245.6 423h.01M253.6 418.8h.01M233.4 383.1h.01M236.9 423.1h.01M250.9 421.2h.01M259.5 411h.01M233.1 421.9h.01M234.1 382.4h.01M252.6 384.5h.01M233.2 422.1h.01M242.5 424.1h.01M221.7 404.7h.01M232.5 422.1h.01M235.4 423.4h.01M252.8 420.6h.01M247.3 381.3h.01M241 424.5h.01M232.1 422.1h.01M256.6 387.3h.01M233.9 423.2h.01M239.3 424.7h.01M231.2 382.9h.01M242.5 425h.01M233.7 423.3h.01M241.5 425.1h.01M230.2 383.4h.01M254 420.6h.01M250.9 422.7h.01M240.8 425.3h.01M222.9 413.3h.01M231.9 423h.01M221.2 395.7h.01M240.3 425.7h.01M262.8 403h.01M231 422.7h.01M259.7 390.3h.01M245.1 379.5h.01M233.4 380.8h.01M237.9 425.6h.01M227.2 384.8h.01M260.8 412.9h.01M241.5 426.1h.01M220.8 395.7h.01M248.1 425h.01M243.4 378.9h.01M240.6 426.2h.01M233.3 424.5h.01M261.3 412.4h.01M261.7 411.5h.01M232.9 424.4h.01M237.3 426.1h.01M260.8 391.1h.01M244.9 426.2h.01M263.2 398.4h.01M233 380.3h.01M242.9 426.6h.01M254 422.5h.01M222.7 389.8h.01M254.5 382.9h.01M242.3 426.7h.01M241.3 426.7h.01M240.1 426.7h.01M241.7 426.8h.01M244.3 426.6h.01M241.7 426.9h.01M241.4 426.9h.01M239.4 426.8h.01M257.3 385.2h.01M242.2 427h.01M252.4 423.9h.01M239.8 426.9h.01M241.1 427h.01M236.9 426.5h.01M238.7 426.8h.01M241.8 427.1h.01M259.9 388.4h.01M241.1 427.1h.01M235.5 426.2h.01M227.7 422h.01M238.6 427h.01M260.8 415.4h.01M241 427.3h.01M262.1 392.3h.01M218.8 402.9h.01M241.3 427.4h.01M252.8 424.1h.01M242.9 427.4h.01M249.1 426h.01M240.7 427.5h.01M241 427.5h.01M258.1 385.3h.01M230 424.3h.01M254.8 423h.01M242.5 427.7h.01M244.7 427.5h.01M237.1 427.4h.01M221.7 415.6h.01M223.5 386.5h.01M220.9 414.2h.01M235.4 427h.01M218.5 398.8h.01M240.9 427.9h.01M244.5 427.8h.01M252.5 425h.01M264.4 407h.01M233.7 378.6h.01M239.8 428h.01M251.9 379.8h.01M223.4 418.8h.01M225.7 421.7h.01M241.5 428.4h.01M239.9 428.3h.01M245.2 428h.01M221.5 388.8h.01M238.5 428.2h.01M245.4 377.1h.01M264.5 396.7h.01M248.3 427.4h.01M232.7 426.7h.01M238.9 428.5h.01M238 428.5h.01M237.1 428.4h.01M264.2 411h.01M238.3 376.6h.01M256.4 423.2h.01M218.1 409h.01M242.1 429h.01M265.6 400.7h.01M233.5 377.8h.01M265.5 405.5h.01M233 427.4h.01M258.1 383.4h.01M217.8 397.1h.01M229.8 379.5h.01M265.1 408.7h.01M260.9 418.5h.01M235.9 428.5h.01M247.5 376.9h.01M241 376h.01M241.9 429.3h.01M226.4 381.8h.01M220.9 416.9h.01M217.1 403.1h.01M217.6 397h.01M232.6 377.8h.01M257.6 382.5h.01M263.6 414h.01M244 429.3h.01M248.9 428.2h.01M222.1 386.2h.01M251.1 427.4h.01M250 427.9h.01M265.5 396.9h.01M235.8 376.5h.01M245.8 429.2h.01M217.6 409.2h.01M237.9 429.4h.01M231.3 427.3h.01M250.8 427.7h.01M227.3 424.9h.01M235.5 429.1h.01M242.5 429.9h.01M227.6 425.3h.01M236.7 429.4h.01M238.1 429.7h.01M230 378.6h.01M244 429.8h.01M251.8 427.6h.01M264.9 393.3h.01M259.1 383.4h.01M221.7 385.9h.01M240.3 430.1h.01M254 379h.01M247.7 429.3h.01M266.2 397.6h.01M224.8 382.2h.01M230.7 427.6h.01M264.6 391.7h.01M231.5 428h.01M247.8 429.4h.01M216.2 402.6h.01M246.9 429.7h.01M243.8 430.3h.01M236.5 375.7h.01M232.4 376.9h.01M248.5 429.4h.01M250.2 376.7h.01M263.2 417.1h.01M232.8 376.7h.01M240.3 375.1h.01M224.4 423.4h.01M260.8 384.7h.01M252.4 428h.01M216.7 409.3h.01M218.7 415.4h.01M266.1 410.2h.01M228.5 426.8h.01M261.6 420h.01M257.9 381.4h.01M224.3 382.2h.01M241.4 430.8h.01M240.3 430.7h.01M230.1 427.8h.01M231.9 376.9h.01M252.9 427.9h.01M238.6 430.7h.01M266.4 409.6h.01M221.6 420.6h.01M229.8 427.9h.01M232.3 376.6h.01M234.3 375.9h.01M250.8 376.6h.01M235.3 375.6h.01M216.9 394.7h.01M267.2 400.7h.01M218.8 416.1h.01M219.6 388h.01M252.6 428.3h.01M223.6 382.6h.01M220.9 419.8h.01M259.2 382.5h.01M216.5 409.6h.01M261.5 385.1h.01M225.6 380.7h.01M221.4 385.2h.01M262.1 419.9h.01M267.2 400.6h.01M219.7 418h.01M239.6 431h.01M220.2 418.9h.01M266.1 394.3h.01M222.4 421.9h.01M266.5 410.1h.01M262.5 386.4h.01M239.2 431.1h.01M218.4 415.7h.01M261.9 385.5h.01M250.3 429.5h.01M251.3 429.1h.01M247.6 375.5h.01M263.6 417.6h.01M256 379.5h.01M241.9 431.2h.01M267.2 400h.01M246.9 430.6h.01M264.3 416.4h.01M267.4 402.2h.01M262.4 386.4h.01M231.1 377.1h.01M238 431h.01M255.3 426.9h.01M249.4 429.9h.01M241 431.3h.01M224.2 424h.01M255.6 426.7h.01M219.9 418.5h.01M230.8 377.3h.01M263 418.6h.01M215.7 401.3h.01M236.7 430.7h.01M264.2 389.7h.01M264.2 416.4h.01M216.9 394.6h.01M267 398.8h.01M221.7 421.1h.01M267.1 399.9h.01M266.7 408.9h.01M217 412h.01M233 429.6h.01M260 383.5h.01M225.7 380.8h.01M228.9 378.5h.01M261.1 384.9h.01M266.3 410.6h.01M218.6 415.9h.01M267 406.4h.01M263.8 389.1h.01M252.3 428.5h.01M223.3 383.4h.01M256.6 380.5h.01M265.7 412.1h.01M247.8 430.2h.01M229.7 378.3h.01M220.7 419.5h.01M245.2 430.7h.01M231.1 377.7h.01M256.1 380.3h.01M251.7 377.6h.01M219.9 417.9h.01M252.4 378h.01M266.8 401h.01M247.7 430h.01M257.5 381.7h.01M218.2 392.4h.01M226.6 380.9h.01M220.3 388.3h.01M253.4 378.9h.01M262.9 417.6h.01M265.4 394.7h.01M233.3 429.1h.01M263.1 389.3h.01M260.2 385.2h.01M232.4 428.6h.01M260.5 420.8h.01M258.2 423.4h.01M219.7 390.1h.01M218.3 412.8h.01M222 386.5h.01M261.2 387h.01M259.3 384.7h.01M240.5 430.1h.01M236.9 429.6h.01M241.9 430h.01M251.7 427.5h.01M227 424.6h.01M221.2 417.9h.01M256.2 424.4h.01M265 397.5h.01M227.8 381.6h.01M246.8 429h.01M250.2 427.8h.01M255.4 424.5h.01M217.8 399.9h.01M265.3 402.6h.01M225.9 423h.01M227.9 382h.01M222 388.4h.01M264.6 397.6h.01M254.5 425h.01M219.9 392.7h.01M248.1 428.1h.01M257.8 384.7h.01M219.3 411.5h.01M226.2 384.4h.01M255 383.1h.01M227.2 383.7h.01M264.4 403.1h.01M221.1 392h.01M261.2 390.7h.01M224.8 386.4h.01M263.4 396.6h.01M262.7 412.3h.01M221 414.1h.01M221.9 391h.01M223.5 388.4h.01M221 413.7h.01M222.2 390.5h.01M260.1 390.2h.01M227.9 422.6h.01M226.3 385.8h.01M221.4 393.6h.01M220.5 396.1h.01M225.3 387.4h.01M263.1 400.6h.01M237.3 426.7h.01M263.1 403.9h.01M220.8 397.4h.01M239.1 426.7h.01M221 396.8h.01M260.6 393.1h.01M220.6 400.3h.01M244.6 425.9h.01M226.6 419h.01M241.4 425.8h.01M261.9 404.9h.01M227.8 387h.01M226.4 388.5h.01M229.8 421.7h.01M252.3 422.2h.01M237.2 425.1h.01M228.1 386.9h.01M226.6 388.6h.01M240.3 425.4h.01M253.2 386.4h.01M248.9 423h.01M256.9 416.1h.01M260.3 405.5h.01M259.8 399h.01M243 423.9h.01M256.4 391.5h.01M258.5 411.2h.01M254.7 417.5h.01M241 423.6h.01M243.8 423.1h.01M246.3 422.2h.01M227.4 392.2h.01M224.1 404h.01M225.9 411.9h.01M254.8 415.6h.01M232.7 387.5h.01M225 399.2h.01M233.6 420h.01M225 399.3h.01M229.3 416.4h.01M248.9 420.1h.01M232.9 388.1h.01M250.5 388.5h.01M232.4 388.8h.01M226.7 396h.01M240.7 421.1h.01M234.3 388.5h.01M228.6 394.2h.01M256.1 409.1h.01M255.5 397.5h.01M227.5 397.5h.01M239 419.8h.01M254.5 395.5h.01M255.9 399.7h.01M253.1 393.7h.01M228.2 396.9h.01M227.5 400.4h.01M249.9 391.2h.01M251.1 392.3h.01M251.3 414.2h.01M244.6 389.4h.01M242.9 418.1h.01M242.4 389.3h.01M254.6 404.2h.01M234 414.7h.01M242.5 417.2h.01M250.2 394.3h.01M241.7 390.4h.01M248.9 413.9h.01M245.7 391.7h.01M249.7 394.4h.01M232.3 395.7h.01M242.9 391.2h.01M238 415.5h.01M252.7 404.5h.01M248.2 413.2h.01M245.5 414.6h.01M238.4 414.8h.01M247 413.5h.01M233.2 410.1h.01M233.5 410.5h.01M235.2 395.4h.01M237.9 394.3h.01M242.5 394h.01M236.3 396h.01M234.4 408.1h.01M239.1 396.3h.01M246.4 399h.01M236.3 399.5h.01M241.3 397.5h.01M244.5 399.8h.01M243.2 408.5h.01M243.6 399.4h.01M239.4 400.1h.01M238.8 405.9h.01M239.7 406h.01M241.4 223.5h.01M244.2 221.2h.01M242.9 224.8h.01M241.5 224.7h.01M240 223.3h.01M239.8 223.7h.01M247.7 221.4h.01M247.4 218.5h.01M237.5 218.8h.01M247.8 227.3h.01M249.6 223.2h.01M240.1 229.5h.01M235.5 221.6h.01M250.1 223.2h.01M246.6 214.7h.01M244.1 231.1h.01M236.7 214.6h.01M237.7 230.9h.01M242.8 232.6h.01M232.4 219.7h.01M240.3 211h.01M253 219.2h.01M231.2 224.2h.01M232.4 216.1h.01M230.8 221.5h.01M233.8 213.5h.01M240.2 234.9h.01M254.6 219.7h.01M254 216.8h.01M233.9 212.4h.01M249.7 211h.01M243.9 235.9h.01M231.9 213.9h.01M231.3 229.8h.01M256 222h.01M251.3 233.4h.01M229.3 224.6h.01M232.5 212.3h.01M236.3 208.8h.01M250.6 209.9h.01M235.8 208.5h.01M254.5 213.1h.01M233.7 209.5h.01M228.6 217.4h.01M250.9 209.1h.01M237.9 206.9h.01M231.6 233h.01M229.9 213.8h.01M229.5 230.5h.01M257.9 225.3h.01M254.7 232.9h.01M257.1 215.9h.01M249.9 237.3h.01M257.3 228.7h.01M258.1 218.4h.01M231.6 234.8h.01M244.8 204.8h.01M251.6 236.6h.01M227.4 216.4h.01M231.2 209.6h.01M226.3 219.5h.01M226.8 216.8h.01M233.7 237.7h.01M241.7 203.2h.01M255.2 235.3h.01M228.4 210.9h.01M229.8 235.1h.01M260.2 221.7h.01M235.9 204.3h.01M260.3 224.2h.01M251.9 238.8h.01M250.6 204h.01M260.1 215.6h.01M253.8 238.5h.01M225.8 212.6h.01M260.3 229.8h.01M261 216.6h.01M252.3 203.9h.01M260.9 215.6h.01M231.2 204.9h.01M262 218.8h.01M250.7 202.4h.01M223.3 227.2h.01M251.1 202.2h.01M223.9 213.7h.01M224.2 212h.01M232.3 202.4h.01M263.4 223.2h.01M262.4 229.3h.01M232.6 201.9h.01M221.6 221.9h.01M224.3 210.6h.01M246.5 199.4h.01M233.3 201.1h.01M246.3 199.1h.01M222.8 230.9h.01M263.9 219.5h.01M260.9 209.5h.01M258 205.3h.01M252.9 200.9h.01M228.2 239.9h.01M225.4 237.4h.01M229.4 241.6h.01M221.3 229.4h.01M263.9 229.4h.01M263.9 230h.01M243.5 197.3h.01M264.3 228.6h.01M228.7 202.3h.01M265 217.6h.01M227.7 203h.01M261.5 235.9h.01M265.6 222.4h.01M265.3 225.9h.01M227.5 202.9h.01M222.1 234h.01M261.5 236.8h.01M252 198.4h.01M266.1 220.7h.01M262 207.1h.01M224.5 238.6h.01M219.2 225.8h.01M254.6 199.5h.01M266.4 220.6h.01M219.2 226.7h.01M263.7 209.6h.01M219.3 227.8h.01M245.9 195.8h.01M250.1 196.6h.01M226.1 241.3h.01M261.7 238.2h.01M260.1 203.4h.01M226.9 201.5h.01M266.9 223.8h.01M227.1 201.2h.01M258.8 241.7h.01M265.8 230.2h.01M226.1 202h.01M261.4 239h.01M266.2 214.4h.01M235.7 196h.01M262.6 237.5h.01M265.6 231.4h.01M217.9 223h.01M258 243h.01M259.6 241.5h.01M223 205.1h.01M227.5 243.3h.01M256.6 244.3h.01M244.5 194.5h.01M249.3 195.1h.01M237.6 194.6h.01M221.6 237.2h.01M266 211.1h.01M268 221.7h.01M219.7 233.7h.01M227.9 244.4h.01M229.3 245.4h.01M267.6 216.1h.01M219.1 232.6h.01M249.4 194.7h.01M239.4 193.9h.01M267.7 227.3h.01M266.8 212.4h.01M255.3 197.3h.01M268.2 223.5h.01M257.4 198.6h.01M226.9 244h.01M267.4 229.2h.01M233.7 195.2h.01M227 244.3h.01M256.5 197.6h.01M227.6 198.3h.01M256.5 245.8h.01M265.4 235.5h.01M261.1 201.4h.01M268.2 227.2h.01M256.3 245.9h.01M254.4 196.1h.01M217.1 215h.01M223.9 241.8h.01M260.4 200.4h.01M235 194h.01M267.1 211h.01M255.3 246.8h.01M264.1 238.3h.01M217.4 212.8h.01M268.7 217h.01M230.3 247.1h.01M252.4 248.4h.01M236.4 193.4h.01M224.1 200.6h.01M268.7 227.1h.01M231.1 247.8h.01M226.6 244.8h.01M226.9 245h.01M219.2 207.5h.01M260.3 199.6h.01M267.8 212h.01M216.3 216.4h.01M256.2 246.6h.01M241.2 192.3h.01M268.1 212.6h.01M216.6 228.7h.01M254.7 247.5h.01M219.3 207h.01M257.9 197.5h.01M243.9 192.2h.01M264.9 205.3h.01M267.4 210.3h.01M217.7 210.4h.01M218.1 233.3h.01M225.1 243.7h.01M240 192.2h.01M219.5 236.3h.01M265.2 237.3h.01M261.3 200.4h.01M217.4 211.2h.01M257.1 196.7h.01M216.5 228.5h.01M222.6 201.8h.01M222.8 201.6h.01M254.7 195.2h.01M254.6 247.6h.01M223.9 242.5h.01M232 248.4h.01M243.9 192.1h.01M256.3 246.6h.01M221.4 239.5h.01M218.7 207.9h.01M236.2 249.9h.01M230.2 247.4h.01M217.5 210.9h.01M239.9 250.6h.01M253.3 248.3h.01M242.9 250.7h.01M229.9 247.2h.01M245.8 250.5h.01M252.7 194.1h.01M261.9 200.9h.01M229.9 247.2h.01M232.6 194.1h.01M250.7 193.4h.01M244.7 192.1h.01M259.9 243.8h.01M266.7 208.5h.01M227.2 197.3h.01M251.1 249.1h.01M222.9 201.4h.01M237.2 250.1h.01M234.6 249.3h.01M224.8 243.2h.01M265.5 236.6h.01M241.3 250.6h.01M243.4 192h.01M263.8 239.2h.01M261.7 241.9h.01M268.9 215.4h.01M264.3 204.2h.01M235.7 193h.01M250.5 193.3h.01M215.9 223.4h.01M247.5 250h.01M229.2 196h.01M261 242.5h.01M217.6 210.8h.01M217.3 230.6h.01M254.1 194.9h.01M253.3 194.6h.01M246.4 250.1h.01M267.6 231.2h.01M250.1 193.3h.01M229.3 196.1h.01M220.8 204.6h.01M241.3 192.2h.01M261.2 200.5h.01M262.5 240.5h.01M256.6 245.9h.01M220.8 204.7h.01M265.4 236.1h.01M244 192.3h.01M247.4 249.8h.01M262.9 202.5h.01M236.8 192.9h.01M249.2 249.3h.01M240.8 250.1h.01M219.4 207.2h.01M220.7 237.5h.01M246.8 249.8h.01M266.5 208.7h.01M247.5 192.8h.01M241.9 192.3h.01M228.6 245.7h.01M225.8 243.5h.01M244.3 192.4h.01M225.6 243.3h.01M247.7 192.9h.01M218.3 232.4h.01M247.4 192.9h.01M261 241.8h.01M237.1 193h.01M216.3 220.7h.01M230.7 195.5h.01M268 213.5h.01M253.1 194.8h.01M247.9 193h.01M261.3 201h.01M221.2 204.6h.01M224.5 242h.01M268 214h.01M226.6 198.5h.01M251.3 248.1h.01M261.8 240.6h.01M222.2 203.2h.01M231.5 195.3h.01M268.3 226h.01M268.6 218.9h.01M220.6 205.9h.01M217 226.8h.01M238.6 193h.01M246.4 193h.01M239.4 192.9h.01M268.6 221h.01M217.7 228.9h.01M268.5 221.7h.01M251.2 194.4h.01M242.6 249.4h.01M252 247.4h.01M246.9 193.2h.01M230.7 246.1h.01M217.1 217.1h.01M226.3 199.2h.01M235.4 194.1h.01M225.3 200.3h.01M257 244.4h.01M263.2 237.9h.01M245.1 193.2h.01M232.7 195.2h.01M255.9 197.1h.01M261.3 240.2h.01M243.8 249h.01M247.8 193.8h.01M217.4 225h.01M264.1 206.1h.01M252.6 195.5h.01M264 206.1h.01M237.1 248.2h.01M242.7 193.3h.01M267.8 217.9h.01M225.9 241.8h.01M225.3 200.9h.01M262.7 237.9h.01M218.3 228.4h.01M228.2 243.6h.01M243.7 193.6h.01M240.8 193.7h.01M228.1 243.4h.01M225.2 240.7h.01M263.7 206.4h.01M238.4 194.1h.01M245.7 193.9h.01M228.5 198.5h.01M240.8 248.2h.01M217.7 221.1h.01M229.6 197.8h.01M264.1 234.7h.01M267.3 223.5h.01M241.3 193.9h.01M222.3 236.5h.01M251.8 195.9h.01M245 194.1h.01M228.7 243.3h.01M241.9 194h.01M245.6 194.3h.01M240.7 194.2h.01M241.4 194.1h.01M220.6 233h.01M236.2 246.8h.01M223.2 204.7h.01M241.4 247.5h.01M239.1 194.7h.01M237.1 195.2h.01M232.7 245h.01M227.3 200.5h.01M227.7 200.2h.01M243 194.6h.01M236.2 195.6h.01M232.8 245h.01M254.4 198h.01M245 194.8h.01M220.8 232h.01M225.3 202.8h.01M251 196.4h.01M232.7 197.2h.01M240.1 195h.01M241.1 195h.01M251.3 245h.01M260.3 238.2h.01M243.5 195h.01M253.4 197.9h.01M264.8 230h.01M229.7 199.2h.01M243.4 195.1h.01M244.7 195.2h.01M260.8 204.6h.01M249.2 196.3h.01M242.4 195.2h.01M264.3 230.7h.01M249.3 196.4h.01M242.1 195.3h.01M254.3 198.7h.01M242.5 195.3h.01M242.6 195.3h.01M244 195.4h.01M231 198.8h.01M242.3 195.4h.01M242.1 195.4h.01M265.3 215.6h.01M254.6 199.2h.01M260.4 237h.01M259.2 238.5h.01M229.4 200.1h.01M245.8 195.9h.01M231.3 199h.01M241.3 195.8h.01M242.9 195.8h.01M245 195.9h.01M228.9 200.8h.01M262.7 232.8h.01M241.6 195.9h.01M244.4 196h.01M257.5 202.2h.01M246.8 196.7h.01M228.2 239.7h.01M221.8 230.1h.01M231.2 241.9h.01M241.6 196.4h.01M245.5 196.7h.01M243 196.5h.01M227.6 238.8h.01M230.4 200.4h.01M241.4 196.5h.01M242.6 196.6h.01M241.2 196.6h.01M245.9 196.8h.01M233.9 198.7h.01M244 196.8h.01M225.3 205.9h.01M222.4 211.2h.01M223.6 208.8h.01M246.3 244.4h.01M232 199.8h.01M237.8 197.6h.01M257 203h.01M245.4 197.3h.01M243.7 197.1h.01M239.9 197.4h.01M237.5 243.7h.01M251 199.1h.01M245.7 197.6h.01M243.2 197.5h.01M245.3 197.7h.01M244.3 197.6h.01M225.1 207.7h.01M248.9 198.7h.01M239.4 198h.01M246 198.1h.01M257 204.2h.01M229.1 203.4h.01M249.4 199.3h.01M221.9 219.8h.01M255.6 203.2h.01M250.8 200h.01M238.6 198.7h.01M248.5 242.2h.01M243.7 198.4h.01M224.8 209.6h.01M263 218.6h.01M239.6 198.8h.01M233.7 200.9h.01M233.3 201.1h.01M237.3 199.6h.01M260.9 229.4h.01M224.7 211.3h.01M225.3 231.3h.01M226.5 208.6h.01M236.9 200.3h.01M257.2 206.6h.01M233.9 201.7h.01M259.4 231.1h.01M259.3 231.2h.01M248.8 201h.01M259.2 210.6h.01M224.1 216h.01M254.6 205h.01M255.8 206.4h.01M238.4 201h.01M260.1 226.4h.01M238.9 240.2h.01M259.7 214.2h.01M240.6 240.2h.01M255.6 207h.01M225.1 216.1h.01M233.8 203.6h.01M231.3 235.8h.01M227.1 210.8h.01M239.1 201.8h.01M233 236.7h.01M243.8 201.5h.01M235.2 203.3h.01M243.5 239.5h.01M243.1 201.8h.01M258.5 213.6h.01M229.7 208.4h.01M228.6 231.2h.01M257.6 229.1h.01M257.9 213.9h.01M238.9 203.1h.01M227.1 216h.01M255.9 230.1h.01M256 211.2h.01M227 220.6h.01M245.9 236.9h.01M236.8 205.1h.01M248.7 205.3h.01M231.2 209.6h.01M227.5 219.1h.01M257.7 218.7h.01M248.3 235.7h.01M244.3 204.7h.01M254.9 226.8h.01M251.6 209.5h.01M230.7 214.2h.01M253.4 212.6h.01M255.2 218.8h.01M230.7 225.4h.01M236.3 209.5h.01M248.4 209.2h.01M242.9 207.7h.01M236.7 231.6h.01M242.8 232.8h.01M253.8 220h.01M242.5 208.7h.01M245.1 231.8h.01M249.3 228.9h.01M251 226.2h.01M240.8 230.3h.01M238.3 211.7h.01M251.5 219.3h.01M250 215.4h.01M235 224h.01M248.9 215.1h.01M235 220.6h.01M248.1 215.3h.01M235.5 219.8h.01M235.8 219.7h.01M245.2 225.7h.01M243.2 226.3h.01M237.4 221.3h.01M244.8 215.9h.01" fill="none" stroke="#f00" stroke-width="2" style="stroke-linecap:square;stroke-linejoin:miter"/></g>
</g>
<g id="axes_2">
<g id="patch_6">
<path d="M 555.12 543.6 
L 999.36 543.6 
L 999.36 99.36 
L 555.12 99.36 
z
" style="fill: #ffffff"/>
</g>
<g transform="scale(.72)">
<g id="heatmap" fill-opacity=".2" shape-rendering="crispEdges">
<rect x="1062" y="672" width="3" height="4" fill="#d230cf"/>
<rect x="1065" y="672" width="4" height="4" fill="#c628d7"/>
<rect x="1069" y="672" width="3" height="4" fill="#b31ce3"/>
<rect x="1072" y="672" width="4" height="4" fill="#970af5"/>
<rect x="1076" y="672" width="3" height="4" fill="#8d04fb"/>
<rect x="1079" y="672" width="4" height="4" fill="#970af5"/>
<rect x="1083" y="672" width="4" height="4" fill="#b31ce3"/>
<rect x="1087" y="672" width="3" height="4" fill="#c628d7"/>
<rect x="1090" y="672" width="4" height="4" fill="#d230cf"/>
<rect x="1051" y="669" width="7" height="3" fill="#dc36c9"/>
<rect x="1058" y="669" width="7" height="3" fill="#e53cc3"/>
<rect x="1065" y="669" width="4" height="3" fill="#dc36c9"/>
<rect x="1069" y="669" width="3" height="3" fill="#c628d7"/>
<rect x="1072" y="669" width="7" height="3" fill="#b31ce3"/>
<rect x="1079" y="669" width="4" height="3" fill="#bc22dd"/>
<rect x="1083" y="669" width="4" height="3" fill="#c628d7"/>
<rect x="1087" y="669" width="3" height="3" fill="#dc36c9"/>
<rect x="1090" y="669" width="7" height="3" fill="#e53cc3"/>
<rect x="1097" y="669" width="4" height="3" fill="#dc36c9"/>
<rect x="1101" y="669" width="4" height="3" fill="#d230cf"/>
<rect x="1047" y="665" width="7" height="4" fill="#e53cc3"/>
<rect x="1054" y="665" width="15" height="4" fill="#ee42bd"/>
<rect x="1069" y="665" width="3" height="4" fill="#e53cc3"/>
<rect x="1072" y="665" width="11" height="4" fill="#d230cf"/>
<rect x="1083" y="665" width="4" height="4" fill="#e53cc3"/>
<rect x="1087" y="665" width="14" height="4" fill="#ee42bd"/>
<rect x="1101" y="665" width="7" height="4" fill="#e53cc3"/>
<rect x="1040" y="662" width="4" height="3" fill="#dc36c9"/>
<rect x="1044" y="662" width="3" height="3" fill="#e53cc3"/>
<rect x="1047" y="662" width="4" height="3" fill="#ee42bd"/>
<rect x="1051" y="662" width="7" height="3" fill="#f848b7"/>
<rect x="1058" y="662" width="11" height="3" fill="#ff4eb1"/>
<rect x="1069" y="662" width="3" height="3" fill="#f848b7"/>
<rect x="1072" y="662" width="11" height="3" fill="#ee42bd"/>
<rect x="1083" y="662" width="4" height="3" fill="#f848b7"/>
<rect x="1087" y="662" width="10" height="3" fill="#ff4eb1"/>
<rect x="1097" y="662" width="8" height="3" fill="#f848b7"/>
<rect x="1105" y="662" width="3" height="3" fill="#ee42bd"/>
<rect x="1108" y="662" width="4" height="3" fill="#e53cc3"/>
<rect x="1036" y="658" width="4" height="4" fill="#e53cc3"/>
<rect x="1040" y="658" width="4" height="4" fill="#ee42bd"/>
<rect x="1044" y="658" width="3" height="4" fill="#f848b7"/>
<rect x="1047" y="658" width="7" height="4" fill="#ff4eb1"/>
<rect x="1054" y="658" width="18" height="4" fill="#ff54ab"/>
<rect x="1072" y="658" width="7" height="4" fill="#ff4eb1"/>
<rect x="1079" y="658" width="22" height="4" fill="#ff54ab"/>
<rect x="1101" y="658" width="4" height="4" fill="#ff4eb1"/>
<rect x="1105" y="658" width="7" height="4" fill="#f848b7"/>
<rect x="1112" y="658" width="3" height="4" fill="#ee42bd"/>
<rect x="1115" y="658" width="4" height="4" fill="#e53cc3"/>
<rect x="1036" y="655" width="4" height="3" fill="#ee42bd"/>
<rect x="1040" y="655" width="4" height="3" fill="#f848b7"/>
<rect x="1044" y="655" width="3" height="3" fill="#ff4eb1"/>
<rect x="1047" y="655" width="7" height="3" fill="#ff54ab"/>
<rect x="1054" y="655" width="11" height="3" fill="#ff5aa5"/>
<rect x="1065" y="655" width="25" height="3" fill="#ff609f"/>
<rect x="1090" y="655" width="11" height="3" fill="#ff5aa5"/>
<rect x="1101" y="655" width="7" height="3" fill="#ff54ab"/>
<rect x="1108" y="655" width="4" height="3" fill="#ff4eb1"/>
<rect x="1112" y="655" width="3" height="3" fill="#f848b7"/>
<rect x="1115" y="655" width="4" height="3" fill="#ee42bd"/>
<rect x="1033" y="651" width="3" height="4" fill="#ee42bd"/>
<rect x="1036" y="651" width="4" height="4" fill="#f848b7"/>
<rect x="1040" y="651" width="4" height="4" fill="#ff4eb1"/>
<rect x="1044" y="651" width="3" height="4" fill="#ff54ab"/>
<rect x="1047" y="651" width="7" height="4" fill="#ff5aa5"/>
<rect x="1054" y="651" width="11" height="4" fill="#ff609f"/>
<rect x="1065" y="651" width="25" height="4" fill="#ff6699"/>
<rect x="1090" y="651" width="11" height="4" fill="#ff609f"/>
<rect x="1101" y="651" width="7" height="4" fill="#ff5aa5"/>
<rect x="1108" y="651" width="4" height="4" fill="#ff54ab"/>
<rect x="1112" y="651" width="3" height="4" fill="#ff4eb1"/>
<rect x="1115" y="651" width="4" height="4" fill="#f848b7"/>
<rect x="1119" y="651" width="3" height="4" fill="#ee42bd"/>
<rect x="1029" y="647" width="4" height="4" fill="#ee42bd"/>
<rect x="1033" y="647" width="3" height="4" fill="#f848b7"/>
<rect x="1036" y="647" width="4" height="4" fill="#ff4eb1"/>
<rect x="1040" y="647" width="4" height="4" fill="#ff54ab"/>
<rect x="1044" y="647" width="3" height="4" fill="#ff5aa5"/>
<rect x="1047" y="647" width="11" height="4" fill="#ff609f"/>
<rect x="1058" y="647" width="39" height="4" fill="#ff6699"/>
<rect x="1097" y="647" width="8" height="4" fill="#ff609f"/>
<rect x="1105" y="647" width="7" height="4" fill="#ff5aa5"/>
<rect x="1112" y="647" width="3" height="4" fill="#ff54ab"/>
<rect x="1115" y="647" width="4" height="4" fill="#ff4eb1"/>
<rect x="1119" y="647" width="3" height="4" fill="#f848b7"/>
<rect x="1122" y="647" width="4" height="4" fill="#ee42bd"/>
<rect x="1029" y="644" width="4" height="3" fill="#f848b7"/>
<rect x="1033" y="644" width="3" height="3" fill="#ff4eb1"/>
<rect x="1036" y="644" width="4" height="3" fill="#ff54ab"/>
<rect x="1040" y="644" width="4" height="3" fill="#ff5aa5"/>
<rect x="1044" y="644" width="7" height="3" fill="#ff609f"/>
<rect x="1051" y="644" width="11" height="3" fill="#ff6699"/>
<rect x="1062" y="644" width="32" height="3" fill="#ff6c93"/>
<rect x="1094" y="644" width="11" height="3" fill="#ff6699"/>
<rect x="1105" y="644" width="7" height="3" fill="#ff609f"/>
<rect x="1112" y="644" width="3" height="3" fill="#ff5aa5"/>
<rect x="1115" y="644" width="4" height="3" fill="#ff54ab"/>
<rect x="1119" y="644" width="3" height="3" fill="#ff4eb1"/>
<rect x="1122" y="644" width="4" height="3" fill="#f848b7"/>
<rect x="1026" y="640" width="3" height="4" fill="#ee42bd"/>
<rect x="1029" y="640" width="4" height="4" fill="#ff4eb1"/>
<rect x="1033" y="640" width="3" height="4" fill="#ff54ab"/>
<rect x="1036" y="640" width="4" height="4" fill="#ff5aa5"/>
<rect x="1040" y="640" width="7" height="4" fill="#ff609f"/>
<rect x="1047" y="640" width="7" height="4" fill="#ff6699"/>
<rect x="1054" y="640" width="47" height="4" fill="#ff6c93"/>
<rect x="1101" y="640" width="7" height="4" fill="#ff6699"/>
<rect x="1108" y="640" width="4" height="4" fill="#ff609f"/>
<rect x="1112" y="640" width="7" height="4" fill="#ff5aa5"/>
<rect x="1119" y="640" width="3" height="4" fill="#ff54ab"/>
<rect x="1122" y="640" width="4" height="4" fill="#ff4eb1"/>
<rect x="1126" y="640" width="4" height="4" fill="#ee42bd"/>
<rect x="1026" y="637" width="3" height="3" fill="#f848b7"/>
<rect x="1029" y="637" width="4" height="3" fill="#ff4eb1"/>
<rect x="1033" y="637" width="3" height="3" fill="#ff54ab"/>
<rect x="1036" y="637" width="4" height="3" fill="#ff5aa5"/>
<rect x="1040" y="637" width="4" height="3" fill="#ff609f"/>
<rect x="1044" y="637" width="7" height="3" fill="#ff6699"/>
<rect x="1051" y="637" width="14" height="3" fill="#ff6c93"/>
<rect x="1065" y="637" width="22" height="3" fill="#ff728d"/>
<rect x="1087" y="637" width="18" height="3" fill="#ff6c93"/>
<rect x="1105" y="637" width="7" height="3" fill="#ff6699"/>
<rect x="1112" y="637" width="3" height="3" fill="#ff609f"/>
<rect x="1115" y="637" width="4" height="3" fill="#ff5aa5"/>
<rect x="1119" y="637" width="3" height="3" fill="#ff54ab"/>
<rect x="1122" y="637" width="4" height="3" fill="#ff4eb1"/>
<rect x="1126" y="637" width="4" height="3" fill="#f848b7"/>
<rect x="1026" y="633" width="3" height="4" fill="#f848b7"/>
<rect x="1029" y="633" width="4" height="4" fill="#ff54ab"/>
<rect x="1033" y="633" width="3" height="4" fill="#ff5aa5"/>
<rect x="1036" y="633" width="8" height="4" fill="#ff609f"/>
<rect x="1044" y="633" width="3" height="4" fill="#ff6699"/>
<rect x="1047" y="633" width="15" height="4" fill="#ff6c93"/>
<rect x="1062" y="633" width="32" height="4" fill="#ff728d"/>
<rect x="1094" y="633" width="11" height="4" fill="#ff6c93"/>
<rect x="1105" y="633" width="7" height="4" fill="#ff6699"/>
<rect x="1112" y="633" width="7" height="4" fill="#ff609f"/>
<rect x="1119" y="633" width="3" height="4" fill="#ff5aa5"/>
<rect x="1122" y="633" width="4" height="4" fill="#ff54ab"/>
<rect x="1126" y="633" width="4" height="4" fill="#f848b7"/>
<rect x="1022" y="629" width="4" height="4" fill="#ee42bd"/>
<rect x="1026" y="629" width="3" height="4" fill="#ff4eb1"/>
<rect x="1029" y="629" width="4" height="4" fill="#ff54ab"/>
<rect x="1033" y="629" width="3" height="4" fill="#ff5aa5"/>
<rect x="1036" y="629" width="4" height="4" fill="#ff609f"/>
<rect x="1040" y="629" width="7" height="4" fill="#ff6699"/>
<rect x="1047" y="629" width="11" height="4" fill="#ff6c93"/>
<rect x="1058" y="629" width="39" height="4" fill="#ff728d"/>
<rect x="1097" y="629" width="11" height="4" fill="#ff6c93"/>
<rect x="1108" y="629" width="7" height="4" fill="#ff6699"/>
<rect x="1115" y="629" width="4" height="4" fill="#ff609f"/>
<rect x="1119" y="629" width="3" height="4" fill="#ff5aa5"/>
<rect x="1122" y="629" width="4" height="4" fill="#ff54ab"/>
<rect x="1126" y="629" width="4" height="4" fill="#ff4eb1"/>
<rect x="1130" y="629" width="3" height="4" fill="#ee42bd"/>
<rect x="1022" y="626" width="4" height="3" fill="#f848b7"/>
<rect x="1026" y="626" width="3" height="3" fill="#ff4eb1"/>
<rect x="1029" y="626" width="4" height="3" fill="#ff54ab"/>
<rect x="1033" y="626" width="3" height="3" fill="#ff5aa5"/>
<rect x="1036" y="626" width="4" height="3" fill="#ff609f"/>
<rect x="1040" y="626" width="7" height="3" fill="#ff6699"/>
<rect x="1047" y="626" width="11" height="3" fill="#ff6c93"/>
<rect x="1058" y="626" width="39" height="3" fill="#ff728d"/>
<rect x="1097" y="626" width="11" height="3" fill="#ff6c93"/>
<rect x="1108" y="626" width="7" height="3" fill="#ff6699"/>
<rect x="1115" y="626" width="4" height="3" fill="#ff609f"/>
<rect x="1119" y="626" width="3" height="3" fill="#ff5aa5"/>
<rect x="1122" y="626" width="4" height="3" fill="#ff54ab"/>
<rect x="1126" y="626" width="4" height="3" fill="#ff4eb1"/>
<rect x="1130" y="626" width="3" height="3" fill="#ee42bd"/>
<rect x="1022" y="622" width="4" height="4" fill="#f848b7"/>
<rect x="1026" y="622" width="3" height="4" fill="#ff4eb1"/>
<rect x="1029" y="622" width="4" height="4" fill="#ff54ab"/>
<rect x="1033" y="622" width="3" height="4" fill="#ff5aa5"/>
<rect x="1036" y="622" width="4" height="4" fill="#ff609f"/>
<rect x="1040" y="622" width="7" height="4" fill="#ff6699"/>
<rect x="1047" y="622" width="7" height="4" fill="#ff6c93"/>
<rect x="1054" y="622" width="47" height="4" fill="#ff728d"/>
<rect x="1101" y="622" width="7" height="4" fill="#ff6c93"/>
<rect x="1108" y="622" width="7" height="4" fill="#ff6699"/>
<rect x="1115" y="622" width="4" height="4" fill="#ff609f"/>
<rect x="1119" y="622" width="3" height="4" fill="#ff5aa5"/>
<rect x="1122" y="622" width="4" height="4" fill="#ff54ab"/>
<rect x="1126" y="622" width="4" height="4" fill="#ff4eb1"/>
<rect x="1130" y="622" width="3" height="4" fill="#ee42bd"/>
<rect x="1022" y="619" width="4" height="3" fill="#f848b7"/>
<rect x="1026" y="619" width="3" height="3" fill="#ff4eb1"/>
<rect x="1029" y="619" width="4" height="3" fill="#ff54ab"/>
<rect x="1033" y="619" width="3" height="3" fill="#ff5aa5"/>
<rect x="1036" y="619" width="4" height="3" fill="#ff609f"/>
<rect x="1040" y="619" width="7" height="3" fill="#ff6699"/>
<rect x="1047" y="619" width="7" height="3" fill="#ff6c93"/>
<rect x="1054" y="619" width="43" height="3" fill="#ff728d"/>
<rect x="1097" y="619" width="11" height="3" fill="#ff6c93"/>
<rect x="1108" y="619" width="7" height="3" fill="#ff6699"/>
<rect x="1115" y="619" width="4" height="3" fill="#ff609f"/>
<rect x="1119" y="619" width="3" height="3" fill="#ff5aa5"/>
<rect x="1122" y="619" width="4" height="3" fill="#ff54ab"/>
<rect x="1126" y="619" width="4" height="3" fill="#ff4eb1"/>
<rect x="1130" y="619" width="3" height="3" fill="#ee42bd"/>
<rect x="1022" y="615" width="4" height="4" fill="#ee42bd"/>
<rect x="1026" y="615" width="3" height="4" fill="#ff4eb1"/>
<rect x="1029" y="615" width="4" height="4" fill="#ff54ab"/>
<rect x="1033" y="615" width="3" height="4" fill="#ff5aa5"/>
<rect x="1036" y="615" width="4" height="4" fill="#ff609f"/>
<rect x="1040" y="615" width="7" height="4" fill="#ff6699"/>
<rect x="1047" y="615" width="11" height="4" fill="#ff6c93"/>
<rect x="1058" y="615" width="39" height="4" fill="#ff728d"/>
<rect x="1097" y="615" width="11" height="4" fill="#ff6c93"/>
<rect x="1108" y="615" width="7" height="4" fill="#ff6699"/>
<rect x="1115" y="615" width="4" height="4" fill="#ff609f"/>
<rect x="1119" y="615" width="3" height="4" fill="#ff5aa5"/>
<rect x="1122" y="615" width="4" height="4" fill="#ff54ab"/>
<rect x="1126" y="615" width="4" height="4" fill="#ff4eb1"/>
<rect x="1130" y="615" width="3" height="4" fill="#ee42bd"/>
<rect x="1026" y="612" width="3" height="3" fill="#ff4eb1"/>
<rect x="1029" y="612" width="4" height="3" fill="#ff54ab"/>
<rect x="1033" y="612" width="3" height="3" fill="#ff5aa5"/>
<rect x="1036" y="612" width="4" height="3" fill="#ff609f"/>
<rect x="1040" y="612" width="7" height="3" fill="#ff6699"/>
<rect x="1047" y="612" width="11" height="3" fill="#ff6c93"/>
<rect x="1058" y="612" width="39" height="3" fill="#ff728d"/>
<rect x="1097" y="612" width="11" height="3" fill="#ff6c93"/>
<rect x="1108" y="612" width="7" height="3" fill="#ff6699"/>
<rect x="1115" y="612" width="4" height="3" fill="#ff609f"/>
<rect x="1119" y="612" width="3" height="3" fill="#ff5aa5"/>
<rect x="1122" y="612" width="4" height="3" fill="#ff54ab"/>
<rect x="1126" y="612" width="4" height="3" fill="#ff4eb1"/>
<rect x="1026" y="608" width="3" height="4" fill="#f848b7"/>
<rect x="1029" y="608" width="4" height="4" fill="#ff54ab"/>
<rect x="1033" y="608" width="3" height="4" fill="#ff5aa5"/>
<rect x="1036" y="608" width="8" height="4" fill="#ff609f"/>
<rect x="1044" y="608" width="3" height="4" fill="#ff6699"/>
<rect x="1047" y="608" width="15" height="4" fill="#ff6c93"/>
<rect x="1062" y="608" width="32" height="4" fill="#ff728d"/>
<rect x="1094" y="608" width="11" height="4" fill="#ff6c93"/>
<rect x="1105" y="608" width="7" height="4" fill="#ff6699"/>
<rect x="1112" y="608" width="3" height="4" fill="#ff609f"/>
<rect x="1115" y="608" width="7" height="4" fill="#ff5aa5"/>
<rect x="1122" y="608" width="4" height="4" fill="#ff4eb1"/>
<rect x="1126" y="608" width="4" height="4" fill="#f848b7"/>
<rect x="1026" y="604" width="3" height="4" fill="#f848b7"/>
<rect x="1029" y="604" width="4" height="4" fill="#ff4eb1"/>
<rect x="1033" y="604" width="3" height="4" fill="#ff54ab"/>
<rect x="1036" y="604" width="4" height="4" fill="#ff5aa5"/>
<rect x="1040" y="604" width="4" height="4" fill="#ff609f"/>
<rect x="1044" y="604" width="7" height="4" fill="#ff6699"/>
<rect x="1051" y="604" width="14" height="4" fill="#ff6c93"/>
<rect x="1065" y="604" width="25" height="4" fill="#ff728d"/>
<rect x="1090" y="604" width="15" height="4" fill="#ff6c93"/>
<rect x="1105" y="604" width="7" height="4" fill="#ff6699"/>
<rect x="1112" y="604" width="3" height="4" fill="#ff609f"/>
<rect x="1115" y="604" width="4" height="4" fill="#ff5aa5"/>
<rect x="1119" y="604" width="3" height="4" fill="#ff54ab"/>
<rect x="1122" y="604" width="4" height="4" fill="#ff4eb1"/>
<rect x="1126" y="604" width="4" height="4" fill="#f848b7"/>
<rect x="1026" y="601" width="3" height="3" fill="#ee42bd"/>
<rect x="1029" y="601" width="4" height="3" fill="#ff4eb1"/>
<rect x="1033" y="601" width="3" height="3" fill="#ff54ab"/>
<rect x="1036" y="601" width="4" height="3" fill="#ff5aa5"/>
<rect x="1040" y="601" width="7" height="3" fill="#ff609f"/>
<rect x="1047" y="601" width="7" height="3" fill="#ff6699"/>
<rect x="1054" y="601" width="15" height="3" fill="#ff6c93"/>
<rect x="1069" y="601" width="18" height="3" fill="#ff728d"/>
<rect x="1087" y="601" width="14" height="3" fill="#ff6c93"/>
<rect x="1101" y="601" width="7" height="3" fill="#ff6699"/>
<rect x="1108" y="601" width="7" height="3" fill="#ff609f"/>
<rect x="1115" y="601" width="4" height="3" fill="#ff5aa5"/>
<rect x="1119" y="601" width="3" height="3" fill="#ff54ab"/>
<rect x="1122" y="601" width="4" height="3" fill="#ff4eb1"/>
<rect x="1029" y="597" width="4" height="4" fill="#f848b7"/>
<rect x="1033" y="597" width="3" height="4" fill="#ff4eb1"/>
<rect x="1036" y="597" width="4" height="4" fill="#ff54ab"/>
<rect x="1040" y="597" width="4" height="4" fill="#ff5aa5"/>
<rect x="1044" y="597" width="3" height="4" fill="#ff609f"/>
<rect x="1047" y="597" width="11" height="4" fill="#ff6699"/>
<rect x="1058" y="597" width="39" height="4" fill="#ff6c93"/>
<rect x="1097" y="597" width="8" height="4" fill="#ff6699"/>
<rect x="1105" y="597" width="7" height="4" fill="#ff609f"/>
<rect x="1112" y="597" width="3" height="4" fill="#ff5aa5"/>
<rect x="1115" y="597" width="4" height="4" fill="#ff54ab"/>
<rect x="1119" y="597" width="3" height="4" fill="#ff4eb1"/>
<rect x="1122" y="597" width="4" height="4" fill="#f848b7"/>
<rect x="1029" y="594" width="4" height="3" fill="#ee42bd"/>
<rect x="1033" y="594" width="3" height="3" fill="#ff4eb1"/>
<rect x="1036" y="594" width="4" height="3" fill="#ff54ab"/>
<rect x="1040" y="594" width="7" height="3" fill="#ff5aa5"/>
<rect x="1047" y="594" width="4" height="3" fill="#ff609f"/>
<rect x="1051" y="594" width="11" height="3" fill="#ff6699"/>
<rect x="1062" y="594" width="32" height="3" fill="#ff6c93"/>
<rect x="1094" y="594" width="7" height="3" fill="#ff6699"/>
<rect x="1101" y="594" width="7" height="3" fill="#ff609f"/>
<rect x="1108" y="594" width="7" height="3" fill="#ff5aa5"/>
<rect x="1115" y="594" width="4" height="3" fill="#ff54ab"/>
<rect x="1119" y="594" width="3" height="3" fill="#ff4eb1"/>
<rect x="1033" y="590" width="3" height="4" fill="#f848b7"/>
<rect x="1036" y="590" width="4" height="4" fill="#ff4eb1"/>
<rect x="1040" y="590" width="4" height="4" fill="#ff54ab"/>
<rect x="1044" y="590" width="7" height="4" fill="#ff5aa5"/>
<rect x="1051" y="590" width="7" height="4" fill="#ff609f"/>
<rect x="1058" y="590" width="14" height="4" fill="#ff6699"/>
<rect x="1072" y="590" width="11" height="4" fill="#ff6c93"/>
<rect x="1083" y="590" width="14" height="4" fill="#ff6699"/>
<rect x="1097" y="590" width="8" height="4" fill="#ff609f"/>
<rect x="1105" y="590" width="7" height="4" fill="#ff5aa5"/>
<rect x="1112" y="590" width="3" height="4" fill="#ff54ab"/>
<rect x="1115" y="590" width="4" height="4" fill="#ff4eb1"/>
<rect x="1119" y="590" width="3" height="4" fill="#f848b7"/>
<rect x="1036" y="586" width="4" height="4" fill="#f848b7"/>
<rect x="1040" y="586" width="4" height="4" fill="#ff4eb1"/>
<rect x="1044" y="586" width="3" height="4" fill="#ff54ab"/>
<rect x="1047" y="586" width="7" height="4" fill="#ff5aa5"/>
<rect x="1054" y="586" width="11" height="4" fill="#ff609f"/>
<rect x="1065" y="586" width="25" height="4" fill="#ff6699"/>
<rect x="1090" y="586" width="11" height="4" fill="#ff609f"/>
<rect x="1101" y="586" width="7" height="4" fill="#ff5aa5"/>
<rect x="1108" y="586" width="4" height="4" fill="#ff54ab"/>
<rect x="1112" y="586" width="3" height="4" fill="#ff4eb1"/>
<rect x="1115" y="586" width="4" height="4" fill="#f848b7"/>
<rect x="1040" y="583" width="4" height="3" fill="#f848b7"/>
<rect x="1044" y="583" width="3" height="3" fill="#ff4eb1"/>
<rect x="1047" y="583" width="7" height="3" fill="#ff54ab"/>
<rect x="1054" y="583" width="8" height="3" fill="#ff5aa5"/>
<rect x="1062" y="583" width="32" height="3" fill="#ff609f"/>
<rect x="1094" y="583" width="7" height="3" fill="#ff5aa5"/>
<rect x="1101" y="583" width="7" height="3" fill="#ff54ab"/>
<rect x="1108" y="583" width="4" height="3" fill="#ff4eb1"/>
<rect x="1112" y="583" width="3" height="3" fill="#f848b7"/>
<rect x="1040" y="579" width="4" height="4" fill="#ff9c63"/>
<rect x="1044" y="579" width="3" height="4" fill="#ffa25d"/>
<rect x="1047" y="579" width="4" height="4" fill="#ffa857"/>
<rect x="1051" y="579" width="3" height="4" fill="#ffa25d"/>
<rect x="1054" y="579" width="4" height="4" fill="#ff9669"/>
<rect x="1058" y="579" width="4" height="4" fill="#ffa25d"/>
<rect x="1062" y="579" width="3" height="4" fill="#ffa857"/>
<rect x="1065" y="579" width="4" height="4" fill="#ff9669"/>
<rect x="1069" y="579" width="3" height="4" fill="#ff9c63"/>
<rect x="1072" y="579" width="4" height="4" fill="#ff9669"/>
<rect x="1076" y="579" width="7" height="4" fill="#ffa25d"/>
<rect x="1083" y="579" width="4" height="4" fill="#ff9669"/>
<rect x="1087" y="579" width="7" height="4" fill="#ff9c63"/>
<rect x="1094" y="579" width="3" height="4" fill="#ffa25d"/>
<rect x="1097" y="579" width="4" height="4" fill="#ffb04f"/>
<rect x="1101" y="579" width="4" height="4" fill="#ff906f"/>
<rect x="1105" y="579" width="3" height="4" fill="#ffa857"/>
<rect x="1108" y="579" width="4" height="4" fill="#ff9669"/>
<rect x="1112" y="579" width="3" height="4" fill="#ffa25d"/>
<rect x="1051" y="576" width="3" height="3" fill="#ffd42b"/>
<rect x="1054" y="576" width="4" height="3" fill="#ffec13"/>
<rect x="1058" y="576" width="4" height="3" fill="#ffd42b"/>
<rect x="1062" y="576" width="3" height="3" fill="#ffe619"/>
<rect x="1065" y="576" width="4" height="3" fill="#fff20d"/>
<rect x="1069" y="576" width="3" height="3" fill="#ffda25"/>
<rect x="1072" y="576" width="7" height="3" fill="#ffe01f"/>
<rect x="1079" y="576" width="4" height="3" fill="#ffe619"/>
<rect x="1083" y="576" width="4" height="3" fill="#fff20d"/>
<rect x="1087" y="576" width="3" height="3" fill="#ffe01f"/>
<rect x="1090" y="576" width="4" height="3" fill="#fff807"/>
<rect x="1094" y="576" width="7" height="3" fill="#ffe01f"/>
<rect x="1101" y="576" width="4" height="3" fill="#ffec13"/>
<rect x="1087" y="565" width="3" height="3" fill="#ffff43"/>
<rect x="1076" y="561" width="3" height="4" fill="#fffe01"/>
<rect x="1069" y="558" width="3" height="3" fill="#ffff1e"/>
<rect x="1076" y="558" width="3" height="3" fill="#ffff43"/>
<rect x="1065" y="554" width="4" height="4" fill="#ffff1e"/>
<rect x="1076" y="554" width="3" height="4" fill="#ffff69"/>
<rect x="1076" y="547" width="3" height="4" fill="#ffff1e"/>
<rect x="1083" y="547" width="4" height="4" fill="#ffff69"/>
<rect x="1072" y="543" width="4" height="4" fill="#ffff69"/>
<rect x="1076" y="536" width="3" height="4" fill="#ffff1e"/>
<rect x="1065" y="533" width="4" height="3" fill="#ffff69"/>
<rect x="1079" y="533" width="4" height="3" fill="#ffff43"/>
<rect x="1076" y="522" width="3" height="3" fill="#ffff43"/>
<rect x="1083" y="522" width="4" height="3" fill="#ffff69"/>
<rect x="1076" y="518" width="3" height="4" fill="#ffff1e"/>
<rect x="1083" y="518" width="4" height="4" fill="#ffff69"/>
<rect x="1076" y="515" width="3" height="3" fill="#ffff43"/>
<rect x="1069" y="504" width="3" height="3" fill="#ffff69"/>
<rect x="1076" y="504" width="3" height="3" fill="#ffff1e"/>
<rect x="1076" y="497" width="3" height="3" fill="#ffff1e"/>
<rect x="1076" y="493" width="3" height="4" fill="#ffff43"/>
<rect x="1076" y="490" width="3" height="3" fill="#ffff43"/>
<rect x="1079" y="490" width="4" height="3" fill="#ffff69"/>
<rect x="1072" y="486" width="4" height="4" fill="#ffff43"/>
<rect x="1076" y="486" width="3" height="4" fill="#ffff69"/>
<rect x="1076" y="482" width="3" height="4" fill="#ffff43"/>
<rect x="1076" y="479" width="3" height="3" fill="#fffe01"/>
<rect x="1072" y="475" width="4" height="4" fill="#ffff69"/>
<rect x="1076" y="475" width="3" height="4" fill="#fff20d"/>
<rect x="1076" y="472" width="3" height="3" fill="#ffff1e"/>
<rect x="1076" y="468" width="3" height="4" fill="#fffe01"/>
<rect x="1076" y="464" width="3" height="4" fill="#ffff1e"/>
<rect x="1076" y="461" width="3" height="3" fill="#fff20d"/>
<rect x="1076" y="457" width="3" height="4" fill="#fff20d"/>
<rect x="1076" y="454" width="3" height="3" fill="#ffb04f"/>
<rect x="1076" y="450" width="3" height="4" fill="#ffb04f"/>
<rect x="1076" y="447" width="3" height="3" fill="#ffb04f"/>
<rect x="1076" y="443" width="3" height="4" fill="#ffb04f"/>
<rect x="1076" y="439" width="3" height="4" fill="#ffb04f"/>
<rect x="1076" y="436" width="3" height="3" fill="#ffb04f"/>
<rect x="1076" y="432" width="3" height="4" fill="#ffb04f"/>
<rect x="1076" y="429" width="3" height="3" fill="#ffb04f"/>
<rect x="1076" y="425" width="3" height="4" fill="#ffb04f"/>
<rect x="1076" y="421" width="3" height="4" fill="#fffe01"/>
<rect x="1076" y="418" width="3" height="3" fill="#ffff1e"/>
<rect x="1076" y="414" width="3" height="4" fill="#fff20d"/>
<rect x="1076" y="411" width="3" height="3" fill="#fffe01"/>
<rect x="1076" y="407" width="3" height="4" fill="#fffe01"/>
<rect x="1072" y="403" width="4" height="4" fill="#fff20d"/>
<rect x="1072" y="400" width="4" height="3" fill="#fffe01"/>
<rect x="1076" y="400" width="7" height="3" fill="#ffff1e"/>
<rect x="1076" y="396" width="3" height="4" fill="#ffff1e"/>
<rect x="1079" y="396" width="4" height="4" fill="#fff20d"/>
<rect x="1069" y="393" width="3" height="3" fill="#fff20d"/>
<rect x="1072" y="393" width="7" height="3" fill="#ffff1e"/>
<rect x="1076" y="389" width="3" height="4" fill="#fff807"/>
<rect x="1065" y="386" width="4" height="3" fill="#fff807"/>
<rect x="1076" y="386" width="3" height="3" fill="#ffff1e"/>
<rect x="1079" y="386" width="4" height="3" fill="#fffe01"/>
<rect x="1083" y="386" width="4" height="3" fill="#fff807"/>
<rect x="1087" y="386" width="3" height="3" fill="#ffff1e"/>
<rect x="1072" y="382" width="4" height="4" fill="#fff807"/>
<rect x="1072" y="378" width="4" height="4" fill="#fff807"/>
<rect x="1076" y="378" width="3" height="4" fill="#fffe01"/>
<rect x="1083" y="378" width="4" height="4" fill="#ffff1e"/>
<rect x="1069" y="375" width="3" height="3" fill="#ffff1e"/>
<rect x="1072" y="375" width="4" height="3" fill="#fffe01"/>
<rect x="1076" y="375" width="7" height="3" fill="#ffff1e"/>
<rect x="1072" y="371" width="7" height="4" fill="#fffe01"/>
<rect x="1069" y="368" width="3" height="3" fill="#fff20d"/>
<rect x="1076" y="368" width="3" height="3" fill="#ffff1e"/>
<rect x="1062" y="364" width="3" height="4" fill="#ffff1e"/>
<rect x="1076" y="364" width="3" height="4" fill="#fffe01"/>
<rect x="1079" y="364" width="4" height="4" fill="#fff807"/>
<rect x="1090" y="364" width="4" height="4" fill="#ffff1e"/>
<rect x="1072" y="360" width="4" height="4" fill="#fff807"/>
<rect x="1076" y="360" width="3" height="4" fill="#ffff43"/>
<rect x="1083" y="360" width="4" height="4" fill="#fffe01"/>
<rect x="1062" y="357" width="3" height="3" fill="#fff807"/>
<rect x="1069" y="357" width="3" height="3" fill="#ffff1e"/>
<rect x="1076" y="357" width="3" height="3" fill="#fff20d"/>
<rect x="1069" y="353" width="3" height="4" fill="#ffff1e"/>
<rect x="1076" y="353" width="3" height="4" fill="#fff20d"/>
<rect x="1062" y="350" width="3" height="3" fill="#ffff1e"/>
<rect x="1069" y="350" width="3" height="3" fill="#ffff1e"/>
<rect x="1076" y="350" width="7" height="3" fill="#fffe01"/>
<rect x="1087" y="350" width="3" height="3" fill="#fff807"/>
<rect x="1072" y="346" width="4" height="4" fill="#fffe01"/>
<rect x="1058" y="342" width="4" height="4" fill="#ffff1e"/>
<rect x="1076" y="342" width="3" height="4" fill="#fffe01"/>
<rect x="1083" y="342" width="4" height="4" fill="#fffe01"/>
<rect x="1090" y="342" width="4" height="4" fill="#ffff1e"/>
<rect x="1094" y="342" width="3" height="4" fill="#fff807"/>
<rect x="1062" y="339" width="3" height="3" fill="#fff807"/>
<rect x="1065" y="339" width="4" height="3" fill="#fffe01"/>
<rect x="1072" y="339" width="7" height="3" fill="#fffe01"/>
<rect x="1058" y="335" width="7" height="4" fill="#fffe01"/>
<rect x="1069" y="335" width="3" height="4" fill="#fffe01"/>
<rect x="1076" y="335" width="3" height="4" fill="#ffff1e"/>
<rect x="1094" y="335" width="3" height="4" fill="#fff807"/>
<rect x="1062" y="332" width="3" height="3" fill="#fff20d"/>
<rect x="1065" y="332" width="4" height="3" fill="#ffff1e"/>
<rect x="1069" y="332" width="3" height="3" fill="#fffe01"/>
<rect x="1076" y="332" width="3" height="3" fill="#fff807"/>
<rect x="1079" y="332" width="4" height="3" fill="#fff20d"/>
<rect x="1065" y="328" width="4" height="4" fill="#fffe01"/>
<rect x="1072" y="328" width="7" height="4" fill="#ffff1e"/>
<rect x="1083" y="328" width="4" height="4" fill="#fffe01"/>
<rect x="1090" y="328" width="4" height="4" fill="#fffe01"/>
<rect x="1062" y="325" width="3" height="3" fill="#ffff43"/>
<rect x="1069" y="325" width="7" height="3" fill="#fffe01"/>
<rect x="1076" y="325" width="3" height="3" fill="#fff807"/>
<rect x="1083" y="325" width="4" height="3" fill="#fffe01"/>
<rect x="1062" y="321" width="3" height="4" fill="#fff20d"/>
<rect x="1072" y="321" width="4" height="4" fill="#fff20d"/>
<rect x="1079" y="321" width="4" height="4" fill="#fffe01"/>
<rect x="1083" y="321" width="4" height="4" fill="#fff807"/>
<rect x="1090" y="321" width="4" height="4" fill="#fff807"/>
<rect x="1058" y="317" width="4" height="4" fill="#ffff1e"/>
<rect x="1065" y="317" width="4" height="4" fill="#ffff1e"/>
<rect x="1076" y="317" width="3" height="4" fill="#fffe01"/>
<rect x="1079" y="317" width="4" height="4" fill="#ffff1e"/>
<rect x="1083" y="317" width="4" height="4" fill="#fff807"/>
<rect x="1090" y="317" width="4" height="4" fill="#fff807"/>
<rect x="1054" y="314" width="4" height="3" fill="#fff807"/>
<rect x="1058" y="314" width="4" height="3" fill="#ffe619"/>
<rect x="1062" y="314" width="3" height="3" fill="#fff20d"/>
<rect x="1065" y="314" width="4" height="3" fill="#ffd42b"/>
<rect x="1069" y="314" width="3" height="3" fill="#fff807"/>
<rect x="1072" y="314" width="4" height="3" fill="#ffe01f"/>
<rect x="1076" y="314" width="3" height="3" fill="#ffda25"/>
<rect x="1079" y="314" width="4" height="3" fill="#fff20d"/>
<rect x="1083" y="314" width="4" height="3" fill="#ffd42b"/>
<rect x="1087" y="314" width="3" height="3" fill="#ffda25"/>
<rect x="1090" y="314" width="4" height="3" fill="#fffe01"/>
<rect x="1094" y="314" width="3" height="3" fill="#ffe01f"/>
<rect x="1097" y="314" width="4" height="3" fill="#fffe01"/>
<rect x="1044" y="310" width="7" height="4" fill="#ff9669"/>
<rect x="1051" y="310" width="3" height="4" fill="#ff9c63"/>
<rect x="1054" y="310" width="4" height="4" fill="#ffa25d"/>
<rect x="1058" y="310" width="4" height="4" fill="#ffa857"/>
<rect x="1062" y="310" width="7" height="4" fill="#ffa25d"/>
<rect x="1069" y="310" width="7" height="4" fill="#ffa857"/>
<rect x="1076" y="310" width="3" height="4" fill="#ff906f"/>
<rect x="1079" y="310" width="4" height="4" fill="#ff9669"/>
<rect x="1083" y="310" width="7" height="4" fill="#ffa25d"/>
<rect x="1090" y="310" width="7" height="4" fill="#ff906f"/>
<rect x="1097" y="310" width="4" height="4" fill="#ff9669"/>
<rect x="1101" y="310" width="4" height="4" fill="#ffa25d"/>
<rect x="1105" y="310" width="3" height="4" fill="#ff9c63"/>
<rect x="1108" y="310" width="4" height="4" fill="#ff9669"/>
<rect x="1040" y="307" width="4" height="3" fill="#f848b7"/>
<rect x="1044" y="307" width="3" height="3" fill="#ff4eb1"/>
<rect x="1047" y="307" width="4" height="3" fill="#ff54ab"/>
<rect x="1051" y="307" width="7" height="3" fill="#ff5aa5"/>
<rect x="1058" y="307" width="39" height="3" fill="#ff609f"/>
<rect x="1097" y="307" width="8" height="3" fill="#ff5aa5"/>
<rect x="1105" y="307" width="3" height="3" fill="#ff54ab"/>
<rect x="1108" y="307" width="4" height="3" fill="#ff4eb1"/>
<rect x="1112" y="307" width="3" height="3" fill="#f848b7"/>
<rect x="1036" y="303" width="4" height="4" fill="#f848b7"/>
<rect x="1040" y="303" width="4" height="4" fill="#ff4eb1"/>
<rect x="1044" y="303" width="3" height="4" fill="#ff54ab"/>
<rect x="1047" y="303" width="7" height="4" fill="#ff5aa5"/>
<rect x="1054" y="303" width="8" height="4" fill="#ff609f"/>
<rect x="1062" y="303" width="32" height="4" fill="#ff6699"/>
<rect x="1094" y="303" width="7" height="4" fill="#ff609f"/>
<rect x="1101" y="303" width="7" height="4" fill="#ff5aa5"/>
<rect x="1108" y="303" width="4" height="4" fill="#ff54ab"/>
<rect x="1112" y="303" width="3" height="4" fill="#ff4eb1"/>
<rect x="1115" y="303" width="4" height="4" fill="#f848b7"/>
<rect x="1033" y="299" width="3" height="4" fill="#f848b7"/>
<rect x="1036" y="299" width="4" height="4" fill="#ff4eb1"/>
<rect x="1040" y="299" width="4" height="4" fill="#ff54ab"/>
<rect x="1044" y="299" width="7" height="4" fill="#ff5aa5"/>
<rect x="1051" y="299" width="3" height="4" fill="#ff609f"/>
<rect x="1054" y="299" width="15" height="4" fill="#ff6699"/>
<rect x="1069" y="299" width="18" height="4" fill="#ff6c93"/>
<rect x="1087" y="299" width="14" height="4" fill="#ff6699"/>
<rect x="1101" y="299" width="4" height="4" fill="#ff609f"/>
<rect x="1105" y="299" width="7" height="4" fill="#ff5aa5"/>
<rect x="1112" y="299" width="3" height="4" fill="#ff54ab"/>
<rect x="1115" y="299" width="4" height="4" fill="#ff4eb1"/>
<rect x="1119" y="299" width="3" height="4" fill="#f848b7"/>
<rect x="1029" y="296" width="4" height="3" fill="#ee42bd"/>
<rect x="1033" y="296" width="3" height="3" fill="#ff4eb1"/>
<rect x="1036" y="296" width="4" height="3" fill="#ff54ab"/>
<rect x="1040" y="296" width="7" height="3" fill="#ff5aa5"/>
<rect x="1047" y="296" width="4" height="3" fill="#ff609f"/>
<rect x="1051" y="296" width="11" height="3" fill="#ff6699"/>
<rect x="1062" y="296" width="32" height="3" fill="#ff6c93"/>
<rect x="1094" y="296" width="11" height="3" fill="#ff6699"/>
<rect x="1105" y="296" width="3" height="3" fill="#ff609f"/>
<rect x="1108" y="296" width="7" height="3" fill="#ff5aa5"/>
<rect x="1115" y="296" width="4" height="3" fill="#ff54ab"/>
<rect x="1119" y="296" width="3" height="3" fill="#ff4eb1"/>
<rect x="1122" y="296" width="4" height="3" fill="#ee42bd"/>
<rect x="1029" y="292" width="4" height="4" fill="#f848b7"/>
<rect x="1033" y="292" width="3" height="4" fill="#ff4eb1"/>
<rect x="1036" y="292" width="4" height="4" fill="#ff54ab"/>
<rect x="1040" y="292" width="4" height="4" fill="#ff5aa5"/>
<rect x="1044" y="292" width="3" height="4" fill="#ff609f"/>
<rect x="1047" y="292" width="11" height="4" fill="#ff6699"/>
<rect x="1058" y="292" width="39" height="4" fill="#ff6c93"/>
<rect x="1097" y="292" width="11" height="4" fill="#ff6699"/>
<rect x="1108" y="292" width="4" height="4" fill="#ff609f"/>
<rect x="1112" y="292" width="3" height="4" fill="#ff5aa5"/>
<rect x="1115" y="292" width="4" height="4" fill="#ff54ab"/>
<rect x="1119" y="292" width="3" height="4" fill="#ff4eb1"/>
<rect x="1122" y="292" width="4" height="4" fill="#f848b7"/>
<rect x="1026" y="289" width="3" height="3" fill="#ee42bd"/>
<rect x="1029" y="289" width="4" height="3" fill="#ff4eb1"/>
<rect x="1033" y="289" width="3" height="3" fill="#ff54ab"/>
<rect x="1036" y="289" width="4" height="3" fill="#ff5aa5"/>
<rect x="1040" y="289" width="7" height="3" fill="#ff609f"/>
<rect x="1047" y="289" width="7" height="3" fill="#ff6699"/>
<rect x="1054" y="289" width="15" height="3" fill="#ff6c93"/>
<rect x="1069" y="289" width="18" height="3" fill="#ff728d"/>
<rect x="1087" y="289" width="14" height="3" fill="#ff6c93"/>
<rect x="1101" y="289" width="7" height="3" fill="#ff6699"/>
<rect x="1108" y="289" width="7" height="3" fill="#ff609f"/>
<rect x="1115" y="289" width="4" height="3" fill="#ff5aa5"/>
<rect x="1119" y="289" width="3" height="3" fill="#ff54ab"/>
<rect x="1122" y="289" width="4" height="3" fill="#ff4eb1"/>
<rect x="1126" y="289" width="4" height="3" fill="#ee42bd"/>
<rect x="1026" y="285" width="3" height="4" fill="#f848b7"/>
<rect x="1029" y="285" width="4" height="4" fill="#ff4eb1"/>
<rect x="1033" y="285" width="3" height="4" fill="#ff54ab"/>
<rect x="1036" y="285" width="4" height="4" fill="#ff5aa5"/>
<rect x="1040" y="285" width="4" height="4" fill="#ff609f"/>
<rect x="1044" y="285" width="7" height="4" fill="#ff6699"/>
<rect x="1051" y="285" width="11" height="4" fill="#ff6c93"/>
<rect x="1062" y="285" width="32" height="4" fill="#ff728d"/>
<rect x="1094" y="285" width="11" height="4" fill="#ff6c93"/>
<rect x="1105" y="285" width="7" height="4" fill="#ff6699"/>
<rect x="1112" y="285" width="3" height="4" fill="#ff609f"/>
<rect x="1115" y="285" width="4" height="4" fill="#ff5aa5"/>
<rect x="1119" y="285" width="3" height="4" fill="#ff54ab"/>
<rect x="1122" y="285" width="4" height="4" fill="#ff4eb1"/>
<rect x="1126" y="285" width="4" height="4" fill="#f848b7"/>
<rect x="1026" y="281" width="3" height="4" fill="#f848b7"/>
<rect x="1029" y="281" width="4" height="4" fill="#ff54ab"/>
<rect x="1033" y="281" width="3" height="4" fill="#ff5aa5"/>
<rect x="1036" y="281" width="8" height="4" fill="#ff609f"/>
<rect x="1044" y="281" width="3" height="4" fill="#ff6699"/>
<rect x="1047" y="281" width="15" height="4" fill="#ff6c93"/>
<rect x="1062" y="281" width="32" height="4" fill="#ff728d"/>
<rect x="1094" y="281" width="14" height="4" fill="#ff6c93"/>
<rect x="1108" y="281" width="4" height="4" fill="#ff6699"/>
<rect x="1112" y="281" width="7" height="4" fill="#ff609f"/>
<rect x="1119" y="281" width="3" height="4" fill="#ff5aa5"/>
<rect x="1122" y="281" width="4" height="4" fill="#ff54ab"/>
<rect x="1126" y="281" width="4" height="4" fill="#f848b7"/>
<rect x="1022" y="278" width="4" height="3" fill="#ee42bd"/>
<rect x="1026" y="278" width="3" height="3" fill="#ff4eb1"/>
<rect x="1029" y="278" width="4" height="3" fill="#ff54ab"/>
<rect x="1033" y="278" width="3" height="3" fill="#ff5aa5"/>
<rect x="1036" y="278" width="4" height="3" fill="#ff609f"/>
<rect x="1040" y="278" width="7" height="3" fill="#ff6699"/>
<rect x="1047" y="278" width="11" height="3" fill="#ff6c93"/>
<rect x="1058" y="278" width="39" height="3" fill="#ff728d"/>
<rect x="1097" y="278" width="11" height="3" fill="#ff6c93"/>
<rect x="1108" y="278" width="7" height="3" fill="#ff6699"/>
<rect x="1115" y="278" width="4" height="3" fill="#ff609f"/>
<rect x="1119" y="278" width="3" height="3" fill="#ff5aa5"/>
<rect x="1122" y="278" width="4" height="3" fill="#ff54ab"/>
<rect x="1126" y="278" width="4" height="3" fill="#ff4eb1"/>
<rect x="1130" y="278" width="3" height="3" fill="#ee42bd"/>
<rect x="1022" y="274" width="4" height="4" fill="#ee42bd"/>
<rect x="1026" y="274" width="3" height="4" fill="#ff4eb1"/>
<rect x="1029" y="274" width="4" height="4" fill="#ff54ab"/>
<rect x="1033" y="274" width="3" height="4" fill="#ff5aa5"/>
<rect x="1036" y="274" width="4" height="4" fill="#ff609f"/>
<rect x="1040" y="274" width="7" height="4" fill="#ff6699"/>
<rect x="1047" y="274" width="11" height="4" fill="#ff6c93"/>
<rect x="1058" y="274" width="39" height="4" fill="#ff728d"/>
<rect x="1097" y="274" width="11" height="4" fill="#ff6c93"/>
<rect x="1108" y="274" width="7" height="4" fill="#ff6699"/>
<rect x="1115" y="274" width="4" height="4" fill="#ff609f"/>
<rect x="1119" y="274" width="3" height="4" fill="#ff5aa5"/>
<rect x="1122" y="274" width="4" height="4" fill="#ff54ab"/>
<rect x="1126" y="274" width="4" height="4" fill="#ff4eb1"/>
<rect x="1130" y="274" width="3" height="4" fill="#ee42bd"/>
<rect x="1022" y="271" width="4" height="3" fill="#ee42bd"/>
<rect x="1026" y="271" width="3" height="3" fill="#ff4eb1"/>
<rect x="1029" y="271" width="4" height="3" fill="#ff54ab"/>
<rect x="1033" y="271" width="3" height="3" fill="#ff5aa5"/>
<rect x="1036" y="271" width="4" height="3" fill="#ff609f"/>
<rect x="1040" y="271" width="7" height="3" fill="#ff6699"/>
<rect x="1047" y="271" width="7" height="3" fill="#ff6c93"/>
<rect x="1054" y="271" width="47" height="3" fill="#ff728d"/>
<rect x="1101" y="271" width="7" height="3" fill="#ff6c93"/>
<rect x="1108" y="271" width="7" height="3" fill="#ff6699"/>
<rect x="1115" y="271" width="4" height="3" fill="#ff609f"/>
<rect x="1119" y="271" width="3" height="3" fill="#ff5aa5"/>
<rect x="1122" y="271" width="4" height="3" fill="#ff54ab"/>
<rect x="1126" y="271" width="4" height="3" fill="#ff4eb1"/>
<rect x="1130" y="271" width="3" height="3" fill="#ee42bd"/>
<rect x="1022" y="267" width="4" height="4" fill="#ee42bd"/>
<rect x="1026" y="267" width="3" height="4" fill="#ff4eb1"/>
<rect x="1029" y="267" width="4" height="4" fill="#ff54ab"/>
<rect x="1033" y="267" width="3" height="4" fill="#ff5aa5"/>
<rect x="1036" y="267" width="4" height="4" fill="#ff609f"/>
<rect x="1040" y="267" width="7" height="4" fill="#ff6699"/>
<rect x="1047" y="267" width="7" height="4" fill="#ff6c93"/>
<rect x="1054" y="267" width="47" height="4" fill="#ff728d"/>
<rect x="1101" y="267" width="7" height="4" fill="#ff6c93"/>
<rect x="1108" y="267" width="7" height="4" fill="#ff6699"/>
<rect x="1115" y="267" width="4" height="4" fill="#ff609f"/>
<rect x="1119" y="267" width="3" height="4" fill="#ff5aa5"/>
<rect x="1122" y="267" width="4" height="4" fill="#ff54ab"/>
<rect x="1126" y="267" width="4" height="4" fill="#ff4eb1"/>
<rect x="1130" y="267" width="3" height="4" fill="#ee42bd"/>
<rect x="1022" y="264" width="4" height="3" fill="#ee42bd"/>
<rect x="1026" y="264" width="3" height="3" fill="#ff4eb1"/>
<rect x="1029" y="264" width="4" height="3" fill="#ff54ab"/>
<rect x="1033" y="264" width="3" height="3" fill="#ff5aa5"/>
<rect x="1036" y="264" width="4" height="3" fill="#ff609f"/>
<rect x="1040" y="264" width="7" height="3" fill="#ff6699"/>
<rect x="1047" y="264" width="11" height="3" fill="#ff6c93"/>
<rect x="1058" y="264" width="39" height="3" fill="#ff728d"/>
<rect x="1097" y="264" width="11" height="3" fill="#ff6c93"/>
<rect x="1108" y="264" width="7" height="3" fill="#ff6699"/>
<rect x="1115" y="264" width="4" height="3" fill="#ff609f"/>
<rect x="1119" y="264" width="3" height="3" fill="#ff5aa5"/>
<rect x="1122" y="264" width="4" height="3" fill="#ff54ab"/>
<rect x="1126" y="264" width="4" height="3" fill="#ff4eb1"/>
<rect x="1130" y="264" width="3" height="3" fill="#ee42bd"/>
<rect x="1026" y="260" width="3" height="4" fill="#f848b7"/>
<rect x="1029" y="260" width="4" height="4" fill="#ff54ab"/>
<rect x="1033" y="260" width="3" height="4" fill="#ff5aa5"/>
<rect x="1036" y="260" width="8" height="4" fill="#ff609f"/>
<rect x="1044" y="260" width="3" height="4" fill="#ff6699"/>
<rect x="1047" y="260" width="11" height="4" fill="#ff6c93"/>
<rect x="1058" y="260" width="39" height="4" fill="#ff728d"/>
<rect x="1097" y="260" width="11" height="4" fill="#ff6c93"/>
<rect x="1108" y="260" width="4" height="4" fill="#ff6699"/>
<rect x="1112" y="260" width="7" height="4" fill="#ff609f"/>
<rect x="1119" y="260" width="3" height="4" fill="#ff5aa5"/>
<rect x="1122" y="260" width="4" height="4" fill="#ff54ab"/>
<rect x="1126" y="260" width="4" height="4" fill="#f848b7"/>
<rect x="1026" y="256" width="3" height="4" fill="#f848b7"/>
<rect x="1029" y="256" width="4" height="4" fill="#ff4eb1"/>
<rect x="1033" y="256" width="3" height="4" fill="#ff54ab"/>
<rect x="1036" y="256" width="4" height="4" fill="#ff5aa5"/>
<rect x="1040" y="256" width="4" height="4" fill="#ff609f"/>
<rect x="1044" y="256" width="7" height="4" fill="#ff6699"/>
<rect x="1051" y="256" width="11" height="4" fill="#ff6c93"/>
<rect x="1062" y="256" width="32" height="4" fill="#ff728d"/>
<rect x="1094" y="256" width="11" height="4" fill="#ff6c93"/>
<rect x="1105" y="256" width="7" height="4" fill="#ff6699"/>
<rect x="1112" y="256" width="3" height="4" fill="#ff609f"/>
<rect x="1115" y="256" width="4" height="4" fill="#ff5aa5"/>
<rect x="1119" y="256" width="3" height="4" fill="#ff54ab"/>
<rect x="1122" y="256" width="4" height="4" fill="#ff4eb1"/>
<rect x="1126" y="256" width="4" height="4" fill="#f848b7"/>
<rect x="1026" y="253" width="3" height="3" fill="#f848b7"/>
<rect x="1029" y="253" width="4" height="3" fill="#ff4eb1"/>
<rect x="1033" y="253" width="3" height="3" fill="#ff54ab"/>
<rect x="1036" y="253" width="4" height="3" fill="#ff5aa5"/>
<rect x="1040" y="253" width="7" height="3" fill="#ff609f"/>
<rect x="1047" y="253" width="7" height="3" fill="#ff6699"/>
<rect x="1054" y="253" width="15" height="3" fill="#ff6c93"/>
<rect x="1069" y="253" width="18" height="3" fill="#ff728d"/>
<rect x="1087" y="253" width="14" height="3" fill="#ff6c93"/>
<rect x="1101" y="253" width="7" height="3" fill="#ff6699"/>
<rect x="1108" y="253" width="7" height="3" fill="#ff609f"/>
<rect x="1115" y="253" width="4" height="3" fill="#ff5aa5"/>
<rect x="1119" y="253" width="3" height="3" fill="#ff54ab"/>
<rect x="1122" y="253" width="4" height="3" fill="#ff4eb1"/>
<rect x="1126" y="253" width="4" height="3" fill="#f848b7"/>
<rect x="1029" y="249" width="4" height="4" fill="#f848b7"/>
<rect x="1033" y="249" width="3" height="4" fill="#ff4eb1"/>
<rect x="1036" y="249" width="4" height="4" fill="#ff54ab"/>
<rect x="1040" y="249" width="4" height="4" fill="#ff5aa5"/>
<rect x="1044" y="249" width="3" height="4" fill="#ff609f"/>
<rect x="1047" y="249" width="11" height="4" fill="#ff6699"/>
<rect x="1058" y="249" width="39" height="4" fill="#ff6c93"/>
<rect x="1097" y="249" width="11" height="4" fill="#ff6699"/>
<rect x="1108" y="249" width="4" height="4" fill="#ff609f"/>
<rect x="1112" y="249" width="3" height="4" fill="#ff5aa5"/>
<rect x="1115" y="249" width="4" height="4" fill="#ff54ab"/>
<rect x="1119" y="249" width="3" height="4" fill="#ff4eb1"/>
<rect x="1122" y="249" width="4" height="4" fill="#f848b7"/>
<rect x="1029" y="246" width="4" height="3" fill="#f848b7"/>
<rect x="1033" y="246" width="3" height="3" fill="#ff4eb1"/>
<rect x="1036" y="246" width="4" height="3" fill="#ff54ab"/>
<rect x="1040" y="246" width="7" height="3" fill="#ff5aa5"/>
<rect x="1047" y="246" width="7" height="3" fill="#ff609f"/>
<rect x="1054" y="246" width="11" height="3" fill="#ff6699"/>
<rect x="1065" y="246" width="25" height="3" fill="#ff6c93"/>
<rect x="1090" y="246" width="11" height="3" fill="#ff6699"/>
<rect x="1101" y="246" width="7" height="3" fill="#ff609f"/>
<rect x="1108" y="246" width="7" height="3" fill="#ff5aa5"/>
<rect x="1115" y="246" width="4" height="3" fill="#ff54ab"/>
<rect x="1119" y="246" width="3" height="3" fill="#ff4eb1"/>
<rect x="1122" y="246" width="4" height="3" fill="#f848b7"/>
<rect x="1033" y="242" width="3" height="4" fill="#f848b7"/>
<rect x="1036" y="242" width="4" height="4" fill="#ff4eb1"/>
<rect x="1040" y="242" width="4" height="4" fill="#ff54ab"/>
<rect x="1044" y="242" width="7" height="4" fill="#ff5aa5"/>
<rect x="1051" y="242" width="7" height="4" fill="#ff609f"/>
<rect x="1058" y="242" width="39" height="4" fill="#ff6699"/>
<rect x="1097" y="242" width="8" height="4" fill="#ff609f"/>
<rect x="1105" y="242" width="7" height="4" fill="#ff5aa5"/>
<rect x="1112" y="242" width="3" height="4" fill="#ff54ab"/>
<rect x="1115" y="242" width="4" height="4" fill="#ff4eb1"/>
<rect x="1119" y="242" width="3" height="4" fill="#f848b7"/>
<rect x="1033" y="238" width="3" height="4" fill="#ee42bd"/>
<rect x="1036" y="238" width="4" height="4" fill="#f848b7"/>
<rect x="1040" y="238" width="4" height="4" fill="#ff4eb1"/>
<rect x="1044" y="238" width="7" height="4" fill="#ff54ab"/>
<rect x="1051" y="238" width="7" height="4" fill="#ff5aa5"/>
<rect x="1058" y="238" width="14" height="4" fill="#ff609f"/>
<rect x="1072" y="238" width="11" height="4" fill="#ff6699"/>
<rect x="1083" y="238" width="14" height="4" fill="#ff609f"/>
<rect x="1097" y="238" width="8" height="4" fill="#ff5aa5"/>
<rect x="1105" y="238" width="7" height="4" fill="#ff54ab"/>
<rect x="1112" y="238" width="3" height="4" fill="#ff4eb1"/>
<rect x="1115" y="238" width="4" height="4" fill="#f848b7"/>
<rect x="1119" y="238" width="3" height="4" fill="#ee42bd"/>
<rect x="1036" y="235" width="4" height="3" fill="#ee42bd"/>
<rect x="1040" y="235" width="4" height="3" fill="#f848b7"/>
<rect x="1044" y="235" width="7" height="3" fill="#ff4eb1"/>
<rect x="1051" y="235" width="7" height="3" fill="#ff54ab"/>
<rect x="1058" y="235" width="39" height="3" fill="#ff5aa5"/>
<rect x="1097" y="235" width="8" height="3" fill="#ff54ab"/>
<rect x="1105" y="235" width="7" height="3" fill="#ff4eb1"/>
<rect x="1112" y="235" width="3" height="3" fill="#f848b7"/>
<rect x="1115" y="235" width="4" height="3" fill="#ee42bd"/>
<rect x="1040" y="231" width="4" height="4" fill="#e53cc3"/>
<rect x="1044" y="231" width="3" height="4" fill="#ee42bd"/>
<rect x="1047" y="231" width="4" height="4" fill="#f848b7"/>
<rect x="1051" y="231" width="7" height="4" fill="#ff4eb1"/>
<rect x="1058" y="231" width="11" height="4" fill="#ff54ab"/>
<rect x="1069" y="231" width="7" height="4" fill="#ff4eb1"/>
<rect x="1076" y="231" width="3" height="4" fill="#f848b7"/>
<rect x="1079" y="231" width="8" height="4" fill="#ff4eb1"/>
<rect x="1087" y="231" width="10" height="4" fill="#ff54ab"/>
<rect x="1097" y="231" width="8" height="4" fill="#ff4eb1"/>
<rect x="1105" y="231" width="3" height="4" fill="#f848b7"/>
<rect x="1108" y="231" width="4" height="4" fill="#ee42bd"/>
<rect x="1112" y="231" width="3" height="4" fill="#e53cc3"/>
<rect x="1044" y="228" width="3" height="3" fill="#e53cc3"/>
<rect x="1047" y="228" width="7" height="3" fill="#ee42bd"/>
<rect x="1054" y="228" width="15" height="3" fill="#f848b7"/>
<rect x="1069" y="228" width="3" height="3" fill="#ee42bd"/>
<rect x="1072" y="228" width="11" height="3" fill="#e53cc3"/>
<rect x="1083" y="228" width="4" height="3" fill="#ee42bd"/>
<rect x="1087" y="228" width="14" height="3" fill="#f848b7"/>
<rect x="1101" y="228" width="7" height="3" fill="#ee42bd"/>
<rect x="1108" y="228" width="4" height="3" fill="#e53cc3"/>
<rect x="1047" y="224" width="4" height="4" fill="#dc36c9"/>
<rect x="1051" y="224" width="7" height="4" fill="#e53cc3"/>
<rect x="1058" y="224" width="7" height="4" fill="#ee42bd"/>
<rect x="1065" y="224" width="4" height="4" fill="#e53cc3"/>
<rect x="1069" y="224" width="3" height="4" fill="#dc36c9"/>
<rect x="1072" y="224" width="11" height="4" fill="#c628d7"/>
<rect x="1083" y="224" width="4" height="4" fill="#dc36c9"/>
<rect x="1087" y="224" width="3" height="4" fill="#e53cc3"/>
<rect x="1090" y="224" width="7" height="4" fill="#ee42bd"/>
<rect x="1097" y="224" width="8" height="4" fill="#e53cc3"/>
<rect x="1105" y="224" width="3" height="4" fill="#dc36c9"/>
<rect x="1054" y="221" width="4" height="3" fill="#d230cf"/>
<rect x="1058" y="221" width="7" height="3" fill="#dc36c9"/>
<rect x="1065" y="221" width="4" height="3" fill="#d230cf"/>
<rect x="1069" y="221" width="3" height="3" fill="#bc22dd"/>
<rect x="1072" y="221" width="4" height="3" fill="#aa16e9"/>
<rect x="1076" y="221" width="3" height="3" fill="#a010ef"/>
<rect x="1079" y="221" width="4" height="3" fill="#aa16e9"/>
<rect x="1083" y="221" width="4" height="3" fill="#bc22dd"/>
<rect x="1087" y="221" width="3" height="3" fill="#d230cf"/>
<rect x="1090" y="221" width="7" height="3" fill="#dc36c9"/>
<rect x="1097" y="221" width="4" height="3" fill="#d230cf"/>
<rect x="1065" y="217" width="4" height="4" fill="#bc22dd"/>
<rect x="1069" y="217" width="3" height="4" fill="#aa16e9"/>
<rect x="1072" y="217" width="4" height="4" fill="#8d04fb"/>
<rect x="1076" y="217" width="3" height="4" fill="#8400ff"/>
<rect x="1079" y="217" width="4" height="4" fill="#8d04fb"/>
<rect x="1083" y="217" width="4" height="4" fill="#aa16e9"/>
<rect x="1087" y="217" width="3" height="4" fill="#bc22dd"/>
</g>
<g id="heatdots" fill="#c0206a" fill-opacity=".045" shape-rendering="crispEdges">
<path d="M1065 671h1v1h-1zM1069 671h1v1h-1zM1072 671h1v1h-1zM1076 671h1v1h-1zM1079 671h1v1h-1zM1083 671h1v1h-1zM1087 671h1v1h-1zM1090 671h1v1h-1z"/>
<path d="M1054 668h1v1h-1zM1058 668h1v1h-1zM1062 668h1v1h-1zM1065 668h1v1h-1zM1069 668h1v1h-1zM1072 668h1v1h-1zM1076 668h1v1h-1zM1079 668h1v1h-1zM1083 668h1v1h-1zM1087 668h1v1h-1zM1090 668h1v1h-1zM1094 668h1v1h-1zM1097 668h1v1h-1zM1101 668h1v1h-1z"/>
<path d="M1051 664h1v1h-1zM1054 664h1v1h-1zM1058 664h1v1h-1zM1062 664h1v1h-1zM1065 664h1v1h-1zM1069 664h1v1h-1zM1072 664h1v1h-1zM1076 664h1v1h-1zM1079 664h1v1h-1zM1083 664h1v1h-1zM1087 664h1v1h-1zM1090 664h1v1h-1zM1094 664h1v1h-1zM1097 664h1v1h-1zM1101 664h1v1h-1zM1105 664h1v1h-1z"/>
<path d="M1044 661h1v1h-1zM1047 661h1v1h-1zM1051 661h1v1h-1zM1054 661h1v1h-1zM1058 661h1v1h-1zM1062 661h1v1h-1zM1065 661h1v1h-1zM1069 661h1v1h-1zM1072 661h1v1h-1zM1076 661h1v1h-1zM1079 661h1v1h-1zM1083 661h1v1h-1zM1087 661h1v1h-1zM1090 661h1v1h-1zM1094 661h1v1h-1zM1097 661h1v1h-1zM1101 661h1v1h-1zM1105 661h1v1h-1zM1108 661h1v1h-1z"/>
<path d="M1040 657h1v1h-1zM1044 657h1v1h-1zM1047 657h1v1h-1zM1051 657h1v1h-1zM1054 657h1v1h-1zM1058 657h1v1h-1zM1062 657h1v1h-1zM1065 657h1v1h-1zM1069 657h1v1h-1zM1072 657h1v1h-1zM1076 657h1v1h-1zM1079 657h1v1h-1zM1083 657h1v1h-1zM1087 657h1v1h-1zM1090 657h1v1h-1zM1094 657h1v1h-1zM1097 657h1v1h-1zM1101 657h1v1h-1zM1105 657h1v1h-1zM1108 657h1v1h-1zM1112 657h1v1h-1zM1115 657h1v1h-1z"/>
<path d="M1040 654h1v1h-1zM1044 654h1v1h-1zM1047 654h1v1h-1zM1051 654h1v1h-1zM1054 654h1v1h-1zM1058 654h1v1h-1zM1062 654h1v1h-1zM1065 654h1v1h-1zM1069 654h1v1h-1zM1072 654h1v1h-1zM1076 654h1v1h-1zM1079 654h1v1h-1zM1083 654h1v1h-1zM1087 654h1v1h-1zM1090 654h1v1h-1zM1094 654h1v1h-1zM1097 654h1v1h-1zM1101 654h1v1h-1zM1105 654h1v1h-1zM1108 654h1v1h-1zM1112 654h1v1h-1zM1115 654h1v1h-1z"/>
<path d="M1036 650h1v1h-1zM1040 650h1v1h-1zM1044 650h1v1h-1zM1047 650h1v1h-1zM1051 650h1v1h-1zM1054 650h1v1h-1zM1058 650h1v1h-1zM1062 650h1v1h-1zM1065 650h1v1h-1zM1069 650h1v1h-1zM1072 650h1v1h-1zM1076 650h1v1h-1zM1079 650h1v1h-1zM1083 650h1v1h-1zM1087 650h1v1h-1zM1090 650h1v1h-1zM1094 650h1v1h-1zM1097 650h1v1h-1zM1101 650h1v1h-1zM1105 650h1v1h-1zM1108 650h1v1h-1zM1112 650h1v1h-1zM1115 650h1v1h-1zM1119 650h1v1h-1z"/>
<path d="M1033 646h1v1h-1zM1036 646h1v1h-1zM1040 646h1v1h-1zM1044 646h1v1h-1zM1047 646h1v1h-1zM1051 646h1v1h-1zM1054 646h1v1h-1zM1058 646h1v1h-1zM1062 646h1v1h-1zM1065 646h1v1h-1zM1069 646h1v1h-1zM1072 646h1v1h-1zM1076 646h1v1h-1zM1079 646h1v1h-1zM1083 646h1v1h-1zM1087 646h1v1h-1zM1090 646h1v1h-1zM1094 646h1v1h-1zM1097 646h1v1h-1zM1101 646h1v1h-1zM1105 646h1v1h-1zM1108 646h1v1h-1zM1112 646h1v1h-1zM1115 646h1v1h-1zM1119 646h1v1h-1zM1122 646h1v1h-1z"/>
<path d="M1033 643h1v1h-1zM1036 643h1v1h-1zM1040 643h1v1h-1zM1044 643h1v1h-1zM1047 643h1v1h-1zM1051 643h1v1h-1zM1054 643h1v1h-1zM1058 643h1v1h-1zM1062 643h1v1h-1zM1065 643h1v1h-1zM1069 643h1v1h-1zM1072 643h1v1h-1zM1076 643h1v1h-1zM1079 643h1v1h-1zM1083 643h1v1h-1zM1087 643h1v1h-1zM1090 643h1v1h-1zM1094 643h1v1h-1zM1097 643h1v1h-1zM1101 643h1v1h-1zM1105 643h1v1h-1zM1108 643h1v1h-1zM1112 643h1v1h-1zM1115 643h1v1h-1zM1119 643h1v1h-1zM1122 643h1v1h-1z"/>
<path d="M1029 639h1v1h-1zM1033 639h1v1h-1zM1036 639h1v1h-1zM1040 639h1v1h-1zM1044 639h1v1h-1zM1047 639h1v1h-1zM1051 639h1v1h-1zM1054 639h1v1h-1zM1058 639h1v1h-1zM1062 639h1v1h-1zM1065 639h1v1h-1zM1069 639h1v1h-1zM1072 639h1v1h-1zM1076 639h1v1h-1zM1079 639h1v1h-1zM1083 639h1v1h-1zM1087 639h1v1h-1zM1090 639h1v1h-1zM1094 639h1v1h-1zM1097 639h1v1h-1zM1101 639h1v1h-1zM1105 639h1v1h-1zM1108 639h1v1h-1zM1112 639h1v1h-1zM1115 639h1v1h-1zM1119 639h1v1h-1zM1122 639h1v1h-1zM1126 639h1v1h-1z"/>
<path d="M1029 636h1v1h-1zM1033 636h1v1h-1zM1036 636h1v1h-1zM1040 636h1v1h-1zM1044 636h1v1h-1zM1047 636h1v1h-1zM1051 636h1v1h-1zM1054 636h1v1h-1zM1058 636h1v1h-1zM1062 636h1v1h-1zM1065 636h1v1h-1zM1069 636h1v1h-1zM1072 636h1v1h-1zM1076 636h1v1h-1zM1079 636h1v1h-1zM1083 636h1v1h-1zM1087 636h1v1h-1zM1090 636h1v1h-1zM1094 636h1v1h-1zM1097 636h1v1h-1zM1101 636h1v1h-1zM1105 636h1v1h-1zM1108 636h1v1h-1zM1112 636h1v1h-1zM1115 636h1v1h-1zM1119 636h1v1h-1zM1122 636h1v1h-1zM1126 636h1v1h-1z"/>
<path d="M1029 632h1v1h-1zM1033 632h1v1h-1zM1036 632h1v1h-1zM1040 632h1v1h-1zM1044 632h1v1h-1zM1047 632h1v1h-1zM1051 632h1v1h-1zM1054 632h1v1h-1zM1058 632h1v1h-1zM1062 632h1v1h-1zM1065 632h1v1h-1zM1069 632h1v1h-1zM1072 632h1v1h-1zM1076 632h1v1h-1zM1079 632h1v1h-1zM1083 632h1v1h-1zM1087 632h1v1h-1zM1090 632h1v1h-1zM1094 632h1v1h-1zM1097 632h1v1h-1zM1101 632h1v1h-1zM1105 632h1v1h-1zM1108 632h1v1h-1zM1112 632h1v1h-1zM1115 632h1v1h-1zM1119 632h1v1h-1zM1122 632h1v1h-1zM1126 632h1v1h-1z"/>
<path d="M1026 628h1v1h-1zM1029 628h1v1h-1zM1033 628h1v1h-1zM1036 628h1v1h-1zM1040 628h1v1h-1zM1044 628h1v1h-1zM1047 628h1v1h-1zM1051 628h1v1h-1zM1054 628h1v1h-1zM1058 628h1v1h-1zM1062 628h1v1h-1zM1065 628h1v1h-1zM1069 628h1v1h-1zM1072 628h1v1h-1zM1076 628h1v1h-1zM1079 628h1v1h-1zM1083 628h1v1h-1zM1087 628h1v1h-1zM1090 628h1v1h-1zM1094 628h1v1h-1zM1097 628h1v1h-1zM1101 628h1v1h-1zM1105 628h1v1h-1zM1108 628h1v1h-1zM1112 628h1v1h-1zM1115 628h1v1h-1zM1119 628h1v1h-1zM1122 628h1v1h-1zM1126 628h1v1h-1zM1130 628h1v1h-1z"/>
<path d="M1026 625h1v1h-1zM1029 625h1v1h-1zM1033 625h1v1h-1zM1036 625h1v1h-1zM1040 625h1v1h-1zM1044 625h1v1h-1zM1047 625h1v1h-1zM1051 625h1v1h-1zM1054 625h1v1h-1zM1058 625h1v1h-1zM1062 625h1v1h-1zM1065 625h1v1h-1zM1069 625h1v1h-1zM1072 625h1v1h-1zM1076 625h1v1h-1zM1079 625h1v1h-1zM1083 625h1v1h-1zM1087 625h1v1h-1zM1090 625h1v1h-1zM1094 625h1v1h-1zM1097 625h1v1h-1zM1101 625h1v1h-1zM1105 625h1v1h-1zM1108 625h1v1h-1zM1112 625h1v1h-1zM1115 625h1v1h-1zM1119 625h1v1h-1zM1122 625h1v1h-1zM1126 625h1v1h-1zM1130 625h1v1h-1z"/>
<path d="M1026 621h1v1h-1zM1029 621h1v1h-1zM1033 621h1v1h-1zM1036 621h1v1h-1zM1040 621h1v1h-1zM1044 621h1v1h-1zM1047 621h1v1h-1zM1051 621h1v1h-1zM1054 621h1v1h-1zM1058 621h1v1h-1zM1062 621h1v1h-1zM1065 621h1v1h-1zM1069 621h1v1h-1zM1072 621h1v1h-1zM1076 621h1v1h-1zM1079 621h1v1h-1zM1083 621h1v1h-1zM1087 621h1v1h-1zM1090 621h1v1h-1zM1094 621h1v1h-1zM1097 621h1v1h-1zM1101 621h1v1h-1zM1105 621h1v1h-1zM1108 621h1v1h-1zM1112 621h1v1h-1zM1115 621h1v1h-1zM1119 621h1v1h-1zM1122 621h1v1h-1zM1126 621h1v1h-1zM1130 621h1v1h-1z"/>
<path d="M1026 618h1v1h-1zM1029 618h1v1h-1zM1033 618h1v1h-1zM1036 618h1v1h-1zM1040 618h1v1h-1zM1044 618h1v1h-1zM1047 618h1v1h-1zM1051 618h1v1h-1zM1054 618h1v1h-1zM1058 618h1v1h-1zM1062 618h1v1h-1zM1065 618h1v1h-1zM1069 618h1v1h-1zM1072 618h1v1h-1zM1076 618h1v1h-1zM1079 618h1v1h-1zM1083 618h1v1h-1zM1087 618h1v1h-1zM1090 618h1v1h-1zM1094 618h1v1h-1zM1097 618h1v1h-1zM1101 618h1v1h-1zM1105 618h1v1h-1zM1108 618h1v1h-1zM1112 618h1v1h-1zM1115 618h1v1h-1zM1119 618h1v1h-1zM1122 618h1v1h-1zM1126 618h1v1h-1zM1130 618h1v1h-1z"/>
<path d="M1029 614h1v1h-1zM1033 614h1v1h-1zM1036 614h1v1h-1zM1040 614h1v1h-1zM1044 614h1v1h-1zM1047 614h1v1h-1zM1051 614h1v1h-1zM1054 614h1v1h-1zM1058 614h1v1h-1zM1062 614h1v1h-1zM1065 614h1v1h-1zM1069 614h1v1h-1zM1072 614h1v1h-1zM1076 614h1v1h-1zM1079 614h1v1h-1zM1083 614h1v1h-1zM1087 614h1v1h-1zM1090 614h1v1h-1zM1094 614h1v1h-1zM1097 614h1v1h-1zM1101 614h1v1h-1zM1105 614h1v1h-1zM1108 614h1v1h-1zM1112 614h1v1h-1zM1115 614h1v1h-1zM1119 614h1v1h-1zM1122 614h1v1h-1zM1126 614h1v1h-1z"/>
<path d="M1029 611h1v1h-1zM1033 611h1v1h-1zM1036 611h1v1h-1zM1040 611h1v1h-1zM1044 611h1v1h-1zM1047 611h1v1h-1zM1051 611h1v1h-1zM1054 611h1v1h-1zM1058 611h1v1h-1zM1062 611h1v1h-1zM1065 611h1v1h-1zM1069 611h1v1h-1zM1072 611h1v1h-1zM1076 611h1v1h-1zM1079 611h1v1h-1zM1083 611h1v1h-1zM1087 611h1v1h-1zM1090 611h1v1h-1zM1094 611h1v1h-1zM1097 611h1v1h-1zM1101 611h1v1h-1zM1105 611h1v1h-1zM1108 611h1v1h-1zM1112 611h1v1h-1zM1115 611h1v1h-1zM1119 611h1v1h-1zM1122 611h1v1h-1zM1126 611h1v1h-1z"/>
<path d="M1029 607h1v1h-1zM1033 607h1v1h-1zM1036 607h1v1h-1zM1040 607h1v1h-1zM1044 607h1v1h-1zM1047 607h1v1h-1zM1051 607h1v1h-1zM1054 607h1v1h-1zM1058 607h1v1h-1zM1062 607h1v1h-1zM1065 607h1v1h-1zM1069 607h1v1h-1zM1072 607h1v1h-1zM1076 607h1v1h-1zM1079 607h1v1h-1zM1083 607h1v1h-1zM1087 607h1v1h-1zM1090 607h1v1h-1zM1094 607h1v1h-1zM1097 607h1v1h-1zM1101 607h1v1h-1zM1105 607h1v1h-1zM1108 607h1v1h-1zM1112 607h1v1h-1zM1115 607h1v1h-1zM1119 607h1v1h-1zM1122 607h1v1h-1zM1126 607h1v1h-1z"/>
<path d="M1029 603h1v1h-1zM1033 603h1v1h-1zM1036 603h1v1h-1zM1040 603h1v1h-1zM1044 603h1v1h-1zM1047 603h1v1h-1zM1051 603h1v1h-1zM1054 603h1v1h-1zM1058 603h1v1h-1zM1062 603h1v1h-1zM1065 603h1v1h-1zM1069 603h1v1h-1zM1072 603h1v1h-1zM1076 603h1v1h-1zM1079 603h1v1h-1zM1083 603h1v1h-1zM1087 603h1v1h-1zM1090 603h1v1h-1zM1094 603h1v1h-1zM1097 603h1v1h-1zM1101 603h1v1h-1zM1105 603h1v1h-1zM1108 603h1v1h-1zM1112 603h1v1h-1zM1115 603h1v1h-1zM1119 603h1v1h-1zM1122 603h1v1h-1z"/>
<path d="M1033 600h1v1h-1zM1036 600h1v1h-1zM1040 600h1v1h-1zM1044 600h1v1h-1zM1047 600h1v1h-1zM1051 600h1v1h-1zM1054 600h1v1h-1zM1058 600h1v1h-1zM1062 600h1v1h-1zM1065 600h1v1h-1zM1069 600h1v1h-1zM1072 600h1v1h-1zM1076 600h1v1h-1zM1079 600h1v1h-1zM1083 600h1v1h-1zM1087 600h1v1h-1zM1090 600h1v1h-1zM1094 600h1v1h-1zM1097 600h1v1h-1zM1101 600h1v1h-1zM1105 600h1v1h-1zM1108 600h1v1h-1zM1112 600h1v1h-1zM1115 600h1v1h-1zM1119 600h1v1h-1zM1122 600h1v1h-1z"/>
<path d="M1033 596h1v1h-1zM1036 596h1v1h-1zM1040 596h1v1h-1zM1044 596h1v1h-1zM1047 596h1v1h-1zM1051 596h1v1h-1zM1054 596h1v1h-1zM1058 596h1v1h-1zM1062 596h1v1h-1zM1065 596h1v1h-1zM1069 596h1v1h-1zM1072 596h1v1h-1zM1076 596h1v1h-1zM1079 596h1v1h-1zM1083 596h1v1h-1zM1087 596h1v1h-1zM1090 596h1v1h-1zM1094 596h1v1h-1zM1097 596h1v1h-1zM1101 596h1v1h-1zM1105 596h1v1h-1zM1108 596h1v1h-1zM1112 596h1v1h-1zM1115 596h1v1h-1zM1119 596h1v1h-1z"/>
<path d="M1036 593h1v1h-1zM1040 593h1v1h-1zM1044 593h1v1h-1zM1047 593h1v1h-1zM1051 593h1v1h-1zM1054 593h1v1h-1zM1058 593h1v1h-1zM1062 593h1v1h-1zM1065 593h1v1h-1zM1069 593h1v1h-1zM1072 593h1v1h-1zM1076 593h1v1h-1zM1079 593h1v1h-1zM1083 593h1v1h-1zM1087 593h1v1h-1zM1090 593h1v1h-1zM1094 593h1v1h-1zM1097 593h1v1h-1zM1101 593h1v1h-1zM1105 593h1v1h-1zM1108 593h1v1h-1zM1112 593h1v1h-1zM1115 593h1v1h-1zM1119 593h1v1h-1z"/>
<path d="M1040 589h1v1h-1zM1044 589h1v1h-1zM1047 589h1v1h-1zM1051 589h1v1h-1zM1054 589h1v1h-1zM1058 589h1v1h-1zM1062 589h1v1h-1zM1065 589h1v1h-1zM1069 589h1v1h-1zM1072 589h1v1h-1zM1076 589h1v1h-1zM1079 589h1v1h-1zM1083 589h1v1h-1zM1087 589h1v1h-1zM1090 589h1v1h-1zM1094 589h1v1h-1zM1097 589h1v1h-1zM1101 589h1v1h-1zM1105 589h1v1h-1zM1108 589h1v1h-1zM1112 589h1v1h-1zM1115 589h1v1h-1z"/>
<path d="M1044 585h1v1h-1zM1047 585h1v1h-1zM1051 585h1v1h-1zM1054 585h1v1h-1zM1058 585h1v1h-1zM1062 585h1v1h-1zM1065 585h1v1h-1zM1069 585h1v1h-1zM1072 585h1v1h-1zM1076 585h1v1h-1zM1079 585h1v1h-1zM1083 585h1v1h-1zM1087 585h1v1h-1zM1090 585h1v1h-1zM1094 585h1v1h-1zM1097 585h1v1h-1zM1101 585h1v1h-1zM1105 585h1v1h-1zM1108 585h1v1h-1zM1112 585h1v1h-1z"/>
<path d="M1047 309h1v1h-1zM1094 309h1v1h-1zM1097 309h1v1h-1z"/>
<path d="M1044 306h1v1h-1zM1047 306h1v1h-1zM1051 306h1v1h-1zM1054 306h1v1h-1zM1058 306h1v1h-1zM1062 306h1v1h-1zM1065 306h1v1h-1zM1069 306h1v1h-1zM1072 306h1v1h-1zM1076 306h1v1h-1zM1079 306h1v1h-1zM1083 306h1v1h-1zM1087 306h1v1h-1zM1090 306h1v1h-1zM1094 306h1v1h-1zM1097 306h1v1h-1zM1101 306h1v1h-1zM1105 306h1v1h-1zM1108 306h1v1h-1zM1112 306h1v1h-1z"/>
<path d="M1040 302h1v1h-1zM1044 302h1v1h-1zM1047 302h1v1h-1zM1051 302h1v1h-1zM1054 302h1v1h-1zM1058 302h1v1h-1zM1062 302h1v1h-1zM1065 302h1v1h-1zM1069 302h1v1h-1zM1072 302h1v1h-1zM1076 302h1v1h-1zM1079 302h1v1h-1zM1083 302h1v1h-1zM1087 302h1v1h-1zM1090 302h1v1h-1zM1094 302h1v1h-1zM1097 302h1v1h-1zM1101 302h1v1h-1zM1105 302h1v1h-1zM1108 302h1v1h-1zM1112 302h1v1h-1zM1115 302h1v1h-1z"/>
<path d="M1036 298h1v1h-1zM1040 298h1v1h-1zM1044 298h1v1h-1zM1047 298h1v1h-1zM1051 298h1v1h-1zM1054 298h1v1h-1zM1058 298h1v1h-1zM1062 298h1v1h-1zM1065 298h1v1h-1zM1069 298h1v1h-1zM1072 298h1v1h-1zM1076 298h1v1h-1zM1079 298h1v1h-1zM1083 298h1v1h-1zM1087 298h1v1h-1zM1090 298h1v1h-1zM1094 298h1v1h-1zM1097 298h1v1h-1zM1101 298h1v1h-1zM1105 298h1v1h-1zM1108 298h1v1h-1zM1112 298h1v1h-1zM1115 298h1v1h-1zM1119 298h1v1h-1z"/>
<path d="M1033 295h1v1h-1zM1036 295h1v1h-1zM1040 295h1v1h-1zM1044 295h1v1h-1zM1047 295h1v1h-1zM1051 295h1v1h-1zM1054 295h1v1h-1zM1058 295h1v1h-1zM1062 295h1v1h-1zM1065 295h1v1h-1zM1069 295h1v1h-1zM1072 295h1v1h-1zM1076 295h1v1h-1zM1079 295h1v1h-1zM1083 295h1v1h-1zM1087 295h1v1h-1zM1090 295h1v1h-1zM1094 295h1v1h-1zM1097 295h1v1h-1zM1101 295h1v1h-1zM1105 295h1v1h-1zM1108 295h1v1h-1zM1112 295h1v1h-1zM1115 295h1v1h-1zM1119 295h1v1h-1zM1122 295h1v1h-1z"/>
<path d="M1033 291h1v1h-1zM1036 291h1v1h-1zM1040 291h1v1h-1zM1044 291h1v1h-1zM1047 291h1v1h-1zM1051 291h1v1h-1zM1054 291h1v1h-1zM1058 291h1v1h-1zM1062 291h1v1h-1zM1065 291h1v1h-1zM1069 291h1v1h-1zM1072 291h1v1h-1zM1076 291h1v1h-1zM1079 291h1v1h-1zM1083 291h1v1h-1zM1087 291h1v1h-1zM1090 291h1v1h-1zM1094 291h1v1h-1zM1097 291h1v1h-1zM1101 291h1v1h-1zM1105 291h1v1h-1zM1108 291h1v1h-1zM1112 291h1v1h-1zM1115 291h1v1h-1zM1119 291h1v1h-1zM1122 291h1v1h-1z"/>
<path d="M1029 288h1v1h-1zM1033 288h1v1h-1zM1036 288h1v1h-1zM1040 288h1v1h-1zM1044 288h1v1h-1zM1047 288h1v1h-1zM1051 288h1v1h-1zM1054 288h1v1h-1zM1058 288h1v1h-1zM1062 288h1v1h-1zM1065 288h1v1h-1zM1069 288h1v1h-1zM1072 288h1v1h-1zM1076 288h1v1h-1zM1079 288h1v1h-1zM1083 288h1v1h-1zM1087 288h1v1h-1zM1090 288h1v1h-1zM1094 288h1v1h-1zM1097 288h1v1h-1zM1101 288h1v1h-1zM1105 288h1v1h-1zM1108 288h1v1h-1zM1112 288h1v1h-1zM1115 288h1v1h-1zM1119 288h1v1h-1zM1122 288h1v1h-1zM1126 288h1v1h-1z"/>
<path d="M1029 284h1v1h-1zM1033 284h1v1h-1zM1036 284h1v1h-1zM1040 284h1v1h-1zM1044 284h1v1h-1zM1047 284h1v1h-1zM1051 284h1v1h-1zM1054 284h1v1h-1zM1058 284h1v1h-1zM1062 284h1v1h-1zM1065 284h1v1h-1zM1069 284h1v1h-1zM1072 284h1v1h-1zM1076 284h1v1h-1zM1079 284h1v1h-1zM1083 284h1v1h-1zM1087 284h1v1h-1zM1090 284h1v1h-1zM1094 284h1v1h-1zM1097 284h1v1h-1zM1101 284h1v1h-1zM1105 284h1v1h-1zM1108 284h1v1h-1zM1112 284h1v1h-1zM1115 284h1v1h-1zM1119 284h1v1h-1zM1122 284h1v1h-1zM1126 284h1v1h-1z"/>
<path d="M1029 280h1v1h-1zM1033 280h1v1h-1zM1036 280h1v1h-1zM1040 280h1v1h-1zM1044 280h1v1h-1zM1047 280h1v1h-1zM1051 280h1v1h-1zM1054 280h1v1h-1zM1058 280h1v1h-1zM1062 280h1v1h-1zM1065 280h1v1h-1zM1069 280h1v1h-1zM1072 280h1v1h-1zM1076 280h1v1h-1zM1079 280h1v1h-1zM1083 280h1v1h-1zM1087 280h1v1h-1zM1090 280h1v1h-1zM1094 280h1v1h-1zM1097 280h1v1h-1zM1101 280h1v1h-1zM1105 280h1v1h-1zM1108 280h1v1h-1zM1112 280h1v1h-1zM1115 280h1v1h-1zM1119 280h1v1h-1zM1122 280h1v1h-1zM1126 280h1v1h-1z"/>
<path d="M1026 277h1v1h-1zM1029 277h1v1h-1zM1033 277h1v1h-1zM1036 277h1v1h-1zM1040 277h1v1h-1zM1044 277h1v1h-1zM1047 277h1v1h-1zM1051 277h1v1h-1zM1054 277h1v1h-1zM1058 277h1v1h-1zM1062 277h1v1h-1zM1065 277h1v1h-1zM1069 277h1v1h-1zM1072 277h1v1h-1zM1076 277h1v1h-1zM1079 277h1v1h-1zM1083 277h1v1h-1zM1087 277h1v1h-1zM1090 277h1v1h-1zM1094 277h1v1h-1zM1097 277h1v1h-1zM1101 277h1v1h-1zM1105 277h1v1h-1zM1108 277h1v1h-1zM1112 277h1v1h-1zM1115 277h1v1h-1zM1119 277h1v1h-1zM1122 277h1v1h-1zM1126 277h1v1h-1zM1130 277h1v1h-1z"/>
<path d="M1026 273h1v1h-1zM1029 273h1v1h-1zM1033 273h1v1h-1zM1036 273h1v1h-1zM1040 273h1v1h-1zM1044 273h1v1h-1zM1047 273h1v1h-1zM1051 273h1v1h-1zM1054 273h1v1h-1zM1058 273h1v1h-1zM1062 273h1v1h-1zM1065 273h1v1h-1zM1069 273h1v1h-1zM1072 273h1v1h-1zM1076 273h1v1h-1zM1079 273h1v1h-1zM1083 273h1v1h-1zM1087 273h1v1h-1zM1090 273h1v1h-1zM1094 273h1v1h-1zM1097 273h1v1h-1zM1101 273h1v1h-1zM1105 273h1v1h-1zM1108 273h1v1h-1zM1112 273h1v1h-1zM1115 273h1v1h-1zM1119 273h1v1h-1zM1122 273h1v1h-1zM1126 273h1v1h-1zM1130 273h1v1h-1z"/>
<path d="M1026 270h1v1h-1zM1029 270h1v1h-1zM1033 270h1v1h-1zM1036 270h1v1h-1zM1040 270h1v1h-1zM1044 270h1v1h-1zM1047 270h1v1h-1zM1051 270h1v1h-1zM1054 270h1v1h-1zM1058 270h1v1h-1zM1062 270h1v1h-1zM1065 270h1v1h-1zM1069 270h1v1h-1zM1072 270h1v1h-1zM1076 270h1v1h-1zM1079 270h1v1h-1zM1083 270h1v1h-1zM1087 270h1v1h-1zM1090 270h1v1h-1zM1094 270h1v1h-1zM1097 270h1v1h-1zM1101 270h1v1h-1zM1105 270h1v1h-1zM1108 270h1v1h-1zM1112 270h1v1h-1zM1115 270h1v1h-1zM1119 270h1v1h-1zM1122 270h1v1h-1zM1126 270h1v1h-1zM1130 270h1v1h-1z"/>
<path d="M1026 266h1v1h-1zM1029 266h1v1h-1zM1033 266h1v1h-1zM1036 266h1v1h-1zM1040 266h1v1h-1zM1044 266h1v1h-1zM1047 266h1v1h-1zM1051 266h1v1h-1zM1054 266h1v1h-1zM1058 266h1v1h-1zM1062 266h1v1h-1zM1065 266h1v1h-1zM1069 266h1v1h-1zM1072 266h1v1h-1zM1076 266h1v1h-1zM1079 266h1v1h-1zM1083 266h1v1h-1zM1087 266h1v1h-1zM1090 266h1v1h-1zM1094 266h1v1h-1zM1097 266h1v1h-1zM1101 266h1v1h-1zM1105 266h1v1h-1zM1108 266h1v1h-1zM1112 266h1v1h-1zM1115 266h1v1h-1zM1119 266h1v1h-1zM1122 266h1v1h-1zM1126 266h1v1h-1zM1130 266h1v1h-1z"/>
<path d="M1029 263h1v1h-1zM1033 263h1v1h-1zM1036 263h1v1h-1zM1040 263h1v1h-1zM1044 263h1v1h-1zM1047 263h1v1h-1zM1051 263h1v1h-1zM1054 263h1v1h-1zM1058 263h1v1h-1zM1062 263h1v1h-1zM1065 263h1v1h-1zM1069 263h1v1h-1zM1072 263h1v1h-1zM1076 263h1v1h-1zM1079 263h1v1h-1zM1083 263h1v1h-1zM1087 263h1v1h-1zM1090 263h1v1h-1zM1094 263h1v1h-1zM1097 263h1v1h-1zM1101 263h1v1h-1zM1105 263h1v1h-1zM1108 263h1v1h-1zM1112 263h1v1h-1zM1115 263h1v1h-1zM1119 263h1v1h-1zM1122 263h1v1h-1zM1126 263h1v1h-1z"/>
<path d="M1029 259h1v1h-1zM1033 259h1v1h-1zM1036 259h1v1h-1zM1040 259h1v1h-1zM1044 259h1v1h-1zM1047 259h1v1h-1zM1051 259h1v1h-1zM1054 259h1v1h-1zM1058 259h1v1h-1zM1062 259h1v1h-1zM1065 259h1v1h-1zM1069 259h1v1h-1zM1072 259h1v1h-1zM1076 259h1v1h-1zM1079 259h1v1h-1zM1083 259h1v1h-1zM1087 259h1v1h-1zM1090 259h1v1h-1zM1094 259h1v1h-1zM1097 259h1v1h-1zM1101 259h1v1h-1zM1105 259h1v1h-1zM1108 259h1v1h-1zM1112 259h1v1h-1zM1115 259h1v1h-1zM1119 259h1v1h-1zM1122 259h1v1h-1zM1126 259h1v1h-1z"/>
<path d="M1029 255h1v1h-1zM1033 255h1v1h-1zM1036 255h1v1h-1zM1040 255h1v1h-1zM1044 255h1v1h-1zM1047 255h1v1h-1zM1051 255h1v1h-1zM1054 255h1v1h-1zM1058 255h1v1h-1zM1062 255h1v1h-1zM1065 255h1v1h-1zM1069 255h1v1h-1zM1072 255h1v1h-1zM1076 255h1v1h-1zM1079 255h1v1h-1zM1083 255h1v1h-1zM1087 255h1v1h-1zM1090 255h1v1h-1zM1094 255h1v1h-1zM1097 255h1v1h-1zM1101 255h1v1h-1zM1105 255h1v1h-1zM1108 255h1v1h-1zM1112 255h1v1h-1zM1115 255h1v1h-1zM1119 255h1v1h-1zM1122 255h1v1h-1zM1126 255h1v1h-1z"/>
<path d="M1033 252h1v1h-1zM1036 252h1v1h-1zM1040 252h1v1h-1zM1044 252h1v1h-1zM1047 252h1v1h-1zM1051 252h1v1h-1zM1054 252h1v1h-1zM1058 252h1v1h-1zM1062 252h1v1h-1zM1065 252h1v1h-1zM1069 252h1v1h-1zM1072 252h1v1h-1zM1076 252h1v1h-1zM1079 252h1v1h-1zM1083 252h1v1h-1zM1087 252h1v1h-1zM1090 252h1v1h-1zM1094 252h1v1h-1zM1097 252h1v1h-1zM1101 252h1v1h-1zM1105 252h1v1h-1zM1108 252h1v1h-1zM1112 252h1v1h-1zM1115 252h1v1h-1zM1119 252h1v1h-1zM1122 252h1v1h-1z"/>
<path d="M1033 248h1v1h-1zM1036 248h1v1h-1zM1040 248h1v1h-1zM1044 248h1v1h-1zM1047 248h1v1h-1zM1051 248h1v1h-1zM1054 248h1v1h-1zM1058 248h1v1h-1zM1062 248h1v1h-1zM1065 248h1v1h-1zM1069 248h1v1h-1zM1072 248h1v1h-1zM1076 248h1v1h-1zM1079 248h1v1h-1zM1083 248h1v1h-1zM1087 248h1v1h-1zM1090 248h1v1h-1zM1094 248h1v1h-1zM1097 248h1v1h-1zM1101 248h1v1h-1zM1105 248h1v1h-1zM1108 248h1v1h-1zM1112 248h1v1h-1zM1115 248h1v1h-1zM1119 248h1v1h-1zM1122 248h1v1h-1z"/>
<path d="M1036 245h1v1h-1zM1040 245h1v1h-1zM1044 245h1v1h-1zM1047 245h1v1h-1zM1051 245h1v1h-1zM1054 245h1v1h-1zM1058 245h1v1h-1zM1062 245h1v1h-1zM1065 245h1v1h-1zM1069 245h1v1h-1zM1072 245h1v1h-1zM1076 245h1v1h-1zM1079 245h1v1h-1zM1083 245h1v1h-1zM1087 245h1v1h-1zM1090 245h1v1h-1zM1094 245h1v1h-1zM1097 245h1v1h-1zM1101 245h1v1h-1zM1105 245h1v1h-1zM1108 245h1v1h-1zM1112 245h1v1h-1zM1115 245h1v1h-1zM1119 245h1v1h-1z"/>
<path d="M1036 241h1v1h-1zM1040 241h1v1h-1zM1044 241h1v1h-1zM1047 241h1v1h-1zM1051 241h1v1h-1zM1054 241h1v1h-1zM1058 241h1v1h-1zM1062 241h1v1h-1zM1065 241h1v1h-1zM1069 241h1v1h-1zM1072 241h1v1h-1zM1076 241h1v1h-1zM1079 241h1v1h-1zM1083 241h1v1h-1zM1087 241h1v1h-1zM1090 241h1v1h-1zM1094 241h1v1h-1zM1097 241h1v1h-1zM1101 241h1v1h-1zM1105 241h1v1h-1zM1108 241h1v1h-1zM1112 241h1v1h-1zM1115 241h1v1h-1zM1119 241h1v1h-1z"/>
<path d="M1040 237h1v1h-1zM1044 237h1v1h-1zM1047 237h1v1h-1zM1051 237h1v1h-1zM1054 237h1v1h-1zM1058 237h1v1h-1zM1062 237h1v1h-1zM1065 237h1v1h-1zM1069 237h1v1h-1zM1072 237h1v1h-1zM1076 237h1v1h-1zM1079 237h1v1h-1zM1083 237h1v1h-1zM1087 237h1v1h-1zM1090 237h1v1h-1zM1094 237h1v1h-1zM1097 237h1v1h-1zM1101 237h1v1h-1zM1105 237h1v1h-1zM1108 237h1v1h-1zM1112 237h1v1h-1zM1115 237h1v1h-1z"/>
<path d="M1044 234h1v1h-1zM1047 234h1v1h-1zM1051 234h1v1h-1zM1054 234h1v1h-1zM1058 234h1v1h-1zM1062 234h1v1h-1zM1065 234h1v1h-1zM1069 234h1v1h-1zM1072 234h1v1h-1zM1076 234h1v1h-1zM1079 234h1v1h-1zM1083 234h1v1h-1zM1087 234h1v1h-1zM1090 234h1v1h-1zM1094 234h1v1h-1zM1097 234h1v1h-1zM1101 234h1v1h-1zM1105 234h1v1h-1zM1108 234h1v1h-1zM1112 234h1v1h-1z"/>
<path d="M1047 230h1v1h-1zM1051 230h1v1h-1zM1054 230h1v1h-1zM1058 230h1v1h-1zM1062 230h1v1h-1zM1065 230h1v1h-1zM1069 230h1v1h-1zM1072 230h1v1h-1zM1076 230h1v1h-1zM1079 230h1v1h-1zM1083 230h1v1h-1zM1087 230h1v1h-1zM1090 230h1v1h-1zM1094 230h1v1h-1zM1097 230h1v1h-1zM1101 230h1v1h-1zM1105 230h1v1h-1zM1108 230h1v1h-1z"/>
<path d="M1051 227h1v1h-1zM1054 227h1v1h-1zM1058 227h1v1h-1zM1062 227h1v1h-1zM1065 227h1v1h-1zM1069 227h1v1h-1zM1072 227h1v1h-1zM1076 227h1v1h-1zM1079 227h1v1h-1zM1083 227h1v1h-1zM1087 227h1v1h-1zM1090 227h1v1h-1zM1094 227h1v1h-1zM1097 227h1v1h-1zM1101 227h1v1h-1zM1105 227h1v1h-1z"/>
<path d="M1058 223h1v1h-1zM1062 223h1v1h-1zM1065 223h1v1h-1zM1069 223h1v1h-1zM1072 223h1v1h-1zM1076 223h1v1h-1zM1079 223h1v1h-1zM1083 223h1v1h-1zM1087 223h1v1h-1zM1090 223h1v1h-1zM1094 223h1v1h-1zM1097 223h1v1h-1z"/>
<path d="M1069 220h1v1h-1zM1072 220h1v1h-1zM1076 220h1v1h-1zM1079 220h1v1h-1zM1083 220h1v1h-1zM1087 220h1v1h-1z"/>
</g>
</g>
<g id="matplotlib.axis_1">
<g id="xtick_16">
<g id="line2d_19">
<defs>
<path id="m969f74660d" d="M 0 0 
L 0 3.5 
" style="stroke: #000000; stroke-width: 0.8"/>
</defs>
<g>
<use href="#m969f74660d" x="570.6" y="543.96" style="stroke: #000000; stroke-width: 0.8"/>
</g>
</g>
<g id="text_22" transform="translate(.72 .72)">
<text style="font-size: 10px; text-anchor: middle" x="570.616744" y="558.198437">−80</text>
</g>
</g>
<g id="xtick_17">
<g id="line2d_20">
<g>
<use href="#m969f74660d" x="622.44" y="543.96" style="stroke: #000000; stroke-width: 0.8"/>
</g>
</g>
<g id="text_23" transform="translate(.72 .72)">
<text style="font-size: 10px; text-anchor: middle" x="622.272558" y="558.198437">−60</text>
</g>
</g>
<g id="xtick_18">
<g id="line2d_21">
<g>
<use href="#m969f74660d" x="674.28" y="543.96" style="stroke: #000000; stroke-width: 0.8"/>
</g>
</g>
<g id="text_24" transform="translate(.72 .72)">
<text style="font-size: 10px; text-anchor: middle" x="673.928372" y="558.198437">−40</text>
</g>
</g>
<g id="xtick_19">
<g id="line2d_22">
<g>
<use href="#m969f74660d" x="725.4" y="543.96" style="stroke: #000000; stroke-width: 0.8"/>
</g>
</g>
<g id="text_25" transform="translate(.72 .72)">
<text style="font-size: 10px; text-anchor: middle" x="725.584186" y="558.198437">−20</text>
</g>
</g>
<g id="xtick_20">
<g id="line2d_23">
<g>
<use href="#m969f74660d" x="777.24" y="543.96" style="stroke: #000000; stroke-width: 0.8"/>
</g>
</g>
<g id="text_26" transform="translate(.72 .72)">
<text style="font-size: 10px; text-anchor: middle" x="777.24" y="558.198437">0</text>
</g>
</g>
<g id="xtick_21">
<g id="line2d_24">
<g>
<use href="#m969f74660d" x="829.08" y="543.96" style="stroke: #000000; stroke-width: 0.8"/>
</g>
</g>
<g id="text_27" transform="translate(.72 .72)">
<text style="font-size: 10px; text-anchor: middle" x="828.895814" y="558.198437">20</text>
</g>
</g>
<g id="xtick_22">
<g id="line2d_25">
<g>
<use href="#m969f74660d" x="880.2" y="543.96" style="stroke: #000000; stroke-width: 0.8"/>
</g>
</g>
<g id="text_28" transform="translate(.72 .72)">
<text style="font-size: 10px; text-anchor: middle" x="880.551628" y="558.198437">40</text>
</g>
</g>
<g id="xtick_23">
<g id="line2d_26">
<g>
<use href="#m969f74660d" x="932.04" y="543.96" style="stroke: #000000; stroke-width: 0.8"/>
</g>
</g>
<g id="text_29" transform="translate(.72 .72)">
<text style="font-size: 10px; text-anchor: middle" x="932.207442" y="558.198437">60</text>
</g>
</g>
<g id="xtick_24">
<g id="line2d_27">
<g>
<use href="#m969f74660d" x="983.88" y="543.96" style="stroke: #000000; stroke-width: 0.8"/>
</g>
</g>
<g id="text_30" transform="translate(.72 .72)">
<text style="font-size: 10px; text-anchor: middle" x="983.863256" y="558.198437">80</text>
</g>
</g>
<g id="text_31" transform="translate(0 .65)">
<text style="font-size: 10px; text-anchor: middle" x="777.24" y="571.876562">Offset (pixels)</text>
</g>
</g>
<g id="matplotlib.axis_2">
<g id="ytick_1">
<g id="line2d_28">
<defs>
<path id="m333840df84" d="M 0 0 
L -3.5 0 
" style="stroke: #000000; stroke-width: 0.8"/>
</defs>
<g>
<use href="#m333840df84" x="555.48" y="528.12" style="stroke: #000000; stroke-width: 0.8"/>
</g>
</g>
<g id="text_32" transform="translate(.43 0)">
<text style="font-size: 10px; text-anchor: end" x="548.12" y="531.902475">−80</text>
</g>
</g>
<g id="ytick_2">
<g id="line2d_29">
<g>
<use href="#m333840df84" x="555.48" y="476.28" style="stroke: #000000; stroke-width: 0.8"/>
</g>
</g>
<g id="text_33" transform="translate(.43 0)">
<text style="font-size: 10px; text-anchor: end" x="548.12" y="480.246661">−60</text>
</g>
</g>
<g id="ytick_3">
<g id="line2d_30">
<g>
<use href="#m333840df84" x="555.48" y="424.44" style="stroke: #000000; stroke-width: 0.8"/>
</g>
</g>
<g id="text_34" transform="translate(.43 0)">
<text style="font-size: 10px; text-anchor: end" x="548.12" y="428.590847">−40</text>
</g>
</g>
<g id="ytick_4">
<g id="line2d_31">
<g>
<use href="#m333840df84" x="555.48" y="373.32" style="stroke: #000000; stroke-width: 0.8"/>
</g>
</g>
<g id="text_35" transform="translate(.43 0)">
<text style="font-size: 10px; text-anchor: end" x="548.12" y="376.935033">−20</text>
</g>
</g>
<g id="ytick_5">
<g id="line2d_32">
<g>
<use href="#m333840df84" x="555.48" y="321.48" style="stroke: #000000; stroke-width: 0.8"/>
</g>
</g>
<g id="text_36" transform="translate(.43 0)">
<text style="font-size: 10px; text-anchor: end" x="548.12" y="325.279219">0</text>
</g>
</g>
<g id="ytick_6">
<g id="line2d_33">
<g>
<use href="#m333840df84" x="555.48" y="269.64" style="stroke: #000000; stroke-width: 0.8"/>
</g>
</g>
<g id="text_37" transform="translate(.43 0)">
<text style="font-size: 10px; text-anchor: end" x="548.12" y="273.623405">20</text>
</g>
</g>
<g id="ytick_7">
<g id="line2d_34">
<g>
<use href="#m333840df84" x="555.48" y="218.52" style="stroke: #000000; stroke-width: 0.8"/>
</g>
</g>
<g id="text_38" transform="translate(.43 0)">
<text style="font-size: 10px; text-anchor: end" x="548.12" y="221.967591">40</text>
</g>
</g>
<g id="ytick_8">
<g id="line2d_35">
<g>
<use href="#m333840df84" x="555.48" y="166.68" style="stroke: #000000; stroke-width: 0.8"/>
</g>
</g>
<g id="text_39" transform="translate(.43 0)">
<text style="font-size: 10px; text-anchor: end" x="548.12" y="170.311777">60</text>
</g>
</g>
<g id="ytick_9">
<g id="line2d_36">
<g>
<use href="#m333840df84" x="555.48" y="114.84" style="stroke: #000000; stroke-width: 0.8"/>
</g>
</g>
<g id="text_40" transform="translate(.43 0)">
<text style="font-size: 10px; text-anchor: end" x="548.12" y="118.655963">80</text>
</g>
</g>
<g id="text_41" transform="translate(-1.37 0)">
<text style="font-size: 10px; text-anchor: middle" x="520.935625" y="321.48" transform="rotate(-90 520.935625 321.48)">Offset (pixels)</text>
</g>
</g>
<g transform="scale(.72)">
<g id="contours" fill="none" stroke-width="2.08" stroke-linejoin="round" font-family="'DejaVu Sans', 'Liberation Sans', sans-serif">
<path d="M1023.6 257.5L1024 256 1024.5 254.5 1025 253 1025.5 251.6" stroke="#ffee11"/>
<path d="M1106.4 223.3L1107.6 224 1108.7 224.8 1109.9 225.6" stroke="#ffee11"/>
<path d="M1133.7 269.7L1133.7 271.1 1133.7 272.4 1133.6 273.8" stroke="#ffee11"/>
<path d="M1120.1 307.1L1119.2 308.1 1118.3 308.9 1117.4 309.6" stroke="#ffee11"/>
<path d="M1130.1 290.2L1129.5 291.6 1128.9 293" stroke="#ffee11"/>
<path d="M1032 238.9L1033 237.6 1034 236.3 1035 235 1036.1 233.8 1037.2 232.6" stroke="#ffee11"/>
<path d="M1026.9 249L1027.6 247.4 1028.3 245.9 1029.1 244.4" stroke="#ffb44b"/>
<path d="M1032 240.2L1033 238.8 1034 237.4 1035 236.1 1036.1 234.8 1037.3 233.6 1038.4 232.3" stroke="#ffb44b"/>
<path d="M1050.4 223.2L1051.8 222.4 1053.4 221.6 1054.9 220.9" stroke="#ffb44b"/>
<path d="M1101 221.1L1102.2 221.7 1103.4 222.3 1104.6 223" stroke="#ffb44b"/>
<path d="M1107.1 224.7L1108.5 225.6 1109.8 226.5 1111.1 227.5 1112.4 228.5 1113.6 229.5" stroke="#ffb44b"/>
<path d="M1129.5 252L1130 253.3 1130.4 254.6 1130.8 255.9" stroke="#ffb44b"/>
<path d="M1025.8 290.2L1025.3 289 1024.9 287.7 1024.5 286.4" stroke="#ffb44b"/>
<path d="M1033.6 304.4L1032.8 303.4 1032 302.3 1031.3 301.2" stroke="#ffb44b"/>
<path d="M1125.8 298.5L1125.1 299.6 1124.4 300.8 1123.6 301.9" stroke="#ffb44b"/>
<path d="M1129.6 290L1129.1 291.4 1128.5 292.9" stroke="#ffb44b"/>
<path d="M1059.2 219.4L1060.7 218.9 1062.1 218.4" stroke="#ffb44b"/>
<path d="M1095.8 318.2L1104.3 316" stroke="#ffee11"/>
<path d="M1040 313.4L1044.5 314.4" stroke="#ffb44b"/>
<path d="M1053.4 315.4L1059.6 315.9" stroke="#ffb44b"/>
<path d="M1103.4 315.5L1105.2 315.1" stroke="#ffb44b"/>
<path d="M1110.5 314.3L1115 313" stroke="#ffb44b"/>
<path d="M1133.7 619.1L1133.8 620.9 1133.8 622.7 1133.8 624.5 1133.7 626.3" stroke="#ffee11"/>
<path d="M1043.5 667.5L1042 666.3 1040.6 665.1 1039.2 663.8 1037.8 662.5 1036.4 661.1 1035.2 659.7 1033.9 658.2" stroke="#ffee11"/>
<path d="M1124 654.2L1122.9 655.8 1121.8 657.4 1120.5 658.9 1119.3 660.3 1117.9 661.8 1116.6 663.1 1115.1 664.5 1113.7 665.7 1112.2 667" stroke="#ffee11"/>
<path d="M1029.3 651.4L1028.6 650.2 1027.9 649 1027.3 647.8" stroke="#ffee11"/>
<path d="M1035.5 585.9L1036.5 585.2 1037.6 584.8 1038.7 584.5 1039.9 584.4" stroke="#ffee11"/>
<path d="M1090.6 677.1L1089.1 677.4 1087.6 677.7" stroke="#ffee11"/>
<path d="M1024.8 640.4L1024.4 639.1 1024 637.8 1023.6 636.5" stroke="#ffb44b"/>
<path d="M1029.8 651.1L1029.1 649.9 1028.5 648.7 1027.8 647.5" stroke="#ffb44b"/>
<path d="M1130.5 639.5L1130.1 640.7 1129.6 642 1129.2 643.3" stroke="#ffb44b"/>
<path d="M1127.7 646.6L1127.1 647.8 1126.5 649 1125.8 650.2" stroke="#ffb44b"/>
<path d="M1027.4 598.7L1028.1 597.2 1029 595.7 1029.8 594.3" stroke="#ffb44b"/>
<path d="M1023.7 608.8L1024 607.5 1024.4 606.2 1024.8 605" stroke="#ffb44b"/>
<path d="M1125.6 594.9L1126.2 596.1 1126.9 597.2 1127.5 598.4" stroke="#ffb44b"/>
<path d="M1128.7 601.2L1129.4 602.8 1130 604.4 1130.5 606" stroke="#ffb44b"/>
<path d="M1035.8 586.7L1037 585.7 1038.3 585 1039.5 584.6 1040.9 584.4" stroke="#ffb44b"/>
<path d="M1051.5 577.8L1054.3 578" stroke="#ffee11"/>
<path d="M1063.5 576.4L1069 576.3" stroke="#ffee11"/>
<path d="M1079 576.2L1083.5 576.2" stroke="#ffee11"/>
<path d="M1087 576.4L1098 576.6" stroke="#ffee11"/>
<path d="M1103.4 578L1107 578.8" stroke="#ffee11"/>
<path d="M1050.3 580.2L1052.5 580.2" stroke="#ffb44b"/>
<path d="M1098.9 580.2L1108.8 580.9" stroke="#ffb44b"/>
<path d="M1114.5 581.5L1121.2 585.5" stroke="#ffb44b"/>
<path d="M1023.6 266.9L1023.8 264.3 1024.2 261.7 1024.8 259.2 1025.4 256.7 1026.2 254.2 1027 251.7 1028 249.3 1029.2 246.9 1030.4 244.6 1031.7 242.4 1033.2 240.2" stroke="#ff7a85"/>
<path d="M1034.2 238.7L1035.7 236.8 1037.3 235 1038.9 233.3 1040.7 231.6 1042.5 230 1044.3 228.4" stroke="#ff7a85"/>
<path d="M1046.4 226.9L1048.7 225.4 1051.1 223.9 1053.6 222.6 1056.1 221.4" stroke="#ff7a85"/>
<path d="M1061.2 219.6L1063.8 218.8 1066.4 218.2" stroke="#ff7a85"/>
<path d="M1089 218.2L1091.2 218.7 1093.5 219.3" stroke="#ff7a85"/>
<path d="M1099.4 221.5L1101.3 222.4 1103.3 223.4 1105.2 224.4" stroke="#ff7a85"/>
<path d="M1129.8 256L1130.4 258.2 1130.9 260.3 1131.3 262.5" stroke="#ff7a85"/>
<path d="M1131.9 268.2L1132 270.4 1132 272.6 1131.9 274.8" stroke="#ff7a85"/>
<path d="M1130.6 283.6L1129.9 286.3 1129 289 1128 291.6 1126.9 294.2 1125.7 296.7 1124.3 299.1 1122.8 301.4 1121.2 303.6 1119.4 305.8 1117.6 307.7 1115.6 309.4 1113.6 310.5 1111.4 310.9 1109.2 311.1 1106.9 311.2 1104.5 311.2 1102 311.2 1099.5 311.2 1098.5 311.2" stroke="#ff7a85"/>
<path d="M1056.1 311.2L1055.9 311.2 1053.3 311.2 1050.8 311.2 1048.4 311.2 1046.1 311.1 1043.9 310.9 1041.7 310.4 1039.7 309.3 1037.7 307.6 1035.9 305.6 1034.1 303.5 1032.5 301.2 1031 298.9 1029.6 296.5 1028.4 294 1027.3 291.4 1026.3 288.8 1025.5 286.1 1024.8 283.4 1024.2 280.6 1023.8 277.9" stroke="#ff7a85"/>
<path d="M1131.9 618.4L1132.1 620.6 1132.1 622.8 1132.1 625 1131.9 627.2" stroke="#ff7a85"/>
<path d="M1130.9 634L1130.3 636.6 1129.6 639.1 1128.7 641.7 1127.7 644.1 1126.6 646.6 1125.4 648.9 1124.1 651.3 1122.6 653.5 1121 655.7 1119.4 657.7 1117.6 659.7 1115.8 661.7 1113.8 663.5 1111.8 665.2 1109.7 666.8" stroke="#ff7a85"/>
<path d="M1108.4 667.7L1106.2 669.1 1104 670.5" stroke="#ff7a85"/>
<path d="M1058.2 673.8L1056 672.9 1053.8 671.9" stroke="#ff7a85"/>
<path d="M1069.7 676.8L1067.6 676.4 1065.6 676" stroke="#ff7a85"/>
<path d="M1051 670.5L1048.6 669.1 1046.3 667.5 1044.1 665.9 1041.9 664.2 1039.9 662.3 1037.9 660.3 1036.1 658.3 1034.3 656.1 1032.7 653.9 1031.1 651.6 1029.7 649.2 1028.5 646.7 1027.3 644.2 1026.3 641.6 1025.4 639 1024.6 636.3 1024 633.6 1023.5 630.9 1023.2 628.2 1023 625.4" stroke="#ff7a85"/>
<path d="M1088.2 584.2L1088.4 584.2 1091.1 584.2 1093.8 584.2 1096.4 584.2 1098.9 584.2 1101.4 584.2 1103.9 584.2 1106.3 584.2 1108.6 584.2 1110.8 584.2 1112.9 584.4 1115 584.8 1116.9 585.8 1118.8 587.4 1120.5 589.4 1122.2 591.5 1123.7 593.8 1125.1 596.1 1126.4 598.5 1127.6 601 1128.6 603.5 1129.5 606.1 1130.3 608.7 1130.9 611.4" stroke="#ff7a85"/>
<path d="M1023.3 616.6L1023.6 613.8 1024.2 611 1024.9 608.2 1025.7 605.5 1026.7 602.9 1027.8 600.3 1029 597.7 1030.4 595.3 1031.9 592.9 1033.5 590.6 1035.3 588.5 1037.1 586.6 1039.1 585.2 1041.1 584.6 1043.3 584.3 1045.6 584.2 1045.8 584.2" stroke="#ff7a85"/>
<path d="M1081.1 217.5L1086.4 219.3 1090.9 220.6 1095.4 223.3 1099.8 227.3 1104.3 231.8 1106.1 235.6 1103.4 236 1098.9 234 1088.2 231.5 1077.5 231.2 1065.9 231.8 1057.9 233.6 1048.5 235.4 1053.4 230.9" stroke="#e83ec1"/>
<path d="M1102 665.5L1106.5 661.1 1102.5 659.3 1095.4 662 1081.1 663.9 1068.6 663.3 1057.9 661.5 1052.1 659.3 1049.4 661.1 1053.4 666.4 1058.8 670.9 1065 674" stroke="#e83ec1"/>
<path d="M1077.2 361L1078.4 362 1077.4 363.2 1076.6 362 1077.2 361" stroke="#ffee11" style="stroke-linecap:round"/>
<path d="M1077.3 366.6L1078.5 369.5 1077.5 371.6 1076.4 369.3 1077.3 366.6" stroke="#ffee11" style="stroke-linecap:round"/>
<path d="M1080.6 375.6L1082.3 376.2" stroke="#ffee11" style="stroke-linecap:round"/>
<path d="M1077.3 378.2L1074.2 385 1074.8 389.5 1077 392.8 1079.9 386 1079.5 381.5 1077.3 378.2" stroke="#ffee11" style="stroke-linecap:round"/>
<path d="M1077 392.8L1075 396.5 1077.8 399 1080.8 396.6 1077.9 393.6" stroke="#ffee11" style="stroke-linecap:round"/>
<path d="M1073.9 400.6L1074.6 401.5" stroke="#ffee11" style="stroke-linecap:round"/>
<path d="M1081.6 403.6L1078.1 403.6 1074.2 411" stroke="#ffee11" style="stroke-linecap:round"/>
<path d="M1079.4 404.5L1079.6 412 1080.3 419.5 1081 420.6" stroke="#ffee11" style="stroke-linecap:round"/>
<path d="M1074.3 416.6L1075.3 419.5 1075 423.5" stroke="#ffee11" style="stroke-linecap:round"/>
<path d="M1080.4 424.2L1078.6 427.2 1079.6 430.5 1079.8 434.2" stroke="#ffee11" style="stroke-linecap:round"/>
<path d="M1075.6 428.2L1075.9 432.4" stroke="#ffee11" style="stroke-linecap:round"/>
<g stroke="none">
<text transform="translate(1075 319.1) rotate(0)" y="4.06" text-anchor="middle" fill="#ffee11" font-size="11.11">0.800</text>
<text transform="translate(1081.3 315.8) rotate(-1.5)" y="4.06" text-anchor="middle" fill="#ffb44b" font-size="11.11">1.600</text>
<text transform="translate(1077.5 577.5) rotate(0)" y="4.06" text-anchor="middle" fill="#ffb44b" font-size="11.11">1.600</text>
<text transform="translate(1124.4 237.1) rotate(55)" y="4.06" text-anchor="middle" fill="#ff7a85" font-size="11.11">2.400</text>
<text transform="translate(1077.5 310.6) rotate(0)" y="4.06" text-anchor="middle" fill="#ff7a85" font-size="11.11">2.400</text>
<text transform="translate(1067.2 583.3) rotate(0)" y="4.06" text-anchor="middle" fill="#ff7a85" font-size="11.11">2.400</text>
<text transform="translate(1070.4 220.2) rotate(-31.8)" y="4.06" text-anchor="middle" fill="#e83ec1" font-size="11.11">3.200</text>
<text transform="translate(1085.5 675.4) rotate(-19.4)" y="4.06" text-anchor="middle" fill="#e83ec1" font-size="11.11">3.200</text>
</g>
</g>
</g>
<g id="line2d_37">
<path d="M 580.41 518.75 
L 583.87 518.75 
" clip-path="url(#paf545c02ee)" style="fill: none; stroke: #000000; stroke-linecap: square"/>
</g>
<g id="line2d_38">
<path d="M 974.8 517.31 
L 977.17 517.31 
" clip-path="url(#paf545c02ee)" style="fill: none; stroke: #000000; stroke-linecap: square"/>
</g>
<g id="patch_7">
<path d="M 555.48 543.96 
L 555.48 99.72 
" style="fill: none; stroke: #000000; stroke-width: 0.8; stroke-linejoin: miter; stroke-linecap: square"/>
</g>
<g id="patch_8">
<path d="M 999.72 543.96 
L 999.72 99.72 
" style="fill: none; stroke: #000000; stroke-width: 0.8; stroke-linejoin: miter; stroke-linecap: square"/>
</g>
<g id="patch_9">
<path d="M 555.48 543.96 
L 999.72 543.96 
" style="fill: none; stroke: #000000; stroke-width: 0.8; stroke-linejoin: miter; stroke-linecap: square"/>
</g>
<g id="patch_10">
<path d="M 555.48 99.72 
L 999.72 99.72 
" style="fill: none; stroke: #000000; stroke-width: 0.8; stroke-linejoin: miter; stroke-linecap: square"/>
</g>
<g id="text_42">
<text style="font-size: 10px; text-anchor: start" x="565.192884" y="531.331744">10 kpc</text>
</g>
</g>
<g id="axes_3">
<g id="patch_11">
<path d="M 1002.96 543.6 
L 1011.84 543.6 
L 1011.84 99.36 
L 1002.96 99.36 
z
" style="fill: #ffffff"/>
</g>
<g transform="scale(.72)">
<g id="cbar" fill-opacity=".2" shape-rendering="crispEdges">
<rect x="1393" y="752" width="12" height="3" fill="#ffffff"/>
<rect x="1393" y="750" width="12" height="3" fill="#fffff3"/>
<rect x="1393" y="747" width="12" height="4" fill="#ffffe6"/>
<rect x="1393" y="745" width="12" height="3" fill="#ffffda"/>
<rect x="1393" y="742" width="12" height="4" fill="#ffffcd"/>
<rect x="1393" y="740" width="12" height="3" fill="#ffffc0"/>
<rect x="1393" y="738" width="12" height="3" fill="#ffffb4"/>
<rect x="1393" y="735" width="12" height="4" fill="#ffffa7"/>
<rect x="1393" y="733" width="12" height="3" fill="#ffff9b"/>
<rect x="1393" y="730" width="12" height="4" fill="#ffff8e"/>
<rect x="1393" y="728" width="12" height="3" fill="#ffff82"/>
<rect x="1393" y="726" width="12" height="3" fill="#ffff76"/>
<rect x="1393" y="723" width="12" height="4" fill="#ffff69"/>
<rect x="1393" y="721" width="12" height="3" fill="#ffff5c"/>
<rect x="1393" y="718" width="12" height="4" fill="#ffff50"/>
<rect x="1393" y="716" width="12" height="3" fill="#ffff43"/>
<rect x="1393" y="714" width="12" height="3" fill="#ffff37"/>
<rect x="1393" y="711" width="12" height="4" fill="#ffff2a"/>
<rect x="1393" y="709" width="12" height="3" fill="#ffff1e"/>
<rect x="1393" y="706" width="12" height="4" fill="#ffff11"/>
<rect x="1393" y="704" width="12" height="3" fill="#ffff05"/>
<rect x="1393" y="701" width="12" height="4" fill="#fffe01"/>
<rect x="1393" y="699" width="12" height="3" fill="#fffc03"/>
<rect x="1393" y="697" width="12" height="3" fill="#fffa05"/>
<rect x="1393" y="694" width="12" height="4" fill="#fff807"/>
<rect x="1393" y="692" width="12" height="3" fill="#fff609"/>
<rect x="1393" y="689" width="12" height="4" fill="#fff40b"/>
<rect x="1393" y="687" width="12" height="3" fill="#fff20d"/>
<rect x="1393" y="685" width="12" height="3" fill="#fff00f"/>
<rect x="1393" y="682" width="12" height="4" fill="#ffee11"/>
<rect x="1393" y="680" width="12" height="3" fill="#ffec13"/>
<rect x="1393" y="677" width="12" height="4" fill="#ffea15"/>
<rect x="1393" y="675" width="12" height="3" fill="#ffe817"/>
<rect x="1393" y="673" width="12" height="3" fill="#ffe619"/>
<rect x="1393" y="670" width="12" height="4" fill="#ffe41b"/>
<rect x="1393" y="668" width="12" height="3" fill="#ffe21d"/>
<rect x="1393" y="665" width="12" height="4" fill="#ffe01f"/>
<rect x="1393" y="663" width="12" height="3" fill="#ffde21"/>
<rect x="1393" y="661" width="12" height="3" fill="#ffdc23"/>
<rect x="1393" y="658" width="12" height="3" fill="#ffda25"/>
<rect x="1393" y="656" width="12" height="3" fill="#ffd827"/>
<rect x="1393" y="653" width="12" height="4" fill="#ffd629"/>
<rect x="1393" y="651" width="12" height="3" fill="#ffd42b"/>
<rect x="1393" y="648" width="12" height="4" fill="#ffd22d"/>
<rect x="1393" y="646" width="12" height="3" fill="#ffd02f"/>
<rect x="1393" y="644" width="12" height="3" fill="#ffce31"/>
<rect x="1393" y="641" width="12" height="4" fill="#ffcc33"/>
<rect x="1393" y="639" width="12" height="3" fill="#ffca35"/>
<rect x="1393" y="636" width="12" height="4" fill="#ffc837"/>
<rect x="1393" y="634" width="12" height="3" fill="#ffc639"/>
<rect x="1393" y="632" width="12" height="3" fill="#ffc43b"/>
<rect x="1393" y="629" width="12" height="4" fill="#ffc23d"/>
<rect x="1393" y="627" width="12" height="3" fill="#ffc03f"/>
<rect x="1393" y="624" width="12" height="4" fill="#ffbe41"/>
<rect x="1393" y="622" width="12" height="3" fill="#ffbc43"/>
<rect x="1393" y="620" width="12" height="3" fill="#ffba45"/>
<rect x="1393" y="617" width="12" height="4" fill="#ffb847"/>
<rect x="1393" y="615" width="12" height="3" fill="#ffb649"/>
<rect x="1393" y="612" width="12" height="4" fill="#ffb44b"/>
<rect x="1393" y="610" width="12" height="3" fill="#ffb24d"/>
<rect x="1393" y="608" width="12" height="3" fill="#ffb04f"/>
<rect x="1393" y="605" width="12" height="3" fill="#ffae51"/>
<rect x="1393" y="603" width="12" height="3" fill="#ffac53"/>
<rect x="1393" y="600" width="12" height="4" fill="#ffaa55"/>
<rect x="1393" y="598" width="12" height="3" fill="#ffa857"/>
<rect x="1393" y="595" width="12" height="4" fill="#ffa659"/>
<rect x="1393" y="593" width="12" height="3" fill="#ffa45b"/>
<rect x="1393" y="591" width="12" height="3" fill="#ffa25d"/>
<rect x="1393" y="588" width="12" height="4" fill="#ffa05f"/>
<rect x="1393" y="586" width="12" height="3" fill="#ff9e61"/>
<rect x="1393" y="583" width="12" height="4" fill="#ff9c63"/>
<rect x="1393" y="581" width="12" height="3" fill="#ff9a65"/>
<rect x="1393" y="579" width="12" height="3" fill="#ff9867"/>
<rect x="1393" y="576" width="12" height="4" fill="#ff9669"/>
<rect x="1393" y="574" width="12" height="3" fill="#ff946b"/>
<rect x="1393" y="571" width="12" height="4" fill="#ff926d"/>
<rect x="1393" y="569" width="12" height="3" fill="#ff906f"/>
<rect x="1393" y="567" width="12" height="3" fill="#ff8e71"/>
<rect x="1393" y="564" width="12" height="3" fill="#ff8c73"/>
<rect x="1393" y="562" width="12" height="3" fill="#ff8a75"/>
<rect x="1393" y="559" width="12" height="4" fill="#ff8877"/>
<rect x="1393" y="557" width="12" height="3" fill="#ff8679"/>
<rect x="1393" y="554" width="12" height="4" fill="#ff847b"/>
<rect x="1393" y="552" width="12" height="3" fill="#ff827d"/>
<rect x="1393" y="550" width="12" height="3" fill="#ff807f"/>
<rect x="1393" y="547" width="12" height="4" fill="#ff7e81"/>
<rect x="1393" y="545" width="12" height="3" fill="#ff7c83"/>
<rect x="1393" y="542" width="12" height="4" fill="#ff7a85"/>
<rect x="1393" y="540" width="12" height="3" fill="#ff7887"/>
<rect x="1393" y="538" width="12" height="3" fill="#ff7689"/>
<rect x="1393" y="535" width="12" height="4" fill="#ff748b"/>
<rect x="1393" y="533" width="12" height="3" fill="#ff728d"/>
<rect x="1393" y="530" width="12" height="4" fill="#ff708f"/>
<rect x="1393" y="528" width="12" height="3" fill="#ff6e91"/>
<rect x="1393" y="526" width="12" height="3" fill="#ff6c93"/>
<rect x="1393" y="523" width="12" height="4" fill="#ff6a95"/>
<rect x="1393" y="521" width="12" height="3" fill="#ff6897"/>
<rect x="1393" y="518" width="12" height="4" fill="#ff6699"/>
<rect x="1393" y="516" width="12" height="3" fill="#ff649b"/>
<rect x="1393" y="514" width="12" height="3" fill="#ff629d"/>
<rect x="1393" y="511" width="12" height="3" fill="#ff609f"/>
<rect x="1393" y="509" width="12" height="3" fill="#ff5ea1"/>
<rect x="1393" y="506" width="12" height="4" fill="#ff5ca3"/>
<rect x="1393" y="504" width="12" height="3" fill="#ff5aa5"/>
<rect x="1393" y="501" width="12" height="4" fill="#ff58a7"/>
<rect x="1393" y="499" width="12" height="3" fill="#ff56a9"/>
<rect x="1393" y="497" width="12" height="3" fill="#ff54ab"/>
<rect x="1393" y="494" width="12" height="4" fill="#ff52ad"/>
<rect x="1393" y="492" width="12" height="3" fill="#ff50af"/>
<rect x="1393" y="489" width="12" height="4" fill="#ff4eb1"/>
<rect x="1393" y="487" width="12" height="3" fill="#fe4cb3"/>
<rect x="1393" y="485" width="12" height="3" fill="#fb4ab5"/>
<rect x="1393" y="482" width="12" height="4" fill="#f848b7"/>
<rect x="1393" y="480" width="12" height="3" fill="#f546b9"/>
<rect x="1393" y="477" width="12" height="4" fill="#f144bb"/>
<rect x="1393" y="475" width="12" height="3" fill="#ee42bd"/>
<rect x="1393" y="473" width="12" height="3" fill="#eb40bf"/>
<rect x="1393" y="470" width="12" height="3" fill="#e83ec1"/>
<rect x="1393" y="468" width="12" height="3" fill="#e53cc3"/>
<rect x="1393" y="465" width="12" height="4" fill="#e23ac5"/>
<rect x="1393" y="463" width="12" height="3" fill="#df38c7"/>
<rect x="1393" y="460" width="12" height="4" fill="#dc36c9"/>
<rect x="1393" y="458" width="12" height="3" fill="#d834cb"/>
<rect x="1393" y="456" width="12" height="3" fill="#d532cd"/>
<rect x="1393" y="453" width="12" height="4" fill="#d230cf"/>
<rect x="1393" y="451" width="12" height="3" fill="#cf2ed1"/>
<rect x="1393" y="448" width="12" height="4" fill="#cc2cd3"/>
<rect x="1393" y="446" width="12" height="3" fill="#c92ad5"/>
<rect x="1393" y="444" width="12" height="3" fill="#c628d7"/>
<rect x="1393" y="441" width="12" height="4" fill="#c326d9"/>
<rect x="1393" y="439" width="12" height="3" fill="#bf24db"/>
<rect x="1393" y="436" width="12" height="4" fill="#bc22dd"/>
<rect x="1393" y="434" width="12" height="3" fill="#b920df"/>
<rect x="1393" y="432" width="12" height="3" fill="#b61ee1"/>
<rect x="1393" y="429" width="12" height="4" fill="#b31ce3"/>
<rect x="1393" y="427" width="12" height="3" fill="#b01ae5"/>
<rect x="1393" y="424" width="12" height="4" fill="#ad18e7"/>
<rect x="1393" y="422" width="12" height="3" fill="#aa16e9"/>
<rect x="1393" y="420" width="12" height="3" fill="#a614eb"/>
<rect x="1393" y="417" width="12" height="3" fill="#a312ed"/>
<rect x="1393" y="415" width="12" height="3" fill="#a010ef"/>
<rect x="1393" y="412" width="12" height="4" fill="#9d0ef1"/>
<rect x="1393" y="410" width="12" height="3" fill="#9a0cf3"/>
<rect x="1393" y="407" width="12" height="4" fill="#970af5"/>
<rect x="1393" y="405" width="12" height="3" fill="#9408f7"/>
<rect x="1393" y="403" width="12" height="3" fill="#9106f9"/>
<rect x="1393" y="400" width="12" height="4" fill="#8d04fb"/>
<rect x="1393" y="398" width="12" height="3" fill="#8a02fd"/>
<rect x="1393" y="395" width="12" height="4" fill="#8700ff"/>
<rect x="1393" y="393" width="12" height="3" fill="#8400ff"/>
<rect x="1393" y="391" width="12" height="3" fill="#8100ff"/>
<rect x="1393" y="388" width="12" height="4" fill="#7e00ff"/>
<rect x="1393" y="386" width="12" height="3" fill="#7b00ff"/>
<rect x="1393" y="383" width="12" height="4" fill="#7800ff"/>
<rect x="1393" y="381" width="12" height="3" fill="#7400ff"/>
<rect x="1393" y="379" width="12" height="3" fill="#7100ff"/>
<rect x="1393" y="376" width="12" height="3" fill="#6e00ff"/>
<rect x="1393" y="374" width="12" height="3" fill="#6b00ff"/>
<rect x="1393" y="371" width="12" height="4" fill="#6800ff"/>
<rect x="1393" y="369" width="12" height="3" fill="#6500ff"/>
<rect x="1393" y="366" width="12" height="4" fill="#6200ff"/>
<rect x="1393" y="364" width="12" height="3" fill="#5f00ff"/>
<rect x="1393" y="362" width="12" height="3" fill="#5b00ff"/>
<rect x="1393" y="359" width="12" height="4" fill="#5800ff"/>
<rect x="1393" y="357" width="12" height="3" fill="#5500ff"/>
<rect x="1393" y="354" width="12" height="4" fill="#5200ff"/>
<rect x="1393" y="352" width="12" height="3" fill="#4f00ff"/>
<rect x="1393" y="350" width="12" height="3" fill="#4c00ff"/>
<rect x="1393" y="347" width="12" height="4" fill="#4900ff"/>
<rect x="1393" y="345" width="12" height="3" fill="#4600ff"/>
<rect x="1393" y="342" width="12" height="4" fill="#4200ff"/>
<rect x="1393" y="340" width="12" height="3" fill="#3f00ff"/>
<rect x="1393" y="338" width="12" height="3" fill="#3c00ff"/>
<rect x="1393" y="335" width="12" height="4" fill="#3900ff"/>
<rect x="1393" y="333" width="12" height="3" fill="#3600ff"/>
<rect x="1393" y="330" width="12" height="4" fill="#3300ff"/>
<rect x="1393" y="328" width="12" height="3" fill="#3000ff"/>
<rect x="1393" y="326" width="12" height="3" fill="#2d00ff"/>
<rect x="1393" y="323" width="12" height="3" fill="#2900ff"/>
<rect x="1393" y="321" width="12" height="3" fill="#2600ff"/>
<rect x="1393" y="318" width="12" height="4" fill="#2300ff"/>
<rect x="1393" y="316" width="12" height="3" fill="#2000ff"/>
<rect x="1393" y="313" width="12" height="4" fill="#1d00ff"/>
<rect x="1393" y="311" width="12" height="3" fill="#1a00ff"/>
<rect x="1393" y="309" width="12" height="3" fill="#1700ff"/>
<rect x="1393" y="306" width="12" height="4" fill="#1400ff"/>
<rect x="1393" y="304" width="12" height="3" fill="#1000ff"/>
<rect x="1393" y="301" width="12" height="4" fill="#0d00ff"/>
<rect x="1393" y="299" width="12" height="3" fill="#0a00ff"/>
<rect x="1393" y="297" width="12" height="3" fill="#0700ff"/>
<rect x="1393" y="294" width="12" height="4" fill="#0400ff"/>
<rect x="1393" y="292" width="12" height="3" fill="#0100ff"/>
<rect x="1393" y="289" width="12" height="4" fill="#0000fc"/>
<rect x="1393" y="287" width="12" height="3" fill="#0000f8"/>
<rect x="1393" y="285" width="12" height="3" fill="#0000f4"/>
<rect x="1393" y="282" width="12" height="3" fill="#0000f0"/>
<rect x="1393" y="280" width="12" height="3" fill="#0000ec"/>
<rect x="1393" y="277" width="12" height="4" fill="#0000e8"/>
<rect x="1393" y="275" width="12" height="3" fill="#0000e4"/>
<rect x="1393" y="272" width="12" height="4" fill="#0000e0"/>
<rect x="1393" y="270" width="12" height="3" fill="#0000dc"/>
<rect x="1393" y="268" width="12" height="3" fill="#0000d8"/>
<rect x="1393" y="265" width="12" height="4" fill="#0000d4"/>
<rect x="1393" y="263" width="12" height="3" fill="#0000d0"/>
<rect x="1393" y="260" width="12" height="4" fill="#0000cc"/>
<rect x="1393" y="258" width="12" height="3" fill="#0000c8"/>
<rect x="1393" y="256" width="12" height="3" fill="#0000c4"/>
<rect x="1393" y="253" width="12" height="4" fill="#0000c0"/>
<rect x="1393" y="251" width="12" height="3" fill="#0000bc"/>
<rect x="1393" y="248" width="12" height="4" fill="#0000b8"/>
<rect x="1393" y="246" width="12" height="3" fill="#0000b4"/>
<rect x="1393" y="244" width="12" height="3" fill="#0000b0"/>
<rect x="1393" y="241" width="12" height="4" fill="#0000ac"/>
<rect x="1393" y="239" width="12" height="3" fill="#0000a8"/>
<rect x="1393" y="236" width="12" height="4" fill="#0000a4"/>
<rect x="1393" y="234" width="12" height="3" fill="#0000a0"/>
<rect x="1393" y="232" width="12" height="3" fill="#00009c"/>
<rect x="1393" y="229" width="12" height="3" fill="#000098"/>
<rect x="1393" y="227" width="12" height="3" fill="#000094"/>
<rect x="1393" y="224" width="12" height="4" fill="#000090"/>
<rect x="1393" y="222" width="12" height="3" fill="#00008c"/>
<rect x="1393" y="219" width="12" height="4" fill="#000088"/>
<rect x="1393" y="217" width="12" height="3" fill="#000084"/>
<rect x="1393" y="215" width="12" height="3" fill="#000080"/>
<rect x="1393" y="212" width="12" height="4" fill="#00007c"/>
<rect x="1393" y="210" width="12" height="3" fill="#000078"/>
<rect x="1393" y="207" width="12" height="4" fill="#000074"/>
<rect x="1393" y="205" width="12" height="3" fill="#000070"/>
<rect x="1393" y="203" width="12" height="3" fill="#00006c"/>
<rect x="1393" y="200" width="12" height="4" fill="#000068"/>
<rect x="1393" y="198" width="12" height="3" fill="#000064"/>
<rect x="1393" y="195" width="12" height="4" fill="#000060"/>
<rect x="1393" y="193" width="12" height="3" fill="#00005c"/>
<rect x="1393" y="191" width="12" height="3" fill="#000058"/>
<rect x="1393" y="188" width="12" height="4" fill="#000054"/>
<rect x="1393" y="186" width="12" height="3" fill="#000050"/>
<rect x="1393" y="183" width="12" height="4" fill="#00004c"/>
<rect x="1393" y="181" width="12" height="3" fill="#000048"/>
<rect x="1393" y="178" width="12" height="4" fill="#000044"/>
<rect x="1393" y="176" width="12" height="3" fill="#000040"/>
<rect x="1393" y="174" width="12" height="3" fill="#00003c"/>
<rect x="1393" y="171" width="12" height="4" fill="#000038"/>
<rect x="1393" y="169" width="12" height="3" fill="#000034"/>
<rect x="1393" y="166" width="12" height="4" fill="#000030"/>
<rect x="1393" y="164" width="12" height="3" fill="#00002c"/>
<rect x="1393" y="162" width="12" height="3" fill="#000028"/>
<rect x="1393" y="159" width="12" height="4" fill="#000024"/>
<rect x="1393" y="157" width="12" height="3" fill="#000020"/>
<rect x="1393" y="154" width="12" height="4" fill="#00001c"/>
<rect x="1393" y="152" width="12" height="3" fill="#000018"/>
<rect x="1393" y="150" width="12" height="3" fill="#000014"/>
<rect x="1393" y="147" width="12" height="4" fill="#000010"/>
<rect x="1393" y="145" width="12" height="3" fill="#00000c"/>
<rect x="1393" y="142" width="12" height="4" fill="#000008"/>
<rect x="1393" y="140" width="12" height="3" fill="#000004"/>
<rect x="1393" y="138" width="12" height="3" fill="#000000"/>
</g>
</g>
<g id="matplotlib.axis_3"/>
<g id="matplotlib.axis_4">
<g id="ytick_10">
<g id="line2d_39">
<defs>
<path id="m732f56d4ce" d="M 0 0 
L 3.5 0 
" style="stroke: #000000; stroke-width: 0.8"/>
</defs>
<g>
<use href="#m732f56d4ce" x="1011.96" y="543.96" style="stroke: #000000; stroke-width: 0.8"/>
</g>
</g>
<g id="text_43" transform="translate(.36 .36)">
<text style="font-size: 10px; text-anchor: start" x="1018.8448" y="547.399219">0</text>
</g>
</g>
<g id="ytick_11">
<g id="line2d_40">
<g>
<use href="#m732f56d4ce" x="1011.96" y="479.88" style="stroke: #000000; stroke-width: 0.8"/>
</g>
</g>
<g id="text_44" transform="translate(.36 .36)">
<text style="font-size: 10px; text-anchor: start" x="1018.8448" y="483.936362">1</text>
</g>
</g>
<g id="ytick_12">
<g id="line2d_41">
<g>
<use href="#m732f56d4ce" x="1011.96" y="416.52" style="stroke: #000000; stroke-width: 0.8"/>
</g>
</g>
<g id="text_45" transform="translate(.36 .36)">
<text style="font-size: 10px; text-anchor: start" x="1018.8448" y="420.473504">2</text>
</g>
</g>
<g id="ytick_13">
<g id="line2d_42">
<g>
<use href="#m732f56d4ce" x="1011.96" y="353.16" style="stroke: #000000; stroke-width: 0.8"/>
</g>
</g>
<g id="text_46" transform="translate(.36 .36)">
<text style="font-size: 10px; text-anchor: start" x="1018.8448" y="357.010647">3</text>
</g>
</g>
<g id="ytick_14">
<g id="line2d_43">
<g>
<use href="#m732f56d4ce" x="1011.96" y="289.8" style="stroke: #000000; stroke-width: 0.8"/>
</g>
</g>
<g id="text_47" transform="translate(.36 .36)">
<text style="font-size: 10px; text-anchor: start" x="1018.8448" y="293.54779">4</text>
</g>
</g>
<g id="ytick_15">
<g id="line2d_44">
<g>
<use href="#m732f56d4ce" x="1011.96" y="226.44" style="stroke: #000000; stroke-width: 0.8"/>
</g>
</g>
<g id="text_48" transform="translate(.36 .36)">
<text style="font-size: 10px; text-anchor: start" x="1018.8448" y="230.084933">5</text>
</g>
</g>
<g id="ytick_16">
<g id="line2d_45">
<g>
<use href="#m732f56d4ce" x="1011.96" y="163.08" style="stroke: #000000; stroke-width: 0.8"/>
</g>
</g>
<g id="text_49" transform="translate(.36 .36)">
<text style="font-size: 10px; text-anchor: start" x="1018.8448" y="166.622076">6</text>
</g>
</g>
<g id="ytick_17">
<g id="line2d_46">
<g>
<use href="#m732f56d4ce" x="1011.96" y="99.72" style="stroke: #000000; stroke-width: 0.8"/>
</g>
</g>
<g id="text_50" transform="translate(.36 .36)">
<text style="font-size: 10px; text-anchor: start" x="1018.8448" y="103.159219">7</text>
</g>
</g>
</g>
<g id="LineCollection_1"/>
<g id="patch_12">
<path d="M 1003.32 543.96 
L 1007.64 543.96 
L 1011.96 543.96 
L 1011.96 99.72 
L 1007.64 99.72 
L 1003.32 99.72 
L 1003.32 543.96 
z
" style="fill: none; stroke: #000000; stroke-width: 0.8; stroke-linejoin: miter; stroke-linecap: square"/>
</g>
</g>
<g transform="scale(.72)">
<g id="title" font-size="17.4" text-anchor="middle" transform="translate(685 0) scale(.9555 1)">
<text x="0" y="24" transform="translate(.2 0) scale(1.0055 1)">Projected image of the jets for an ordered boosted synchrotron emission.</text>
<text x="0" y="45">With phi = 80deg, jet aperture angle = 10.0deg, nu = 5e+09 Hz, B = 1e-04 T, gamma_max = 1e+4.5, p = 3.15, gamma_bulk = 4.0.</text>
</g>
<text id="cblabel" transform="translate(1440.6 549.8) rotate(-90)" font-size="13.89"><tspan font-style="oblique">log</tspan><tspan font-size="9.72" dy="2.28">10</tspan><tspan dy="-2.28"> Intensity (arbitrary unit)</tspan></text>
<text id="plabel" x="1337.3" y="735.9" font-size="13.89"><tspan font-style="oblique">p</tspan><tspan font-size="9.72" dx="-1" dy="1.8">100%</tspan></text>
</g>
</g>
<defs>
<clipPath id="p69b6f4b5b6">
<rect x="-2.90592" y="61.992" width="475.9344" height="519.9264"/>
</clipPath>
<clipPath id="paf545c02ee">
<rect x="555.12" y="99.36" width="444.24" height="444.24"/>
</clipPath>
</defs>
</svg>

</body>
</html>
